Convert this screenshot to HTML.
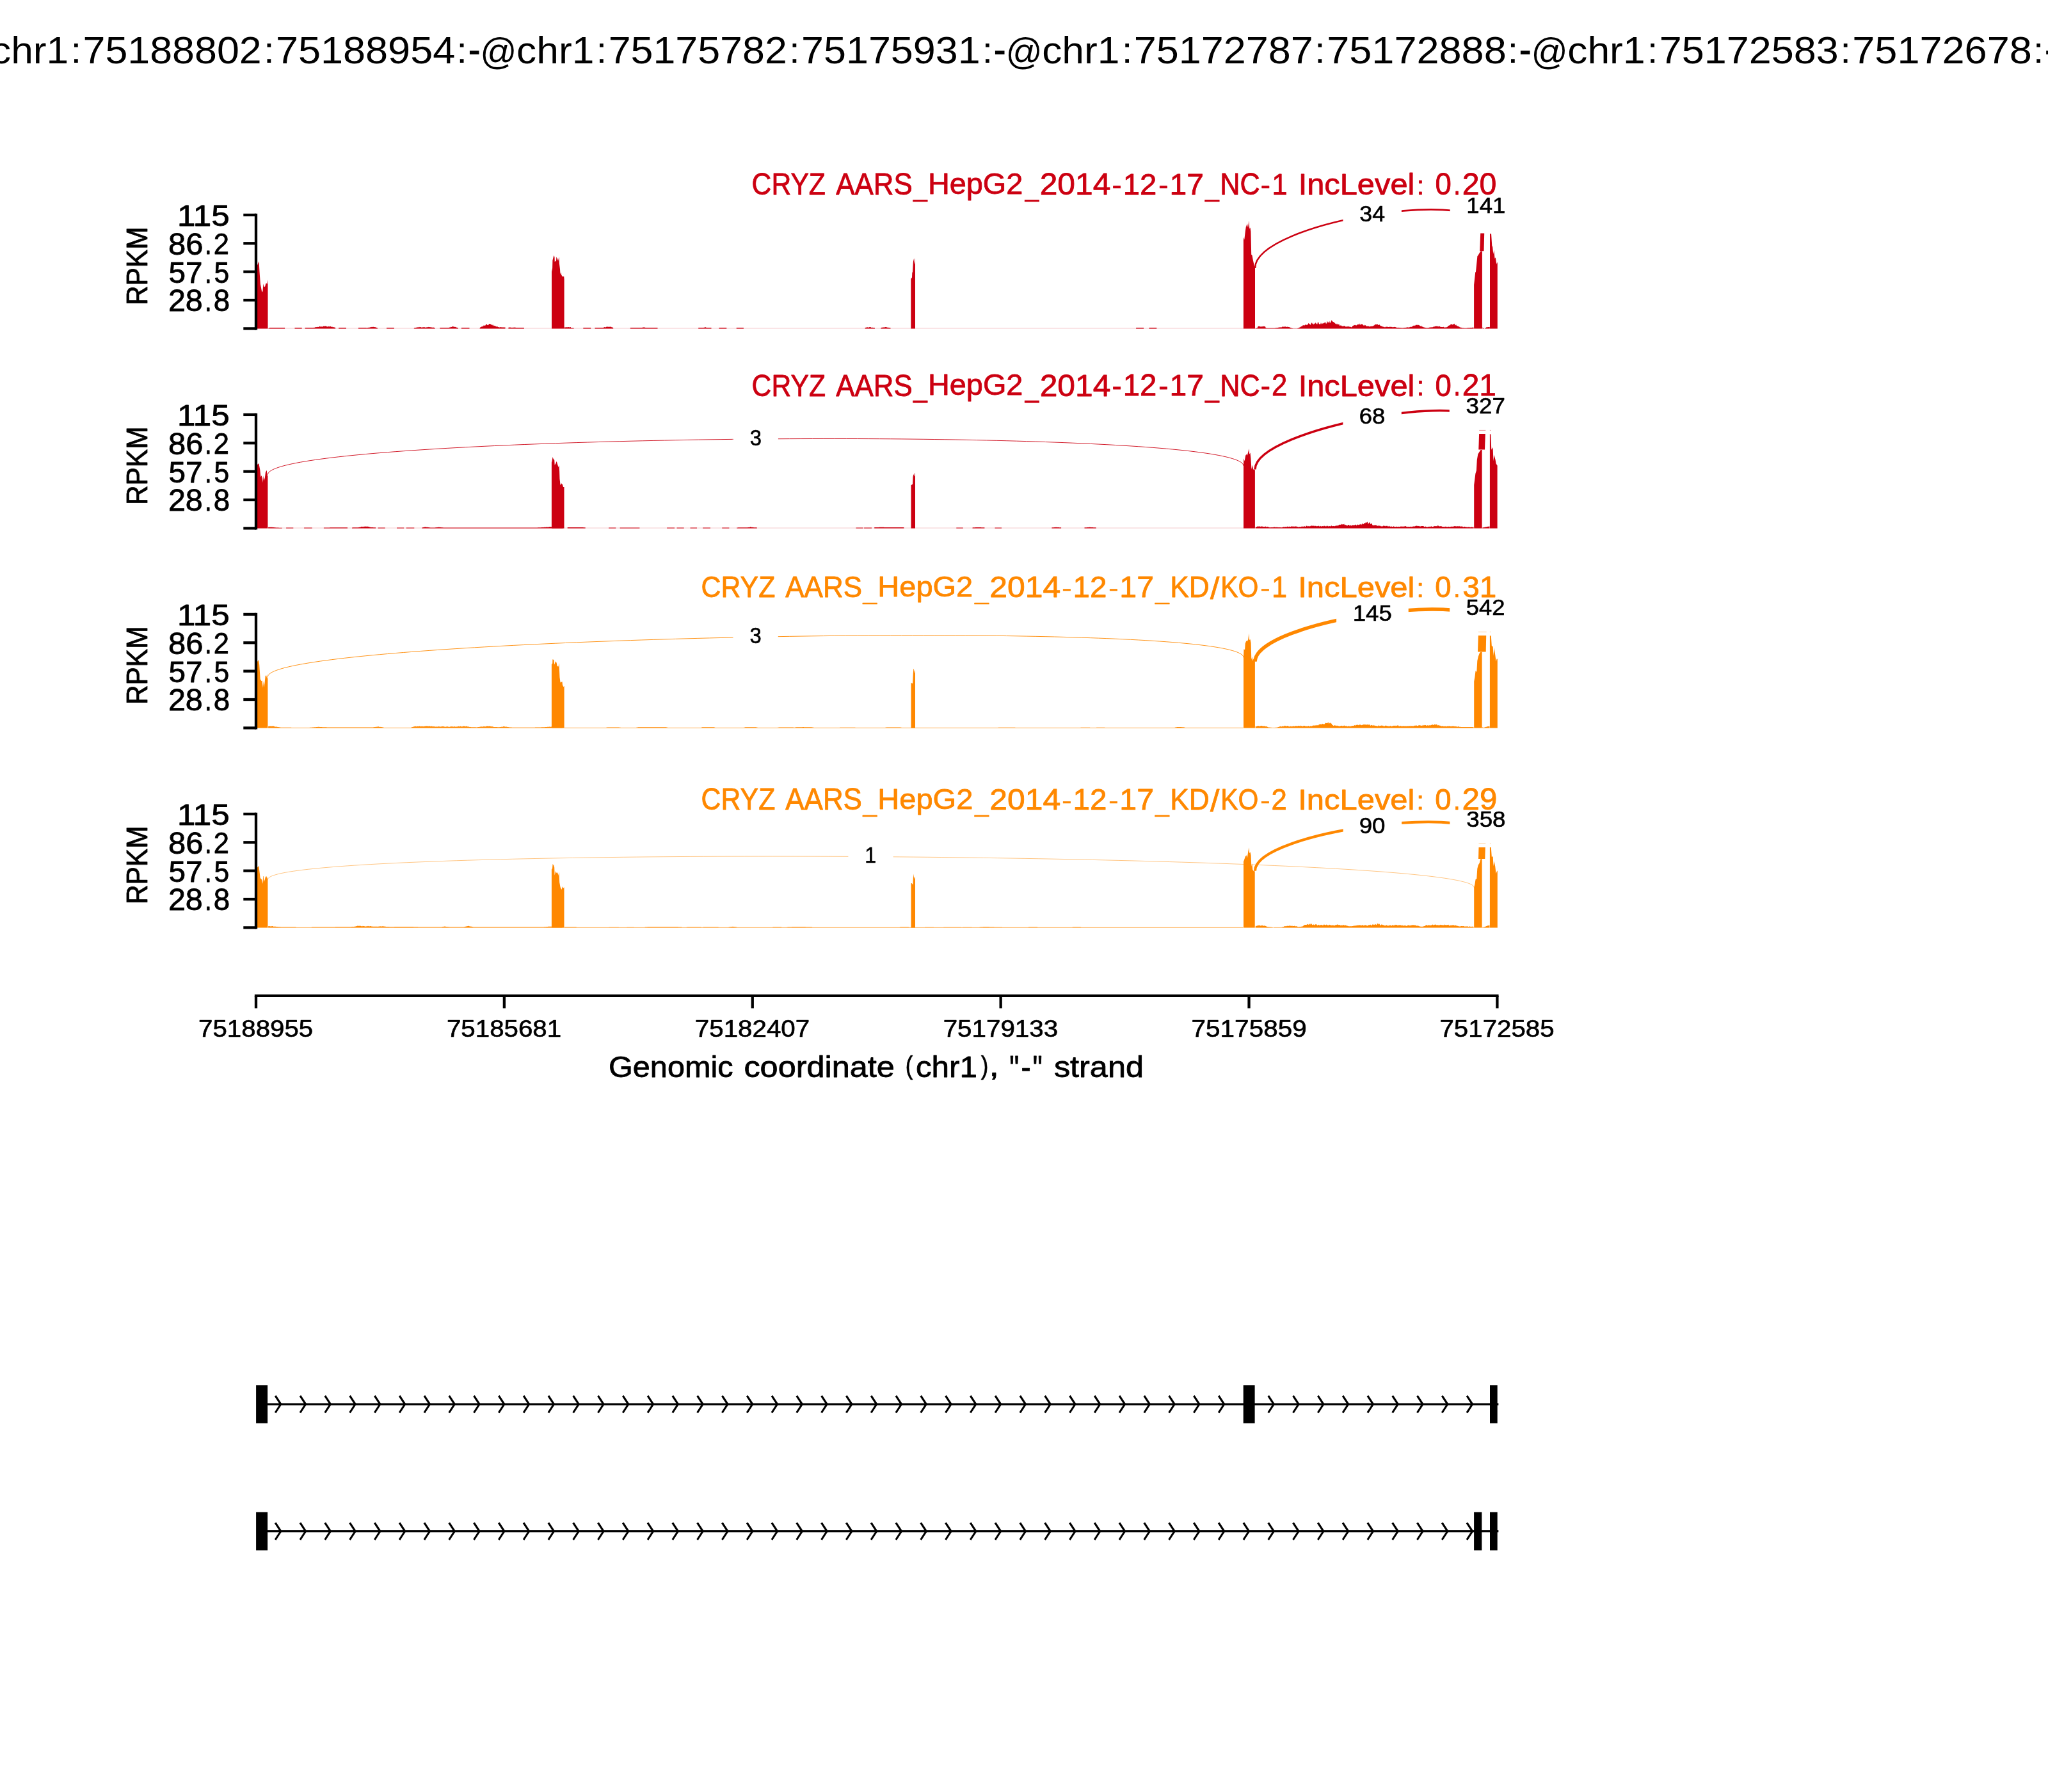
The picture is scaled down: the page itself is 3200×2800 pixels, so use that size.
<!DOCTYPE html><html><head><meta charset="utf-8"><title>sashimi</title><style>html,body{margin:0;padding:0;background:#fff}svg{display:block;will-change:transform}text{white-space:pre}</style></head><body><svg width="3200" height="2800" viewBox="0 0 3200 2800"><rect width="3200" height="2800" fill="#fff"/><g><rect x="402" y="512.6" width="1937.8" height="0.8" fill="#CC0011" opacity="0.27"/><path d="M419.2,513.4L419.2,513.14L419.9,512.88L420.6,512.62L421.3,512.36L422,512.1L422.7,512.1L423.4,512.1L424.1,512.1L424.8,512.1L425.5,512.1L426.2,512.1L426.9,512.1L427.6,512.1L428.3,512.1L429,512.1L429.7,512.1L430.4,512.1L431.1,512.1L431.8,512.1L432.5,512.1L433.2,512.1L433.9,512.1L434.6,512.1L435.3,512.1L436,512.1L436.7,512.1L437.4,512.1L438.1,512.1L438.8,512.1L439.5,512.1L440.2,512.1L440.9,512.1L441.6,512.1L442.3,512.1L443,512.1L443.7,512.1L444.4,512.1L445.1,512.1L445.1,513.4ZM460.5,513.4L460.5,512.1L461.2,512.1L461.9,512.1L462.6,512.1L463.3,512.1L464,512.1L464.7,512.1L465.4,512.1L466.1,512.1L466.8,512.1L467.5,512.1L468.2,512.1L468.9,512.1L469.6,512.1L470.3,512.1L471,512.1L471.7,512.1L471.7,513.4ZM476.6,513.4L476.6,512.09L477.3,512.08L478,512.07L478.7,512.06L479.4,512.05L480.1,512.04L480.8,512.03L481.5,512.02L482.2,512.01L482.9,512L483.6,511.99L484.3,511.98L485,511.97L485.7,511.96L486.4,511.95L487.1,511.94L487.8,511.93L488.5,511.92L489.2,511.91L489.9,511.9L490.6,511.8L491.3,511.95L492,511.6L492.7,511.22L493.4,511.15L494.1,510.99L494.8,511.17L495.5,510.66L496.2,510.83L496.9,511.26L497.6,510.72L498.3,511.13L499,509.91L499.7,509.78L500.4,510.5L501.1,510.44L501.8,509.68L502.5,510.42L503.2,510.4L503.9,510.38L504.6,510.14L505.3,509.71L506,509.19L506.7,510.35L507.4,509.2L508.1,509.81L508.8,509.28L509.5,509.41L510.2,510.44L510.9,509.74L511.6,510.57L512.3,510.79L513,510.27L513.7,509.77L514.4,510.12L515.1,510.69L515.8,509.85L516.5,509.81L517.2,510.78L517.9,510.66L518.6,510.58L519.3,510.45L520,511.43L520.7,511.14L521.4,510.92L522.1,511.4L522.8,511.47L523.5,511.6L524.2,512.5L524.2,513.4ZM529.1,513.4L529.1,512.1L529.8,512.1L530.5,512.1L531.2,512.1L531.9,512.1L532.6,512.1L533.3,512.1L534,512.1L534.7,512.1L535.4,512.1L536.1,512.1L536.8,512.1L537.5,512.1L538.2,512.1L538.9,512.1L539.6,512.1L540.3,512.1L541,512.1L541,513.4ZM559.9,513.4L559.9,512.1L560.6,512.1L561.3,512.1L562,512.1L562.7,512.1L563.4,512.1L564.1,512.1L564.8,512.1L565.5,512.1L566.2,512.1L566.9,512.1L567.6,512.1L568.3,512.1L569,512.1L569.7,512.1L570.4,512.1L571.1,512.1L571.8,512.1L572.5,512.15L573.2,512.36L573.9,512.23L574.6,512.1L575.3,511.97L576,511.84L576.7,511.71L577.4,511.75L578.1,511.38L578.8,511.3L579.5,511.35L580.2,510.74L580.9,511.24L581.6,511.12L582.3,510.84L583,510.78L583.7,510.7L584.4,510.95L585.1,511.37L585.8,510.99L586.5,511.15L587.2,511.51L587.9,511.85L588.6,512.04L589.3,512.22L590,512.4L590,513.4ZM604,513.4L604,512.1L604.7,512.1L605.4,512.1L606.1,512.1L606.8,512.1L607.5,512.1L608.2,512.1L608.9,512.1L609.6,512.1L610.3,512.1L611,512.1L611.7,512.1L612.4,512.1L613.1,512.1L613.8,512.1L614.5,512.1L615.2,512.1L615.9,512.1L615.9,513.4ZM646.7,513.4L646.7,513.15L647.4,512.33L648.1,512.22L648.8,512.11L649.5,511.99L650.2,511.88L650.9,511.57L651.6,511.64L652.3,511.54L653,511.35L653.7,511.64L654.4,511.03L655.1,510.74L655.8,511.47L656.5,510.91L657.2,510.99L657.9,511.59L658.6,511.68L659.3,511.2L660,511.57L660.7,511.52L661.4,511.27L662.1,511.26L662.8,511.15L663.5,511.28L664.2,511.47L664.9,511.74L665.6,511.63L666.3,511.53L667,511.19L667.7,510.97L668.4,511.45L669.1,511.24L669.8,510.67L670.5,511.25L671.2,511.02L671.9,511.18L672.6,511.22L673.3,511.46L674,511.47L674.7,511.42L675.4,511.91L676.1,511.5L676.8,511.53L677.5,511.87L678.2,511.94L678.9,512.01L679.6,512.08L679.6,513.4ZM687.3,513.4L687.3,512.1L688,512.1L688.7,512.1L689.4,512.1L690.1,512.1L690.8,512.1L691.5,512.1L692.2,512.1L692.9,512.1L693.6,512.1L694.3,512.1L695,512.1L695.7,512.1L696.4,512.1L697.1,512.1L697.8,512.1L698.5,512.1L699.2,512.1L699.9,512.1L700.6,511.93L701.3,512.06L702,511.78L702.7,511.56L703.4,511.53L704.1,511.32L704.8,510.56L705.5,511L706.2,510.91L706.9,509.49L707.6,510.33L708.3,510.25L709,510.45L709.7,510.73L710.4,510.7L711.1,511.11L711.8,510.78L712.5,511.34L713.2,511.67L713.9,511.84L714.6,511.88L715.3,512.14L716,512.4L716,513.4ZM720.9,513.4L720.9,512.1L721.6,512.1L722.3,512.1L723,512.1L723.7,512.1L724.4,512.1L725.1,512.1L725.8,512.1L726.5,512.1L727.2,512.1L727.9,512.1L728.6,512.1L729.3,512.1L730,512.1L730.7,512.1L731.4,512.1L732.1,512.1L732.8,512.1L733.5,512.1L733.5,513.4ZM749.6,513.4L749.6,512.5L750.3,511.81L751,511.02L751.7,510.95L752.4,510.13L753.1,510.48L753.8,510.36L754.5,509.3L755.2,509.86L755.9,507.97L756.6,508.83L757.3,508.82L758,508.64L758.7,508.37L759.4,506.6L760.1,506.21L760.8,507.13L761.5,507.82L762.2,508.28L762.9,507.91L763.6,507.08L764.3,506.09L765,506.32L765.7,505.84L766.4,506.13L767.1,507.6L767.8,506.91L768.5,507.68L769.2,507.13L769.9,508.64L770.6,507.04L771.3,509.47L772,508.46L772.7,509.27L773.4,508.71L774.1,510.15L774.8,509.2L775.5,510.77L776.2,509.88L776.9,510.12L777.6,510.57L778.3,511.14L779,511.07L779.7,511.18L780.4,511.49L781.1,511.57L781.8,510.95L782.5,511.26L783.2,511.54L783.9,511.25L784.6,511.27L785.3,511.73L786,511.37L786.7,511.4L787.4,511.83L788.1,511.69L788.8,511.27L789.5,511.52L789.5,513.4ZM794.4,513.4L794.4,511.82L795.1,511.68L795.8,511.63L796.5,511.44L797.2,511.31L797.9,511.93L798.6,511.96L799.3,511.65L800,511.98L800.7,511.87L801.4,511.91L802.1,511.93L802.8,511.5L803.5,511.92L804.2,511.55L804.9,511.23L805.6,511.9L806.3,512.1L807,512.1L807.7,512.1L808.4,512.1L809.1,512.1L809.8,512.1L810.5,512.1L811.2,512.1L811.9,512.1L812.6,512.1L813.3,512.1L814,512.1L814.7,512.1L815.4,512.1L816.1,512.1L816.8,512.1L817.5,512.1L818.2,512.1L818.9,512.1L818.9,513.4ZM881.9,513.4L881.9,511.72L882.6,511.17L883.3,511.33L884,511.69L884.7,511L885.4,511.19L886.1,511.51L886.8,511.06L887.5,511.75L888.2,511.11L888.9,511.1L889.6,511.74L890.3,511.03L891,511.15L891.7,511.04L892.4,512.4L893.1,512.4L893.8,512.4L894.5,512.4L895.2,512.4L895.9,512.4L896.6,512.4L896.6,513.4ZM911.3,513.4L911.3,512.1L912,512.1L912.7,512.1L913.4,512.1L914.1,512.1L914.8,512.1L915.5,512.1L916.2,512.1L916.9,512.1L917.6,512.1L918.3,512.1L919,512.1L919.7,512.1L920.4,512.1L921.1,512.1L921.8,512.1L922.5,512.1L923.2,512.1L923.2,513.4ZM929.5,513.4L929.5,512.1L930.2,512.1L930.9,512.1L931.6,512.1L932.3,512.1L933,512.1L933.7,512.1L934.4,512.1L935.1,512.1L935.8,512.1L936.5,512.1L937.2,512.1L937.9,512.1L938.6,512.1L939.3,512.1L940,512.1L940.7,512.1L941.4,512.1L942.1,512.07L942.8,511.87L943.5,511.84L944.2,511.27L944.9,511.02L945.6,511.23L946.3,511.4L947,511.26L947.7,510.48L948.4,510.34L949.1,510.89L949.8,510.23L950.5,510.99L951.2,510.43L951.9,510.39L952.6,510.79L953.3,511.07L954,510.22L954.7,510.52L955.4,511.03L956.1,511.75L956.8,511.51L957.5,511.4L958.2,511.95L958.2,513.4ZM984.8,513.4L984.8,512.1L985.5,512.09L986.2,512.09L986.9,512.08L987.6,512.07L988.3,512.06L989,512.06L989.7,512.05L990.4,512.04L991.1,512.03L991.8,512.03L992.5,512.02L993.2,512.01L993.9,512.01L994.6,512L995.3,511.99L996,511.98L996.7,511.98L997.4,511.97L998.1,511.96L998.8,511.95L999.5,511.95L1000.2,511.94L1000.9,511.93L1001.6,511.92L1002.3,511.92L1003,511.91L1003.7,511.9L1004.4,511.57L1005.1,511.36L1005.8,511.7L1006.5,511.31L1007.2,511.83L1007.9,511.87L1008.6,511.91L1009.3,511.91L1010,511.92L1010.7,511.93L1011.4,511.93L1012.1,511.94L1012.8,511.95L1013.5,511.96L1014.2,511.96L1014.9,511.97L1015.6,511.98L1016.3,511.98L1017,511.99L1017.7,512L1018.4,512L1019.1,512.01L1019.8,512.02L1020.5,512.03L1021.2,512.03L1021.9,512.04L1022.6,512.05L1023.3,512.05L1024,512.06L1024.7,512.07L1025.4,512.07L1026.1,512.08L1026.8,512.09L1027.5,512.1L1027.5,513.4ZM1091.2,513.4L1091.2,512.09L1091.9,512.07L1092.6,512.06L1093.3,512.04L1094,512.03L1094.7,512.01L1095.4,512L1096.1,511.98L1096.8,511.97L1097.5,511.95L1098.2,511.94L1098.9,511.92L1099.6,511.91L1100.3,511.45L1101,511.95L1101.7,511.56L1102.4,511L1103.1,511.89L1103.8,511.83L1104.5,511.91L1105.2,511.93L1105.9,511.95L1106.6,511.97L1107.3,511.98L1108,512L1108.7,512.02L1109.4,512.04L1110.1,512.05L1110.8,512.07L1111.5,512.09L1111.5,513.4ZM1123.4,513.4L1123.4,512.1L1124.1,512.1L1124.8,512.1L1125.5,512.1L1126.2,512.1L1126.9,512.1L1127.6,512.1L1128.3,512.1L1129,512.1L1129.7,512.1L1130.4,512.1L1131.1,512.1L1131.8,512.1L1132.5,512.1L1133.2,512.1L1133.9,512.1L1134.6,512.1L1135.3,512.1L1135.3,513.4ZM1150.7,513.4L1150.7,512.1L1151.4,512.1L1152.1,512.1L1152.8,512.1L1153.5,512.1L1154.2,512.1L1154.9,512.1L1155.6,512.1L1156.3,512.1L1157,512.1L1157.7,512.1L1158.4,512.1L1159.1,512.1L1159.8,512.1L1160.5,512.1L1161.2,512.1L1161.9,512.1L1161.9,513.4ZM1351.6,513.4L1351.6,512.5L1352.3,511.87L1353,511.94L1353.7,511.87L1354.4,511.37L1355.1,511.43L1355.8,511.16L1356.5,511.71L1357.2,511.75L1357.9,511.45L1358.6,510.99L1359.3,511.13L1360,510.95L1360.7,511.26L1361.4,511.88L1362.1,511.78L1362.8,511.95L1363.5,511.84L1364.2,511.93L1364.9,512.03L1365.6,512.13L1366.3,512.23L1367,512.33L1367,513.4ZM1376.1,513.4L1376.1,513.25L1376.8,512.2L1377.5,511.85L1378.2,511.95L1378.9,511.59L1379.6,511.68L1380.3,511.36L1381,511.9L1381.7,511.08L1382.4,511.66L1383.1,511.06L1383.8,510.89L1384.5,511.7L1385.2,511.34L1385.9,511.08L1386.6,511.98L1387.3,511.7L1388,511.8L1388.7,511.91L1389.4,512.01L1390.1,512.12L1390.8,512.22L1391.5,512.33L1391.5,513.4ZM1775.1,513.4L1775.1,512.1L1775.8,512.1L1776.5,512.1L1777.2,512.1L1777.9,512.1L1778.6,512.1L1779.3,512.1L1780,512.1L1780.7,512.1L1781.4,512.1L1782.1,512.1L1782.8,512.1L1783.5,512.1L1784.2,512.1L1784.9,512.1L1785.6,512.1L1786.3,512.1L1787,512.1L1787,513.4ZM1795.4,513.4L1795.4,512.1L1796.1,512.1L1796.8,512.1L1797.5,512.1L1798.2,512.1L1798.9,512.1L1799.6,512.1L1800.3,512.1L1801,512.1L1801.7,512.1L1802.4,512.1L1803.1,512.1L1803.8,512.1L1804.5,512.1L1805.2,512.1L1805.9,512.1L1806.6,512.1L1807.3,512.1L1807.3,513.4ZM1961.7,513.4L1961.7,512.8L1962.4,512.8L1963.1,512.8L1963.8,512.8L1964.5,512.8L1965.2,510.44L1965.9,510.2L1966.6,509.4L1967.3,510.33L1968,509.19L1968.7,510.16L1969.4,510.58L1970.1,509.92L1970.8,510.36L1971.5,510.61L1972.2,510.22L1972.9,509.95L1973.6,510.38L1974.3,509.39L1975,510.25L1975.7,509.66L1976.4,510.2L1977.1,510.59L1977.8,512.6L1978.5,512.62L1979.2,512.63L1979.9,512.64L1980.6,512.65L1981.3,512.66L1982,512.67L1982.7,512.68L1983.4,512.69L1984.1,512.71L1984.8,512.72L1985.5,512.73L1986.2,512.74L1986.9,512.75L1987.6,512.76L1988.3,512.77L1989,512.78L1989.7,512.8L1990.4,512.81L1991.1,512.76L1991.8,512.66L1992.5,512.56L1993.2,512.46L1993.9,512.36L1994.6,512.26L1995.3,512.16L1996,512.06L1996.7,511.96L1997.4,511.86L1998.1,511.79L1998.8,511.48L1999.5,511.51L2000.2,511.25L2000.9,511.61L2001.6,511.49L2002.3,511.4L2003,510.9L2003.7,510.35L2004.4,510.79L2005.1,510.12L2005.8,510.98L2006.5,510.86L2007.2,510.31L2007.9,510.2L2008.6,510.21L2009.3,511.04L2010,510.57L2010.7,510.97L2011.4,510.41L2012.1,510.78L2012.8,510.84L2013.5,510.93L2014.2,510.94L2014.9,511.57L2015.6,511.34L2016.3,511.9L2017,512.14L2017.7,512.39L2018.4,512.63L2019.1,512.88L2019.8,513.12L2020.5,513.2L2021.2,513.2L2021.9,513.2L2022.6,513.2L2023.3,513.2L2024,513.2L2024.7,513.2L2025.4,513.2L2026.1,513.2L2026.8,513.2L2027.5,512.95L2028.2,512.67L2028.9,512.39L2029.6,512.08L2030.3,511.91L2031,511.12L2031.7,511.52L2032.4,510.57L2033.1,509.96L2033.8,510.02L2034.5,509.95L2035.2,508.77L2035.9,508.37L2036.6,508.15L2037.3,508.58L2038,507.82L2038.7,508.81L2039.4,507.3L2040.1,507.76L2040.8,506.61L2041.5,508.32L2042.2,506.97L2042.9,507.81L2043.6,507.01L2044.3,504.92L2045,505.49L2045.7,505.74L2046.4,506.55L2047.1,507.32L2047.8,507.47L2048.5,505.68L2049.2,504.1L2049.9,504.84L2050.6,506.55L2051.3,503.85L2052,506.38L2052.7,506.96L2053.4,505.25L2054.1,505.39L2054.8,506.71L2055.5,503.53L2056.2,505.77L2056.9,505.33L2057.6,506.59L2058.3,506.65L2059,503.16L2059.7,503.14L2060.4,504.46L2061.1,506.63L2061.8,506.31L2062.5,506.36L2063.2,506.85L2063.9,504.01L2064.6,505.3L2065.3,506.87L2066,506.03L2066.7,505.19L2067.4,504.83L2068.1,504.69L2068.8,506.04L2069.5,503.31L2070.2,505.95L2070.9,504.44L2071.6,503.12L2072.3,505.56L2073,505.81L2073.7,501.55L2074.4,502.63L2075.1,504.67L2075.8,502.4L2076.5,504.78L2077.2,501.24L2077.9,504.79L2078.6,504.3L2079.3,503.61L2080,501.44L2080.7,500.03L2081.4,503.04L2082.1,500.72L2082.8,503.03L2083.5,503.32L2084.2,502.9L2084.9,505.24L2085.6,503.88L2086.3,505.6L2087,506.58L2087.7,505.25L2088.4,506.04L2089.1,507.84L2089.8,505.39L2090.5,506.17L2091.2,507.3L2091.9,506.61L2092.6,506.94L2093.3,508.98L2094,509.1L2094.7,508.32L2095.4,508.69L2096.1,508.39L2096.8,509.63L2097.5,509.83L2098.2,509.47L2098.9,508.49L2099.6,510.3L2100.3,508.81L2101,509.52L2101.7,510.01L2102.4,510.51L2103.1,510.08L2103.8,510.19L2104.5,510.83L2105.2,510.43L2105.9,509.81L2106.6,509.87L2107.3,510.28L2108,510.75L2108.7,510.27L2109.4,511.31L2110.1,510.61L2110.8,510.72L2111.5,511.39L2112.2,510.9L2112.9,510.26L2113.6,509.03L2114.3,508.74L2115,509.04L2115.7,507.65L2116.4,508.28L2117.1,507.48L2117.8,508.35L2118.5,508.29L2119.2,508.19L2119.9,508.51L2120.6,506.86L2121.3,506.96L2122,507.49L2122.7,506.73L2123.4,506.31L2124.1,505.31L2124.8,507.71L2125.5,507.96L2126.2,505.86L2126.9,505.89L2127.6,506.68L2128.3,507.34L2129,506.44L2129.7,506.82L2130.4,508.91L2131.1,507.72L2131.8,507.73L2132.5,509.11L2133.2,508.25L2133.9,508.32L2134.6,509.34L2135.3,509.7L2136,509.67L2136.7,509.43L2137.4,509.71L2138.1,509.24L2138.8,510.03L2139.5,510.31L2140.2,510.6L2140.9,509.8L2141.6,510.07L2142.3,510.04L2143,509.53L2143.7,509.76L2144.4,509.67L2145.1,509.34L2145.8,509.5L2146.5,508.55L2147.2,508.49L2147.9,507.64L2148.6,506.21L2149.3,507.24L2150,506.52L2150.7,506.98L2151.4,507.37L2152.1,506.18L2152.8,506.98L2153.5,507.91L2154.2,507.87L2154.9,507.44L2155.6,507.11L2156.3,509.17L2157,509.27L2157.7,508.21L2158.4,509.42L2159.1,510.11L2159.8,509.46L2160.5,510.42L2161.2,511.08L2161.9,510.19L2162.6,510.79L2163.3,511.3L2164,511.3L2164.7,511.17L2165.4,510.37L2166.1,510.64L2166.8,510.55L2167.5,510.68L2168.2,510.58L2168.9,511.02L2169.6,510.92L2170.3,510.85L2171,510.51L2171.7,510.92L2172.4,510.45L2173.1,511.05L2173.8,510.75L2174.5,510.64L2175.2,511.16L2175.9,511.22L2176.6,510.67L2177.3,511.28L2178,511.05L2178.7,510.68L2179.4,511.06L2180.1,511.12L2180.8,511.25L2181.5,511.65L2182.2,511.8L2182.9,511.8L2183.6,511.94L2184.3,511.98L2185,511.83L2185.7,511.9L2186.4,511.97L2187.1,512.04L2187.8,512.11L2188.5,512.18L2189.2,512.25L2189.9,512.32L2190.6,512.39L2191.3,512.39L2192,512.32L2192.7,512.25L2193.4,512.18L2194.1,512.11L2194.8,512.04L2195.5,511.97L2196.2,511.9L2196.9,511.82L2197.6,511.73L2198.3,511.6L2199,511.37L2199.7,511.43L2200.4,511.73L2201.1,511.39L2201.8,511.34L2202.5,511.48L2203.2,510.56L2203.9,511.26L2204.6,510.62L2205.3,511L2206,510.37L2206.7,510.51L2207.4,509.18L2208.1,509.25L2208.8,508.74L2209.5,508.12L2210.2,509.21L2210.9,508.76L2211.6,508.41L2212.3,507.87L2213,507.37L2213.7,507.99L2214.4,508.16L2215.1,506.88L2215.8,508.37L2216.5,507.58L2217.2,508.82L2217.9,508.07L2218.6,508.78L2219.3,509.89L2220,508.81L2220.7,508.89L2221.4,510L2222.1,510.89L2222.8,509.95L2223.5,510.99L2224.2,510.94L2224.9,511.77L2225.6,511.56L2226.3,511.87L2227,511.97L2227.7,512.08L2228.4,512.18L2229.1,512.29L2229.8,512.39L2230.5,512.34L2231.2,512.22L2231.9,512.11L2232.6,511.99L2233.3,511.87L2234,511.54L2234.7,511.8L2235.4,511.62L2236.1,511L2236.8,511.65L2237.5,511.12L2238.2,511.49L2238.9,510.97L2239.6,510.34L2240.3,511.07L2241,510.3L2241.7,510.14L2242.4,509.75L2243.1,509.71L2243.8,509.74L2244.5,509.73L2245.2,509.31L2245.9,509.5L2246.6,510.17L2247.3,510.48L2248,509.5L2248.7,509.95L2249.4,509.48L2250.1,510.77L2250.8,510.7L2251.5,510.39L2252.2,510.9L2252.9,511.05L2253.6,511.12L2254.3,511.29L2255,510.86L2255.7,510.85L2256.4,511.55L2257.1,511.61L2257.8,511.87L2258.5,511.59L2259.2,511.25L2259.9,511.4L2260.6,511.26L2261.3,510.98L2262,510.37L2262.7,509.22L2263.4,509.05L2264.1,508.45L2264.8,507.97L2265.5,508.88L2266.2,507.58L2266.9,506.62L2267.6,506.52L2268.3,506.28L2269,507.65L2269.7,507.1L2270.4,506.19L2271.1,507.14L2271.8,505.75L2272.5,505.78L2273.2,507.16L2273.9,508.66L2274.6,507.74L2275.3,507.27L2276,509.4L2276.7,508.56L2277.4,509.51L2278.1,510.34L2278.8,509.51L2279.5,510.55L2280.2,510.4L2280.9,511.49L2281.6,511.59L2282.3,511.69L2283,511.82L2283.7,512.07L2284.4,512.32L2285.1,512.45L2285.8,512.5L2286.5,512.54L2287.2,512.59L2287.9,512.64L2288.6,512.68L2289.3,512.73L2290,512.78L2290.7,512.78L2291.4,512.64L2292.1,512.5L2292.8,512.4L2293.5,512.35L2294.2,512.3L2294.9,512.24L2295.6,512.19L2296.3,512.14L2297,512.09L2297.7,512.03L2298.4,511.98L2299.1,511.93L2299.8,511.88L2300.5,511.84L2301.2,511.84L2301.9,511.84L2302.6,511.84L2302.6,513.4ZM2316.6,513.4L2316.6,511.33L2317.3,512.21L2318,513.1L2318.7,513.24L2318.7,513.4ZM2320.1,513.4L2320.1,513.24L2320.8,513.05L2321.5,512.2L2322.2,511.38L2322.9,511.31L2323.6,511.24L2324.3,511.17L2325,511.1L2325.7,511.03L2326.4,510.96L2327.1,510.89L2327.8,510.82L2327.8,513.4Z" fill="#CC0011"/><path d="M402,513.4 L402,414.5 L404.6,408.3 L405.5,424.3 L406.9,443.9 L409.3,456.4 L410.5,455 L411.4,443.2 L412.5,448.4 L414.2,447.4 L415.2,443.2 L416.6,442.5 L417.3,443.9 L418.5,436.9 L418.5,513.4Z" fill="#CC0011" /><path d="M862,513.4 L862,424.8 L863.1,419 L863.4,406.7 L865.4,399.1 L866.5,401.6 L866.8,408.9 L869,407.4 L869.4,401.6 L870.7,403.8 L872.1,407.4 L873.4,401.6 L873.9,411.8 L875,420.5 L875.5,428.5 L876.5,425.6 L877.2,429.5 L878.7,432.1 L881.2,432.1 L881.6,436.4 L881.6,513.4Z" fill="#CC0011" /><path d="M1423.3,513.4 L1423.3,435.7 L1425,433.6 L1425.3,426.3 L1426,424.8 L1426.8,410.3 L1427.5,404.2 L1428.6,413.2 L1429.5,403.8 L1430,404.5 L1430,513.4Z" fill="#CC0011" /><path d="M1942.9,513.4 L1942.9,375.6 L1943.3,370.8 L1944.3,374.5 L1945.9,360.7 L1947.3,351.2 L1948.2,355.4 L1948.9,349.1 L1950.1,355.4 L1951.5,344.8 L1952.3,357.6 L1953.5,355.4 L1954.4,361.8 L1955.2,397.8 L1956.5,398.9 L1957.8,406.3 L1959.7,414.8 L1960.7,419 L1961,419 L1961,513.4Z" fill="#CC0011" /><path d="M2303.1,513.4 L2303.1,444.9 L2305.3,424.8 L2305.9,425.5 L2308.4,400.2 L2309.5,399 L2313.2,392.7 L2315.9,392.2 L2315.9,513.4Z" fill="#CC0011" /><path d="M2328,513.4 L2328,364.6 L2330,364.6 L2331.4,385.7 L2332,384 L2333.3,397 L2334.3,390.5 L2335.6,404 L2336.8,402.3 L2338.3,413 L2339.2,409.5 L2339.8,411.8 L2339.8,513.4Z" fill="#CC0011" /><path d="M1961,419C1961,346.5 2328,288.3 2328,360.8" fill="none" stroke="#CC0011" stroke-width="2.6" opacity="1.0"/><rect x="2098.49" y="290.2" width="91.42" height="88" fill="#fff"/><rect x="2265.69" y="277.2" width="112.62" height="88" fill="#fff"/><path d="M2312.2,392.2 L2318.5,392.2 L2319.2,364.6 L2313.2,364.6Z" fill="#CC0011" /><path d="M400,333.75V515.55" stroke="#000" stroke-width="4.3" fill="none"/><path d="M380.3,335.9H400" stroke="#000" stroke-width="4.3" fill="none"/><path d="M380.3,380.27H400" stroke="#000" stroke-width="4.3" fill="none"/><path d="M380.3,424.65H400" stroke="#000" stroke-width="4.3" fill="none"/><path d="M380.3,469.02H400" stroke="#000" stroke-width="4.3" fill="none"/><path d="M380.3,513.4H400" stroke="#000" stroke-width="4.3" fill="none"/><g transform="translate(360.6,352.9)" font-family="Liberation Sans, sans-serif" font-size="45.33" fill="#000" stroke="#000" stroke-width="0.8" stroke-linejoin="round" opacity="0.999"><text transform="translate(-83.55,0.43) scale(1.1289,1.0385)">115</text></g><g transform="translate(360.6,397.27)" font-family="Liberation Sans, sans-serif" font-size="45.33" fill="#000" stroke="#000" stroke-width="0.8" stroke-linejoin="round" opacity="0.999"><text transform="translate(-97.68,0.37) scale(1.0797,1.0510)">86</text><text transform="translate(-40.6,-0.1) scale(0.8439,1.0530)">.</text><text transform="translate(-26.82,-0.1) scale(0.9606,1.0363)">2</text></g><g transform="translate(360.6,441.65)" font-family="Liberation Sans, sans-serif" font-size="45.33" fill="#000" stroke="#000" stroke-width="0.8" stroke-linejoin="round" opacity="0.999"><text transform="translate(-97.07,0.43) scale(1.0512,1.0385)">57</text><text transform="translate(-40.6,-0.1) scale(0.8439,1.0530)">.</text><text transform="translate(-26.2,0.43) scale(0.9396,1.0385)">5</text></g><g transform="translate(360.6,486.02)" font-family="Liberation Sans, sans-serif" font-size="45.33" fill="#000" stroke="#000" stroke-width="0.8" stroke-linejoin="round" opacity="0.999"><text transform="translate(-97.69,0.37) scale(1.0688,1.0512)">28</text><text transform="translate(-40.6,-0.1) scale(0.8439,1.0530)">.</text><text transform="translate(-26.89,0.37) scale(1.0082,1.0510)">8</text></g><g transform="translate(230.6,415.85) rotate(-90)" font-family="Liberation Sans, sans-serif" font-size="45.33" fill="#000" stroke="#000" stroke-width="0.8" stroke-linejoin="round" opacity="0.999"><text transform="translate(-61.25,-0.4) scale(0.9368,1.0063)">RPKM</text></g><g transform="translate(2144.2,346.35)" font-family="Liberation Sans, sans-serif" font-size="34.0" fill="#000" stroke="#000" stroke-width="0.6" stroke-linejoin="round" opacity="0.999"><text transform="translate(-19.89,0.1) scale(1.0513,1.0522)">34</text></g><g transform="translate(2322,333.35)" font-family="Liberation Sans, sans-serif" font-size="34.0" fill="#000" stroke="#000" stroke-width="0.6" stroke-linejoin="round" opacity="0.999"><text transform="translate(-30.67,0.1) scale(1.0743,1.0522)">141</text></g><g transform="translate(2340.2,304.2)" font-family="Liberation Sans, sans-serif" font-size="45.49" fill="#CC0011" stroke="#CC0011" stroke-width="0.8" stroke-linejoin="round" opacity="0.999"><text transform="translate(-1165.59,0.07) scale(0.9377,1.0512)">CRYZ</text><text transform="translate(-1034.07,0.13) scale(0.9651,1.0532)">AARS</text><text transform="translate(-913,2.51) scale(0.8490,0.8991)">_</text><text transform="translate(-890.26,-1.44) scale(1.0301,1.0040)">HepG2</text><text transform="translate(-738.5,2.51) scale(0.8490,0.8991)">_</text><text transform="translate(-715.52,0.07) scale(1.0934,1.0512)">2014</text><text transform="translate(-602.82,-0.34) scale(1.0029,0.9143)">-</text><text transform="translate(-585.56,-0.4) scale(1.0399,1.0356)">12</text><text transform="translate(-529.98,-0.34) scale(1.0029,0.9143)">-</text><text transform="translate(-512.78,-0.4) scale(1.0574,1.0218)">17</text><text transform="translate(-457.05,2.51) scale(0.8490,0.8991)">_</text><text transform="translate(-434.02,0.07) scale(0.9520,1.0512)">NC</text><text transform="translate(-370.35,-0.34) scale(1.0029,0.9143)">-</text><text transform="translate(-352.78,-0.4) scale(0.9497,1.0218)">1</text><text transform="translate(-311.57,0.13) scale(1.0730,1.0068)">IncLevel</text><text transform="translate(-126.8,-0.4) scale(0.9292,0.9079)">:</text><text transform="translate(-97.81,0.07) scale(1.0008,1.0510)">0</text><text transform="translate(-69.05,-0.4) scale(0.8371,1.0524)">.</text><text transform="translate(-55.47,0.07) scale(1.0601,1.0512)">20</text></g></g><g><rect x="402" y="824.6" width="1937.8" height="0.8" fill="#CC0011" opacity="0.27"/><path d="M419.1,825.4L419.1,823.8L419.8,823.8L420.5,823.8L421.2,823.8L421.9,823.8L422.6,823.8L423.3,823.8L424,823.8L424.7,823.8L425.4,823.84L426.1,823.91L426.8,823.98L427.5,824.05L428.2,824.12L428.9,824.19L429.6,824.26L430.3,824.33L431,824.4L431.7,824.47L432.4,824.51L433.1,824.54L433.8,824.56L434.5,824.58L435.2,824.61L435.9,824.63L436.6,824.65L437.3,824.68L438,824.7L438.7,824.72L439.4,824.75L440.1,824.77L440.8,824.79L440.8,825.4ZM447.1,825.4L447.1,824.4L447.8,824.4L448.5,824.4L449.2,824.4L449.9,824.4L450.6,824.4L451.3,824.4L452,824.4L452.7,824.4L453.4,824.4L454.1,824.4L454.8,824.4L455.5,824.4L456.2,824.4L456.9,824.4L457.6,824.4L458.3,824.4L458.3,825.4ZM475.1,825.4L475.1,824.4L475.8,824.4L476.5,824.4L477.2,824.4L477.9,824.4L478.6,824.4L479.3,824.4L480,824.4L480.7,824.4L481.4,824.4L482.1,824.4L482.8,824.4L483.5,824.4L484.2,824.4L484.9,824.4L485.6,824.4L486.3,824.4L487,824.4L487.7,824.4L487.7,825.4ZM505.9,825.4L505.9,824.4L506.6,824.4L507.3,824.4L508,824.39L508.7,824.39L509.4,824.39L510.1,824.39L510.8,824.39L511.5,824.38L512.2,824.38L512.9,824.38L513.6,824.38L514.3,824.38L515,824.38L515.7,824.37L516.4,824.37L517.1,824.37L517.8,824.37L518.5,824.37L519.2,824.36L519.9,824.36L520.6,824.36L521.3,824.36L522,824.36L522.7,824.35L523.4,824.35L524.1,824.35L524.8,824.35L525.5,824.35L526.2,824.35L526.9,824.34L527.6,824.34L528.3,824.34L529,824.34L529.7,824.34L530.4,824.33L531.1,824.33L531.8,824.33L532.5,824.33L533.2,824.33L533.9,824.33L534.6,824.32L535.3,824.32L536,824.32L536.7,824.32L537.4,824.32L538.1,824.31L538.8,824.31L539.5,824.31L540.2,824.31L540.9,824.31L541.6,824.31L542.3,824.3L543,824.3L543,825.4ZM550,825.4L550,824.39L550.7,824.38L551.4,824.36L552.1,824.35L552.8,824.34L553.5,824.32L554.2,824.31L554.9,824.3L555.6,824.28L556.3,824.27L557,824.26L557.7,824.24L558.4,824.23L559.1,824.22L559.8,824.2L560.5,824.1L561.2,823.96L561.9,823.82L562.6,823.62L563.3,823.79L564,822.99L564.7,822.86L565.4,823.15L566.1,822.81L566.8,823.22L567.5,823.14L568.2,822.98L568.9,822.42L569.6,822.93L570.3,821.88L571,822.97L571.7,822.85L572.4,823.03L573.1,822.23L573.8,822.79L574.5,822.71L575.2,822.94L575.9,822.63L576.6,823.07L577.3,823.45L578,823.41L578.7,823.7L579.4,824.02L580.1,823.91L580.8,823.95L581.5,824L582.2,824.05L582.9,824.09L583.6,824.14L584.3,824.19L585,824.23L585.7,824.28L586.4,824.33L587.1,824.37L587.1,825.4ZM590.6,825.4L590.6,824.4L591.3,824.4L592,824.4L592.7,824.4L593.4,824.4L594.1,824.4L594.8,824.4L595.5,824.4L596.2,824.4L596.9,824.4L597.6,824.4L598.3,824.4L599,824.4L599.7,824.4L600.4,824.4L601.1,824.4L601.8,824.4L601.8,825.4ZM620,825.4L620,824.4L620.7,824.4L621.4,824.4L622.1,824.4L622.8,824.4L623.5,824.4L624.2,824.4L624.9,824.4L625.6,824.4L626.3,824.4L627,824.4L627.7,824.4L628.4,824.4L629.1,824.4L629.8,824.4L630.5,824.4L631.2,824.4L631.2,825.4ZM634.7,825.4L634.7,824.4L635.4,824.4L636.1,824.4L636.8,824.4L637.5,824.4L638.2,824.4L638.9,824.4L639.6,824.4L640.3,824.4L641,824.4L641.7,824.4L642.4,824.4L643.1,824.4L643.8,824.4L644.5,824.4L645.2,824.4L645.9,824.4L646.6,824.4L647.3,824.4L647.3,825.4ZM659.2,825.4L659.2,824.73L659.9,824.3L660.6,824.18L661.3,824.06L662,823.94L662.7,823.82L663.4,823.46L664.1,823.46L664.8,823.47L665.5,823.3L666.2,823.68L666.9,823.7L667.6,823.75L668.3,823.81L669,823.92L669.7,824.03L670.4,824.14L671.1,824.26L671.8,824.37L672.5,824.4L673.2,824.4L673.9,824.4L674.6,824.4L675.3,824.4L676,824.4L676.7,824.4L677.4,824.4L678.1,824.4L678.8,824.4L679.5,824.4L680.2,824.37L680.9,824.27L681.6,824.18L682.3,824.08L683,823.98L683.7,823.88L684.4,823.85L685.1,823.56L685.8,824L686.5,823.74L687.2,823.81L687.9,823.91L688.6,824L689.3,824.1L690,824.2L690.7,824.25L691.4,824.29L692.1,824.34L692.8,824.39L693.5,824.41L694.2,824.42L694.9,824.43L695.6,824.44L696.3,824.45L697,824.46L697.7,824.47L698.4,824.48L699.1,824.49L699.8,824.5L700.5,824.5L701.2,824.5L701.9,824.5L702.6,824.5L703.3,824.5L704,824.5L704.7,824.5L705.4,824.5L706.1,824.5L706.8,824.5L707.5,824.5L708.2,824.5L708.9,824.5L709.6,824.5L710.3,824.5L711,824.5L711.7,824.5L712.4,824.5L713.1,824.5L713.8,824.5L714.5,824.5L715.2,824.5L715.9,824.5L716.6,824.5L717.3,824.5L718,824.5L718.7,824.5L719.4,824.5L720.1,824.5L720.8,824.5L721.5,824.5L722.2,824.5L722.9,824.5L723.6,824.5L724.3,824.5L725,824.5L725.7,824.5L726.4,824.5L727.1,824.5L727.8,824.5L728.5,824.5L729.2,824.5L729.9,824.5L730.6,824.5L731.3,824.5L732,824.5L732.7,824.5L733.4,824.5L734.1,824.5L734.8,824.5L735.5,824.5L736.2,824.5L736.9,824.5L737.6,824.5L738.3,824.5L739,824.5L739.7,824.5L740.4,824.5L741.1,824.5L741.8,824.5L742.5,824.5L743.2,824.5L743.9,824.5L744.6,824.5L745.3,824.5L746,824.5L746.7,824.5L747.4,824.5L748.1,824.5L748.8,824.5L749.5,824.5L750.2,824.5L750.9,824.5L751.6,824.5L752.3,824.5L753,824.5L753.7,824.5L754.4,824.5L755.1,824.5L755.8,824.5L756.5,824.5L757.2,824.5L757.9,824.5L758.6,824.5L759.3,824.5L760,824.5L760.7,824.5L761.4,824.5L762.1,824.49L762.8,824.49L763.5,824.49L764.2,824.49L764.9,824.49L765.6,824.49L766.3,824.48L767,824.48L767.7,824.48L768.4,824.48L769.1,824.48L769.8,824.48L770.5,824.47L771.2,824.47L771.9,824.47L772.6,824.47L773.3,824.47L774,824.46L774.7,824.46L775.4,824.46L776.1,824.46L776.8,824.46L777.5,824.46L778.2,824.45L778.9,824.45L779.6,824.45L780.3,824.45L781,824.45L781.7,824.45L782.4,824.44L783.1,824.44L783.8,824.44L784.5,824.44L785.2,824.44L785.9,824.44L786.6,824.43L787.3,824.43L788,824.43L788.7,824.43L789.4,824.43L790.1,824.42L790.8,824.42L791.5,824.42L792.2,824.42L792.9,824.42L793.6,824.42L794.3,824.41L795,824.41L795.7,824.41L796.4,824.41L797.1,824.41L797.8,824.41L798.5,824.4L799.2,824.4L799.9,824.4L800.6,824.4L801.3,824.4L802,824.4L802.7,824.4L803.4,824.4L804.1,824.4L804.8,824.4L805.5,824.4L806.2,824.4L806.9,824.4L807.6,824.4L808.3,824.4L809,824.4L809.7,824.4L810.4,824.4L811.1,824.4L811.8,824.4L812.5,824.4L813.2,824.4L813.9,824.4L814.6,824.4L815.3,824.4L816,824.4L816.7,824.4L817.4,824.4L818.1,824.4L818.8,824.4L819.5,824.4L820.2,824.4L820.9,824.4L821.6,824.4L822.3,824.4L823,824.4L823.7,824.4L824.4,824.4L825.1,824.4L825.8,824.4L826.5,824.4L827.2,824.4L827.9,824.4L828.6,824.4L829.3,824.4L830,824.4L830.7,824.4L831.4,824.4L832.1,824.4L832.8,824.4L833.5,824.4L834.2,824.4L834.9,824.4L835.6,824.4L836.3,824.4L837,824.4L837.7,824.4L838.4,824.4L839.1,824.4L839.8,824.4L840.5,824.37L841.2,824.34L841.9,824.3L842.6,824.27L843.3,824.23L844,824.2L844.7,824.16L845.4,824.13L846.1,824.09L846.8,824.06L847.5,824.02L848.2,823.99L848.9,823.95L849.6,823.92L850.3,823.86L851,823.76L851.7,823.82L852.4,823.99L853.1,823.37L853.8,823.88L854.5,823.32L855.2,823.61L855.9,823.66L856.6,823.5L857.3,823.6L858,823.51L858.7,822.97L859.4,822.92L860.1,823.27L860.8,822.97L861.5,823.13L862.2,823.14L862.9,822.86L863.6,823.47L864.3,823.05L865,823.3L865.7,823.4L866.4,824.01L867.1,824.02L867.8,824.12L868.5,823.87L869.2,823.96L869.9,824.04L870.6,824.12L871.3,824.2L872,824.29L872.7,824.37L873.4,824.45L874.1,824.53L874.8,824.61L875.5,824.7L876.2,824.78L876.9,824.86L877.6,824.94L878.3,825.02L879,825.11L879.7,825.19L880.4,825.27L880.4,825.4ZM886.7,825.4L886.7,824L887.4,823.99L888.1,823.99L888.8,823.98L889.5,823.98L890.2,823.97L890.9,823.97L891.6,823.96L892.3,823.96L893,823.95L893.7,823.95L894.4,823.94L895.1,823.94L895.8,823.93L896.5,823.93L897.2,823.92L897.9,823.92L898.6,823.91L899.3,823.91L900,823.9L900.7,823.91L901.4,823.93L902.1,823.94L902.8,823.96L903.5,823.97L904.2,823.98L904.9,824L905.6,824.01L906.3,824.03L907,824.04L907.7,824.05L908.4,824.07L909.1,824.08L909.8,824.1L910.5,824.11L911.2,824.12L911.9,824.14L912.6,824.15L913.3,824.17L914,824.18L914.7,824.19L914.7,825.4ZM951.1,825.4L951.1,824.4L951.8,824.4L952.5,824.4L953.2,824.4L953.9,824.4L954.6,824.4L955.3,824.4L956,824.4L956.7,824.4L957.4,824.4L958.1,824.4L958.8,824.4L959.5,824.4L960.2,824.4L960.9,824.4L961.6,824.4L962.3,824.4L962.3,825.4ZM968.6,825.4L968.6,824.4L969.3,824.4L970,824.4L970.7,824.4L971.4,824.4L972.1,824.4L972.8,824.4L973.5,824.4L974.2,824.4L974.9,824.4L975.6,824.4L976.3,824.4L977,824.4L977.7,824.4L978.4,824.4L979.1,824.4L979.8,824.4L980.5,824.4L981.2,824.4L981.9,824.4L982.6,824.4L983.3,824.4L984,824.4L984.7,824.4L985.4,824.4L986.1,824.4L986.8,824.4L987.5,824.4L988.2,824.4L988.9,824.4L989.6,824.4L990.3,824.4L991,824.4L991.7,824.4L992.4,824.4L993.1,824.4L993.8,824.4L994.5,824.4L995.2,824.4L995.9,824.4L996.6,824.4L997.3,824.4L998,824.4L998.7,824.4L999.4,824.4L999.4,825.4ZM1042.1,825.4L1042.1,824.4L1042.8,824.4L1043.5,824.4L1044.2,824.4L1044.9,824.4L1045.6,824.4L1046.3,824.4L1047,824.4L1047.7,824.4L1048.4,824.4L1049.1,824.4L1049.8,824.4L1050.5,824.4L1051.2,824.4L1051.9,824.4L1052.6,824.4L1053.3,824.4L1054,824.4L1054,825.4ZM1057.5,825.4L1057.5,824.4L1058.2,824.4L1058.9,824.4L1059.6,824.4L1060.3,824.4L1061,824.4L1061.7,824.4L1062.4,824.4L1063.1,824.4L1063.8,824.4L1064.5,824.4L1065.2,824.4L1065.9,824.4L1066.6,824.4L1067.3,824.4L1068,824.4L1068.7,824.4L1068.7,825.4ZM1078.5,825.4L1078.5,824.4L1079.2,824.4L1079.9,824.4L1080.6,824.4L1081.3,824.4L1082,824.4L1082.7,824.4L1083.4,824.4L1084.1,824.4L1084.8,824.4L1085.5,824.4L1086.2,824.4L1086.9,824.4L1087.6,824.4L1088.3,824.4L1089,824.4L1089,825.4ZM1098.1,825.4L1098.1,824.4L1098.8,824.4L1099.5,824.4L1100.2,824.4L1100.9,824.4L1101.6,824.4L1102.3,824.4L1103,824.4L1103.7,824.4L1104.4,824.4L1105.1,824.4L1105.8,824.4L1106.5,824.4L1107.2,824.4L1107.9,824.4L1108.6,824.4L1109.3,824.4L1110,824.4L1110,825.4ZM1128.2,825.4L1128.2,824.4L1128.9,824.4L1129.6,824.4L1130.3,824.4L1131,824.4L1131.7,824.4L1132.4,824.4L1133.1,824.4L1133.8,824.4L1134.5,824.4L1135.2,824.4L1135.9,824.4L1136.6,824.4L1137.3,824.4L1138,824.4L1138.7,824.4L1139.4,824.4L1139.4,825.4ZM1151.3,825.4L1151.3,824.4L1152,824.39L1152.7,824.38L1153.4,824.37L1154.1,824.36L1154.8,824.36L1155.5,824.35L1156.2,824.34L1156.9,824.33L1157.6,824.32L1158.3,824.31L1159,824.31L1159.7,824.3L1160.4,824.29L1161.1,824.28L1161.8,824.27L1162.5,824.27L1163.2,824.26L1163.9,824.25L1164.6,824.24L1165.3,824.23L1166,824.22L1166.7,824.22L1167.4,824.21L1168.1,824.19L1168.8,824.1L1169.5,824.02L1170.2,823.94L1170.9,823.85L1171.6,823.88L1172.3,823.35L1173,823.3L1173.7,823.43L1174.4,824.04L1175.1,823.85L1175.8,823.94L1176.5,824.02L1177.2,824.1L1177.9,824.19L1178.6,824.22L1179.3,824.25L1180,824.28L1180.7,824.31L1181.4,824.34L1182.1,824.36L1182.8,824.39L1182.8,825.4ZM1337.5,825.4L1337.5,824.4L1338.2,824.4L1338.9,824.4L1339.6,824.4L1340.3,824.4L1341,824.4L1341.7,824.4L1342.4,824.4L1343.1,824.4L1343.8,824.4L1344.5,824.4L1345.2,824.4L1345.9,824.4L1346.6,824.4L1347.3,824.4L1348,824.4L1348.7,824.4L1348.7,825.4ZM1350.1,825.4L1350.1,824.4L1350.8,824.4L1351.5,824.4L1352.2,824.4L1352.9,824.4L1353.6,824.4L1354.3,824.4L1355,824.4L1355.7,824.4L1356.4,824.4L1357.1,824.4L1357.8,824.4L1358.5,824.4L1359.2,824.4L1359.9,824.4L1360.6,824.4L1361.3,824.4L1362,824.4L1362,825.4ZM1366.2,825.4L1366.2,824.1L1366.9,824.08L1367.6,824.05L1368.3,824.03L1369,824.01L1369.7,823.99L1370.4,823.97L1371.1,823.95L1371.8,823.93L1372.5,823.91L1373.2,823.88L1373.9,823.86L1374.6,823.84L1375.3,823.82L1376,823.8L1376.7,823.81L1377.4,823.82L1378.1,823.83L1378.8,823.84L1379.5,823.85L1380.2,823.86L1380.9,823.87L1381.6,823.88L1382.3,823.89L1383,823.9L1383.7,823.91L1384.4,823.92L1385.1,823.93L1385.8,823.94L1386.5,823.95L1387.2,823.96L1387.9,823.97L1388.6,823.98L1389.3,823.99L1390,824L1390.7,824L1391.4,824.01L1392.1,824.01L1392.8,824.01L1393.5,824.02L1394.2,824.02L1394.9,824.02L1395.6,824.02L1396.3,824.03L1397,824.03L1397.7,824.03L1398.4,824.04L1399.1,824.04L1399.8,824.04L1400.5,824.05L1401.2,824.05L1401.9,824.05L1402.6,824.05L1403.3,824.06L1404,824.06L1404.7,824.06L1405.4,824.07L1406.1,824.07L1406.8,824.07L1407.5,824.08L1408.2,824.08L1408.9,824.08L1409.6,824.09L1410.3,824.09L1411,824.09L1411.7,824.09L1412.4,824.1L1412.4,825.4ZM1494.3,825.4L1494.3,824.4L1495,824.4L1495.7,824.4L1496.4,824.4L1497.1,824.4L1497.8,824.4L1498.5,824.4L1499.2,824.4L1499.9,824.4L1500.6,824.4L1501.3,824.4L1502,824.4L1502.7,824.4L1503.4,824.4L1504.1,824.4L1504.8,824.4L1504.8,825.4ZM1519.5,825.4L1519.5,824.38L1520.2,824.34L1520.9,824.3L1521.6,824.26L1522.3,824.22L1523,824.18L1523.7,824.14L1524.4,824.1L1525.1,824.06L1525.8,824.02L1526.5,823.98L1527.2,823.94L1527.9,823.91L1528.6,823.93L1529.3,823.96L1530,823.99L1530.7,824.02L1531.4,824.05L1532.1,824.09L1532.8,824.12L1533.5,824.15L1534.2,824.18L1534.9,824.21L1535.6,824.25L1536.3,824.28L1537,824.31L1537.7,824.34L1538.4,824.37L1538.4,825.4ZM1554.5,825.4L1554.5,824.4L1555.2,824.4L1555.9,824.4L1556.6,824.4L1557.3,824.4L1558,824.4L1558.7,824.4L1559.4,824.4L1560.1,824.4L1560.8,824.4L1561.5,824.4L1562.2,824.4L1562.9,824.4L1563.6,824.4L1564.3,824.4L1565,824.4L1565,825.4ZM1643.4,825.4L1643.4,824.37L1644.1,824.31L1644.8,824.25L1645.5,824.19L1646.2,824.13L1646.9,824.07L1647.6,824.01L1648.3,823.95L1649,823.89L1649.7,823.83L1650.4,823.83L1651.1,823.88L1651.8,823.93L1652.5,823.97L1653.2,824.02L1653.9,824.07L1654.6,824.12L1655.3,824.17L1656,824.22L1656.7,824.27L1657.4,824.32L1658.1,824.37L1658.1,825.4ZM1694.5,825.4L1694.5,824.36L1695.2,824.31L1695.9,824.27L1696.6,824.22L1697.3,824.18L1698,824.13L1698.7,824.08L1699.4,824.04L1700.1,823.99L1700.8,823.95L1701.5,823.9L1702.2,823.85L1702.9,823.81L1703.6,823.84L1704.3,823.88L1705,823.92L1705.7,823.96L1706.4,824L1707.1,824.05L1707.8,824.09L1708.5,824.13L1709.2,824.17L1709.9,824.21L1710.6,824.26L1711.3,824.3L1712,824.34L1712.7,824.38L1712.7,825.4ZM1961.7,825.4L1961.7,823.42L1962.4,823.1L1963.1,823.43L1963.8,823.08L1964.5,822.51L1965.2,822.54L1965.9,822.76L1966.6,822.39L1967.3,822.71L1968,822.17L1968.7,822.44L1969.4,823L1970.1,822.42L1970.8,822.5L1971.5,822.46L1972.2,822.9L1972.9,822.33L1973.6,822.99L1974.3,822.89L1975,822.99L1975.7,822.99L1976.4,823.12L1977.1,822.49L1977.8,822.63L1978.5,823.38L1979.2,822.81L1979.9,823.38L1980.6,822.82L1981.3,823.29L1982,823.4L1982.7,823.47L1983.4,823.9L1984.1,824.14L1984.8,824.15L1985.5,824.11L1986.2,824.07L1986.9,824.03L1987.6,823.99L1988.3,823.95L1989,823.91L1989.7,823.87L1990.4,823.83L1991.1,823.59L1991.8,823.61L1992.5,823.86L1993.2,824.01L1993.9,823.69L1994.6,823.76L1995.3,823.82L1996,823.85L1996.7,823.89L1997.4,823.92L1998.1,823.96L1998.8,823.99L1999.5,824.03L2000.2,824.06L2000.9,824.1L2001.6,824.13L2002.3,824.17L2003,824.09L2003.7,823.95L2004.4,823.81L2005.1,823.37L2005.8,823.21L2006.5,823.66L2007.2,823.33L2007.9,822.97L2008.6,823.22L2009.3,822.64L2010,823.57L2010.7,823.13L2011.4,822.64L2012.1,822.49L2012.8,822.93L2013.5,823.17L2014.2,822.76L2014.9,823.03L2015.6,822.57L2016.3,822.94L2017,823.09L2017.7,822.58L2018.4,822.33L2019.1,822.63L2019.8,822.47L2020.5,822.46L2021.2,822.48L2021.9,823.11L2022.6,822.68L2023.3,822.13L2024,822.65L2024.7,822.4L2025.4,822.28L2026.1,823.39L2026.8,822.7L2027.5,823.02L2028.2,823.59L2028.9,823.43L2029.6,823.23L2030.3,823.33L2031,823.03L2031.7,823.56L2032.4,823.07L2033.1,823.28L2033.8,822.6L2034.5,822.39L2035.2,823.16L2035.9,822.25L2036.6,822.99L2037.3,822.66L2038,821.9L2038.7,822.46L2039.4,822.98L2040.1,822.98L2040.8,821.59L2041.5,821.73L2042.2,821.54L2042.9,822.39L2043.6,822.41L2044.3,821.82L2045,822.72L2045.7,821.87L2046.4,822.51L2047.1,822.43L2047.8,821.52L2048.5,822.29L2049.2,821.08L2049.9,821.54L2050.6,821.62L2051.3,821.51L2052,822.18L2052.7,821.05L2053.4,822.53L2054.1,821.19L2054.8,821.8L2055.5,821.72L2056.2,821.83L2056.9,822.09L2057.6,822.45L2058.3,822.19L2059,821.78L2059.7,822.3L2060.4,821.6L2061.1,821.78L2061.8,822.77L2062.5,822.7L2063.2,821.63L2063.9,822.11L2064.6,822.7L2065.3,822.16L2066,822.16L2066.7,821.9L2067.4,822.19L2068.1,821.5L2068.8,822.79L2069.5,821.48L2070.2,821.71L2070.9,822.17L2071.6,822.55L2072.3,822.46L2073,821.56L2073.7,821.58L2074.4,821.76L2075.1,822.44L2075.8,822.38L2076.5,821.75L2077.2,822.35L2077.9,822.04L2078.6,822.46L2079.3,822.13L2080,821.58L2080.7,821.15L2081.4,822.45L2082.1,821.96L2082.8,821.9L2083.5,822.08L2084.2,821.75L2084.9,822.42L2085.6,822.1L2086.3,821.96L2087,820.95L2087.7,821.88L2088.4,821.2L2089.1,821.06L2089.8,821.17L2090.5,821.55L2091.2,821.18L2091.9,820.11L2092.6,819.9L2093.3,819.76L2094,819.48L2094.7,820.26L2095.4,818.62L2096.1,819.1L2096.8,820L2097.5,819.09L2098.2,820.02L2098.9,819.02L2099.6,819.17L2100.3,818.38L2101,820.71L2101.7,819.98L2102.4,819.78L2103.1,821.09L2103.8,820.68L2104.5,820.44L2105.2,821.46L2105.9,820.79L2106.6,819.88L2107.3,819.91L2108,819.96L2108.7,821.8L2109.4,820.52L2110.1,820.42L2110.8,821.29L2111.5,821.47L2112.2,820.65L2112.9,821.25L2113.6,820.06L2114.3,821.18L2115,820L2115.7,820.26L2116.4,820.85L2117.1,820.08L2117.8,819.6L2118.5,819.91L2119.2,820.81L2119.9,821.12L2120.6,819.97L2121.3,819.51L2122,819.78L2122.7,820.61L2123.4,819.53L2124.1,819.33L2124.8,820.04L2125.5,819.21L2126.2,819.19L2126.9,818.37L2127.6,820.58L2128.3,817.68L2129,817.96L2129.7,819.44L2130.4,819.07L2131.1,818.18L2131.8,817.22L2132.5,817.19L2133.2,817.63L2133.9,815.9L2134.6,816.96L2135.3,816.55L2136,816.01L2136.7,815.33L2137.4,818.08L2138.1,818.54L2138.8,817.31L2139.5,816.25L2140.2,816.28L2140.9,817.7L2141.6,819.18L2142.3,817.94L2143,817.7L2143.7,818.38L2144.4,820.28L2145.1,820.9L2145.8,820.21L2146.5,821.04L2147.2,820.99L2147.9,820.2L2148.6,820.28L2149.3,820.79L2150,820.23L2150.7,820.74L2151.4,821.87L2152.1,821.52L2152.8,821.8L2153.5,820.73L2154.2,821.78L2154.9,822.13L2155.6,821.32L2156.3,821.29L2157,822.19L2157.7,822.3L2158.4,822.25L2159.1,822.67L2159.8,821.76L2160.5,822.7L2161.2,821.24L2161.9,821.5L2162.6,822.15L2163.3,821.85L2164,821.48L2164.7,822.56L2165.4,821.71L2166.1,821.45L2166.8,821.96L2167.5,821.42L2168.2,822.36L2168.9,822.75L2169.6,822.46L2170.3,821.41L2171,822.41L2171.7,822.48L2172.4,822.88L2173.1,822.49L2173.8,822.74L2174.5,822.46L2175.2,823.11L2175.9,823.06L2176.6,823.21L2177.3,822.16L2178,822.42L2178.7,823.12L2179.4,823.08L2180.1,823.2L2180.8,822.96L2181.5,822.92L2182.2,822.66L2182.9,822.74L2183.6,823.36L2184.3,822.72L2185,823.33L2185.7,822.84L2186.4,823.25L2187.1,822.87L2187.8,823.09L2188.5,822.41L2189.2,822.73L2189.9,822.26L2190.6,823.09L2191.3,822.86L2192,822.52L2192.7,822.52L2193.4,822.99L2194.1,822.38L2194.8,822.51L2195.5,822.2L2196.2,822.09L2196.9,822.39L2197.6,823.01L2198.3,822.63L2199,822.87L2199.7,823.39L2200.4,822.8L2201.1,823.21L2201.8,823.29L2202.5,822.91L2203.2,823.36L2203.9,822.69L2204.6,822.77L2205.3,823.5L2206,822.57L2206.7,823.29L2207.4,822.68L2208.1,822.25L2208.8,822.81L2209.5,822.12L2210.2,822.38L2210.9,822.64L2211.6,821.68L2212.3,822.01L2213,821.6L2213.7,821.45L2214.4,822.2L2215.1,821.4L2215.8,821.8L2216.5,821.88L2217.2,822.14L2217.9,821.86L2218.6,822.8L2219.3,822.81L2220,821.94L2220.7,821.88L2221.4,822.19L2222.1,821.98L2222.8,821.99L2223.5,822.05L2224.2,822.11L2224.9,822.79L2225.6,823.26L2226.3,822.92L2227,822.43L2227.7,822.72L2228.4,823.32L2229.1,823.26L2229.8,823.14L2230.5,823.55L2231.2,822.93L2231.9,823.2L2232.6,822.71L2233.3,822.81L2234,823.07L2234.7,823.29L2235.4,822.77L2236.1,822.23L2236.8,822.42L2237.5,823.04L2238.2,823.04L2238.9,822.95L2239.6,822.42L2240.3,822.95L2241,821.75L2241.7,822.24L2242.4,822.13L2243.1,821.92L2243.8,822.22L2244.5,821.9L2245.2,822.67L2245.9,821.29L2246.6,821.15L2247.3,821.16L2248,821.88L2248.7,822.44L2249.4,822.44L2250.1,821.95L2250.8,822.36L2251.5,822.41L2252.2,822.3L2252.9,822.38L2253.6,822.9L2254.3,822.95L2255,823.08L2255.7,823.12L2256.4,823.28L2257.1,823.34L2257.8,822.66L2258.5,822.85L2259.2,822.94L2259.9,823.55L2260.6,822.76L2261.3,823.24L2262,823.19L2262.7,823.12L2263.4,822.74L2264.1,823.31L2264.8,822.92L2265.5,823.43L2266.2,822.69L2266.9,823.16L2267.6,822.38L2268.3,822.9L2269,822.49L2269.7,823.04L2270.4,822.6L2271.1,822.79L2271.8,822.47L2272.5,822.04L2273.2,822.55L2273.9,821.84L2274.6,822.44L2275.3,822.15L2276,822.66L2276.7,822.13L2277.4,822.28L2278.1,822.3L2278.8,822.16L2279.5,822.85L2280.2,821.87L2280.9,822.84L2281.6,823.16L2282.3,822.34L2283,822.3L2283.7,822.83L2284.4,822.27L2285.1,822.8L2285.8,823.24L2286.5,823.51L2287.2,822.89L2287.9,822.97L2288.6,822.84L2289.3,823.53L2290,822.94L2290.7,823.13L2291.4,823.48L2292.1,823.6L2292.8,823.75L2293.5,823.39L2294.2,823.51L2294.9,823.25L2295.6,823.81L2296.3,823.52L2297,823.55L2297.7,823.95L2298.4,823.98L2299.1,823.48L2299.8,823.32L2300.5,823.66L2301.2,823.95L2301.9,823.33L2302.6,823.81L2302.6,825.4ZM2316.3,825.4L2316.3,824.53L2317,824.37L2317.7,824.2L2318.4,824.04L2319.1,823.88L2319.8,823.74L2320.5,823.6L2321.2,823.46L2321.9,823.32L2322.6,823.18L2323.3,823.04L2324,822.9L2324.7,822.81L2325.4,822.72L2326.1,822.63L2326.8,822.54L2327.5,822.45L2327.5,825.4Z" fill="#CC0011"/><path d="M402,825.4 L402,726 L404.4,724.1 L406.3,733.9 L407.4,745.2 L408.6,742.9 L409.7,746.7 L410.4,754.2 L411.2,742.9 L412.2,751.2 L413.8,746.7 L415,737.7 L416.8,734.7 L417.6,742.2 L418.4,743.7 L418.4,825.4Z" fill="#CC0011" /><path d="M861.9,825.4 L861.9,722.6 L862.4,721.1 L863.6,713.9 L864.7,717.3 L866.2,718.8 L866.7,726.4 L868.1,724.8 L869.7,720.7 L871.1,725.6 L872.6,730.1 L873.5,727.1 L874.1,736.1 L874.5,748.2 L875.6,758 L877.5,755.3 L879,757.2 L880.1,761 L881.5,761 L881.5,825.4Z" fill="#CC0011" /><path d="M1423.5,825.4 L1423.5,758 L1425.3,757.3 L1426.1,755.7 L1426.5,745.2 L1427.4,740.7 L1428.5,744.4 L1429.5,738.8 L1430,739.9 L1430,825.4Z" fill="#CC0011" /><path d="M1943,825.4 L1943,726 L1943.3,716.2 L1944.6,720.6 L1946.2,711.8 L1947.5,709.7 L1948.7,711.8 L1950.3,706.4 L1951.5,701 L1952.2,709.7 L1953.5,707.5 L1954.4,716.2 L1955.5,733.6 L1956.6,726.5 L1958.2,733.6 L1959.8,733.6 L1960.9,734.7 L1960.9,825.4Z" fill="#CC0011" /><path d="M2303.2,825.4 L2303.2,757.7 L2305.4,740.1 L2306.9,735.2 L2307.8,718.6 L2309.3,709.8 L2310.3,707.9 L2312.2,704.9 L2313.7,703 L2315.6,703 L2315.6,825.4Z" fill="#CC0011" /><path d="M2327.9,825.4 L2327.9,678.1 L2329.3,678.6 L2330.3,703 L2331.6,699.1 L2332.7,702 L2333.5,720.5 L2334.5,710.8 L2336.6,718.6 L2337.6,724.5 L2339.6,727.4 L2339.6,825.4Z" fill="#CC0011" /><path d="M418.4,741.7C418.4,676.65 1943,662.85 1943,727.9" fill="none" stroke="#CC0011" stroke-width="1.0" opacity="0.9"/><path d="M1961,733.6C1961,668.2 2328,603.5 2328,668.9" fill="none" stroke="#CC0011" stroke-width="3.5" opacity="1.0"/><rect x="1145.69" y="639.9" width="70.22" height="88" fill="#fff"/><rect x="2098.39" y="606" width="91.42" height="88" fill="#fff"/><rect x="2264.79" y="590.2" width="112.62" height="88" fill="#fff"/><path d="M2310.3,702.6 L2320,702.6 L2320.8,678.1 L2311.1,678.1Z" fill="#CC0011" /><rect x="2311.1" y="671.9" width="10.2" height="1" fill="#CC0011" opacity="0.4"/><rect x="2327.9" y="671.9" width="1.6" height="1" fill="#CC0011" opacity="0.4"/><path d="M400,645.75V827.55" stroke="#000" stroke-width="4.3" fill="none"/><path d="M380.3,647.9H400" stroke="#000" stroke-width="4.3" fill="none"/><path d="M380.3,692.27H400" stroke="#000" stroke-width="4.3" fill="none"/><path d="M380.3,736.65H400" stroke="#000" stroke-width="4.3" fill="none"/><path d="M380.3,781.02H400" stroke="#000" stroke-width="4.3" fill="none"/><path d="M380.3,825.4H400" stroke="#000" stroke-width="4.3" fill="none"/><g transform="translate(360.6,664.9)" font-family="Liberation Sans, sans-serif" font-size="45.33" fill="#000" stroke="#000" stroke-width="0.8" stroke-linejoin="round" opacity="0.999"><text transform="translate(-83.55,0.43) scale(1.1289,1.0385)">115</text></g><g transform="translate(360.6,709.27)" font-family="Liberation Sans, sans-serif" font-size="45.33" fill="#000" stroke="#000" stroke-width="0.8" stroke-linejoin="round" opacity="0.999"><text transform="translate(-97.68,0.37) scale(1.0797,1.0510)">86</text><text transform="translate(-40.6,-0.1) scale(0.8439,1.0530)">.</text><text transform="translate(-26.82,-0.1) scale(0.9606,1.0363)">2</text></g><g transform="translate(360.6,753.65)" font-family="Liberation Sans, sans-serif" font-size="45.33" fill="#000" stroke="#000" stroke-width="0.8" stroke-linejoin="round" opacity="0.999"><text transform="translate(-97.07,0.43) scale(1.0512,1.0385)">57</text><text transform="translate(-40.6,-0.1) scale(0.8439,1.0530)">.</text><text transform="translate(-26.2,0.43) scale(0.9396,1.0385)">5</text></g><g transform="translate(360.6,798.02)" font-family="Liberation Sans, sans-serif" font-size="45.33" fill="#000" stroke="#000" stroke-width="0.8" stroke-linejoin="round" opacity="0.999"><text transform="translate(-97.69,0.37) scale(1.0688,1.0512)">28</text><text transform="translate(-40.6,-0.1) scale(0.8439,1.0530)">.</text><text transform="translate(-26.89,0.37) scale(1.0082,1.0510)">8</text></g><g transform="translate(230.6,727.85) rotate(-90)" font-family="Liberation Sans, sans-serif" font-size="45.33" fill="#000" stroke="#000" stroke-width="0.8" stroke-linejoin="round" opacity="0.999"><text transform="translate(-61.25,-0.4) scale(0.9368,1.0063)">RPKM</text></g><g transform="translate(1180.8,696.05)" font-family="Liberation Sans, sans-serif" font-size="34.0" fill="#000" stroke="#000" stroke-width="0.6" stroke-linejoin="round" opacity="0.999"><text transform="translate(-9.16,0.1) scale(0.9640,1.0522)">3</text></g><g transform="translate(2144.1,662.15)" font-family="Liberation Sans, sans-serif" font-size="34.0" fill="#000" stroke="#000" stroke-width="0.6" stroke-linejoin="round" opacity="0.999"><text transform="translate(-20.4,0.1) scale(1.0729,1.0522)">68</text></g><g transform="translate(2321.1,646.35)" font-family="Liberation Sans, sans-serif" font-size="34.0" fill="#000" stroke="#000" stroke-width="0.6" stroke-linejoin="round" opacity="0.999"><text transform="translate(-30.54,0.1) scale(1.0796,1.0522)">327</text></g><g transform="translate(2340.2,618.6)" font-family="Liberation Sans, sans-serif" font-size="45.49" fill="#CC0011" stroke="#CC0011" stroke-width="0.8" stroke-linejoin="round" opacity="0.999"><text transform="translate(-1165.59,0.07) scale(0.9377,1.0637)">CRYZ</text><text transform="translate(-1034.07,0.13) scale(0.9651,1.0657)">AARS</text><text transform="translate(-913,1.31) scale(0.8490,1.0324)">_</text><text transform="translate(-890.26,-1.54) scale(1.0301,1.0135)">HepG2</text><text transform="translate(-738.5,1.31) scale(0.8490,1.0324)">_</text><text transform="translate(-715.52,0.07) scale(1.0934,1.0637)">2014</text><text transform="translate(-602.82,0.9) scale(1.0029,1.0275)">-</text><text transform="translate(-585.56,-0.4) scale(1.0399,1.0481)">12</text><text transform="translate(-529.98,0.9) scale(1.0029,1.0275)">-</text><text transform="translate(-512.78,-0.4) scale(1.0574,1.0343)">17</text><text transform="translate(-457.05,1.31) scale(0.8490,1.0324)">_</text><text transform="translate(-434.02,0.07) scale(0.9520,1.0637)">NC</text><text transform="translate(-370.35,0.9) scale(1.0029,1.0275)">-</text><text transform="translate(-353.21,-0.4) scale(0.9597,1.0487)">2</text><text transform="translate(-311.57,0.13) scale(1.0730,1.0185)">IncLevel</text><text transform="translate(-126.8,-0.4) scale(0.9292,0.9239)">:</text><text transform="translate(-97.81,0.07) scale(1.0008,1.0635)">0</text><text transform="translate(-69.05,-0.4) scale(0.8371,1.1324)">.</text><text transform="translate(-55.45,-0.4) scale(1.0508,1.0487)">21</text></g></g><g><rect x="402" y="1136.6" width="1937.8" height="0.8" fill="#FF8800" opacity="0.27"/><path d="M419.1,1137.4L419.1,1135.17L419.8,1134.58L420.5,1135.07L421.2,1134.38L421.9,1134.46L422.6,1134.69L423.3,1134.35L424,1134.38L424.7,1135.02L425.4,1134.44L426.1,1134.47L426.8,1134.74L427.5,1134.48L428.2,1134.8L428.9,1135.3L429.6,1135.57L430.3,1135.76L431,1135.28L431.7,1135.48L432.4,1135.64L433.1,1135.81L433.8,1135.91L434.5,1136L435.2,1136.09L435.9,1136.19L436.6,1136.32L437.3,1136.46L438,1136.6L438.7,1136.74L439.4,1136.8L440.1,1136.81L440.8,1136.81L441.5,1136.81L442.2,1136.81L442.9,1136.82L443.6,1136.82L444.3,1136.82L445,1136.83L445.7,1136.83L446.4,1136.83L447.1,1136.84L447.8,1136.84L448.5,1136.84L449.2,1136.85L449.9,1136.85L450.6,1136.85L451.3,1136.86L452,1136.86L452.7,1136.86L453.4,1136.87L454.1,1136.87L454.8,1136.87L455.5,1136.88L456.2,1136.88L456.9,1136.88L457.6,1136.89L458.3,1136.89L459,1136.89L459.7,1136.9L460.4,1136.9L461.1,1136.9L461.8,1136.91L462.5,1136.91L463.2,1136.91L463.9,1136.92L464.6,1136.92L465.3,1136.92L466,1136.93L466.7,1136.93L467.4,1136.93L468.1,1136.94L468.8,1136.94L469.5,1136.94L470.2,1136.95L470.9,1136.95L471.6,1136.95L472.3,1136.95L473,1136.96L473.7,1136.96L474.4,1136.96L475.1,1136.97L475.8,1136.97L476.5,1136.97L477.2,1136.98L477.9,1136.98L478.6,1136.98L479.3,1136.99L480,1136.99L480.7,1136.99L481.4,1137L482.1,1136.99L482.8,1136.94L483.5,1136.89L484.2,1136.84L484.9,1136.78L485.6,1136.73L486.3,1136.68L487,1136.63L487.7,1136.57L488.4,1136.52L489.1,1136.47L489.8,1136.42L490.5,1136.36L491.2,1136.31L491.9,1136.25L492.6,1136.2L493.3,1136.14L494,1136.09L494.7,1136.03L495.4,1135.98L496.1,1135.92L496.8,1135.87L497.5,1135.82L498.2,1135.83L498.9,1135.87L499.6,1135.9L500.3,1135.94L501,1135.98L501.7,1136.02L502.4,1136.06L503.1,1136.1L503.8,1136.13L504.5,1136.17L505.2,1136.21L505.9,1136.23L506.6,1136.25L507.3,1136.28L508,1136.3L508.7,1136.32L509.4,1136.35L510.1,1136.37L510.8,1136.39L511.5,1136.42L512.2,1136.44L512.9,1136.46L513.6,1136.49L514.3,1136.51L515,1136.53L515.7,1136.56L516.4,1136.58L517.1,1136.6L517.8,1136.6L518.5,1136.59L519.2,1136.59L519.9,1136.58L520.6,1136.58L521.3,1136.57L522,1136.57L522.7,1136.57L523.4,1136.56L524.1,1136.56L524.8,1136.55L525.5,1136.55L526.2,1136.54L526.9,1136.54L527.6,1136.54L528.3,1136.53L529,1136.53L529.7,1136.52L530.4,1136.52L531.1,1136.51L531.8,1136.51L532.5,1136.51L533.2,1136.5L533.9,1136.5L534.6,1136.49L535.3,1136.49L536,1136.48L536.7,1136.48L537.4,1136.48L538.1,1136.47L538.8,1136.47L539.5,1136.46L540.2,1136.46L540.9,1136.46L541.6,1136.45L542.3,1136.45L543,1136.44L543.7,1136.44L544.4,1136.43L545.1,1136.43L545.8,1136.43L546.5,1136.42L547.2,1136.42L547.9,1136.41L548.6,1136.41L549.3,1136.4L550,1136.4L550.7,1136.4L551.4,1136.4L552.1,1136.4L552.8,1136.4L553.5,1136.4L554.2,1136.4L554.9,1136.4L555.6,1136.4L556.3,1136.4L557,1136.4L557.7,1136.4L558.4,1136.4L559.1,1136.4L559.8,1136.4L560.5,1136.4L561.2,1136.4L561.9,1136.4L562.6,1136.4L563.3,1136.4L564,1136.4L564.7,1136.4L565.4,1136.4L566.1,1136.4L566.8,1136.4L567.5,1136.4L568.2,1136.4L568.9,1136.4L569.6,1136.4L570.3,1136.4L571,1136.4L571.7,1136.4L572.4,1136.4L573.1,1136.4L573.8,1136.4L574.5,1136.4L575.2,1136.4L575.9,1136.4L576.6,1136.4L577.3,1136.4L578,1136.4L578.7,1136.4L579.4,1136.4L580.1,1136.4L580.8,1136.4L581.5,1136.4L582.2,1136.4L582.9,1136.4L583.6,1136.31L584.3,1136.2L585,1136.1L585.7,1135.99L586.4,1135.89L587.1,1135.83L587.8,1135.72L588.5,1135.86L589.2,1135.56L589.9,1135.8L590.6,1135.34L591.3,1135.32L592,1135.38L592.7,1135.8L593.4,1136L594.1,1135.89L594.8,1135.86L595.5,1135.94L596.2,1136.05L596.9,1136.2L597.6,1136.36L598.3,1136.52L599,1136.68L599.7,1136.83L600.4,1136.9L601.1,1136.9L601.8,1136.9L602.5,1136.9L603.2,1136.9L603.9,1136.9L604.6,1136.9L605.3,1136.9L606,1136.9L606.7,1136.9L607.4,1136.9L608.1,1136.9L608.8,1136.9L609.5,1136.9L610.2,1136.9L610.9,1136.9L611.6,1136.9L612.3,1136.9L613,1136.9L613.7,1136.9L614.4,1136.9L615.1,1136.9L615.8,1136.9L616.5,1136.9L617.2,1136.9L617.9,1136.9L618.6,1136.9L619.3,1136.9L620,1136.9L620.7,1136.9L621.4,1136.9L622.1,1136.9L622.8,1136.9L623.5,1136.9L624.2,1136.9L624.9,1136.9L625.6,1136.9L626.3,1136.9L627,1136.9L627.7,1136.9L628.4,1136.9L629.1,1136.9L629.8,1136.9L630.5,1136.9L631.2,1136.9L631.9,1136.9L632.6,1136.9L633.3,1136.9L634,1136.9L634.7,1136.9L635.4,1136.9L636.1,1136.9L636.8,1136.9L637.5,1136.9L638.2,1136.9L638.9,1136.9L639.6,1136.9L640.3,1136.9L641,1136.9L641.7,1136.9L642.4,1136.77L643.1,1136.54L643.8,1136.31L644.5,1136.09L645.2,1135.86L645.9,1135.49L646.6,1135.47L647.3,1135.12L648,1135.27L648.7,1135.16L649.4,1134.48L650.1,1135.18L650.8,1135.16L651.5,1134.76L652.2,1134.74L652.9,1134.99L653.6,1134.88L654.3,1135.04L655,1134.82L655.7,1134.62L656.4,1134.72L657.1,1134.94L657.8,1135.14L658.5,1134.69L659.2,1135.22L659.9,1135.07L660.6,1134.8L661.3,1134.94L662,1135.2L662.7,1134.8L663.4,1134.91L664.1,1134.53L664.8,1134.8L665.5,1134.86L666.2,1134.32L666.9,1134.79L667.6,1134.89L668.3,1134.23L669,1134.17L669.7,1135.11L670.4,1135.25L671.1,1134.36L671.8,1134.36L672.5,1134.96L673.2,1135.13L673.9,1134.67L674.6,1134.42L675.3,1135.24L676,1135.01L676.7,1134.81L677.4,1135.3L678.1,1135.12L678.8,1135.42L679.5,1135.1L680.2,1135.38L680.9,1135.53L681.6,1135.23L682.3,1135.47L683,1135.51L683.7,1135.48L684.4,1135.23L685.1,1135.33L685.8,1134.93L686.5,1135.25L687.2,1135.42L687.9,1135.48L688.6,1135.38L689.3,1134.96L690,1135.49L690.7,1135.26L691.4,1134.97L692.1,1134.98L692.8,1135.35L693.5,1135.03L694.2,1135.24L694.9,1135.64L695.6,1135.78L696.3,1135.73L697,1135.23L697.7,1135.6L698.4,1135.26L699.1,1135.19L699.8,1135.26L700.5,1135.62L701.2,1135.97L701.9,1135.75L702.6,1135.78L703.3,1135.42L704,1135.37L704.7,1135.17L705.4,1135.34L706.1,1135.11L706.8,1135.37L707.5,1135.5L708.2,1135.18L708.9,1135.65L709.6,1135.2L710.3,1135.23L711,1135.1L711.7,1135.79L712.4,1135.66L713.1,1134.94L713.8,1135.64L714.5,1135.32L715.2,1135.14L715.9,1135.22L716.6,1134.8L717.3,1134.68L718,1135.26L718.7,1135.44L719.4,1134.6L720.1,1135.04L720.8,1135.23L721.5,1135.32L722.2,1135.43L722.9,1134.76L723.6,1135.07L724.3,1134.75L725,1134.37L725.7,1134.9L726.4,1134.43L727.1,1135.42L727.8,1134.72L728.5,1134.76L729.2,1134.59L729.9,1135.57L730.6,1135.2L731.3,1135.29L732,1135.38L732.7,1135.62L733.4,1135.89L734.1,1135.85L734.8,1135.98L735.5,1136.11L736.2,1136.2L736.9,1136.22L737.6,1136.24L738.3,1136.25L739,1136.27L739.7,1136.28L740.4,1136.3L741.1,1136.31L741.8,1136.33L742.5,1136.34L743.2,1136.36L743.9,1136.38L744.6,1136.39L745.3,1136.36L746,1136.28L746.7,1136.2L747.4,1136.11L748.1,1136.03L748.8,1135.94L749.5,1135.86L750.2,1135.49L750.9,1135.41L751.6,1135.45L752.3,1135.14L753,1135.39L753.7,1135.73L754.4,1135.09L755.1,1135.57L755.8,1134.87L756.5,1134.9L757.2,1135.29L757.9,1135.29L758.6,1135.33L759.3,1135.14L760,1134.13L760.7,1134.96L761.4,1134.14L762.1,1135.08L762.8,1134.85L763.5,1134.72L764.2,1134.87L764.9,1134.18L765.6,1135.06L766.3,1134.8L767,1135.14L767.7,1135.36L768.4,1134.89L769.1,1135.37L769.8,1135.37L770.5,1135.34L771.2,1135.96L771.9,1136.1L772.6,1135.92L773.3,1136.01L774,1136.03L774.7,1136.05L775.4,1136.07L776.1,1136.09L776.8,1136.11L777.5,1136.13L778.2,1136.15L778.9,1136.17L779.6,1136.19L780.3,1136.17L781,1136.09L781.7,1136.01L782.4,1135.93L783.1,1135.85L783.8,1135.63L784.5,1135.31L785.2,1135.99L785.9,1135.57L786.6,1135.02L787.3,1135.13L788,1135.07L788.7,1135.51L789.4,1135.22L790.1,1135.99L790.8,1135.72L791.5,1135.51L792.2,1135.83L792.9,1135.92L793.6,1136.01L794.3,1136.11L795,1136.2L795.7,1136.29L796.4,1136.39L797.1,1136.48L797.8,1136.57L798.5,1136.61L799.2,1136.62L799.9,1136.63L800.6,1136.64L801.3,1136.66L802,1136.67L802.7,1136.68L803.4,1136.69L804.1,1136.7L804.8,1136.71L805.5,1136.73L806.2,1136.74L806.9,1136.75L807.6,1136.76L808.3,1136.77L809,1136.78L809.7,1136.8L810.4,1136.8L811.1,1136.79L811.8,1136.79L812.5,1136.78L813.2,1136.78L813.9,1136.77L814.6,1136.77L815.3,1136.76L816,1136.76L816.7,1136.76L817.4,1136.75L818.1,1136.75L818.8,1136.74L819.5,1136.74L820.2,1136.73L820.9,1136.73L821.6,1136.72L822.3,1136.72L823,1136.71L823.7,1136.71L824.4,1136.7L825.1,1136.7L825.8,1136.69L826.5,1136.69L827.2,1136.69L827.9,1136.68L828.6,1136.68L829.3,1136.67L830,1136.67L830.7,1136.66L831.4,1136.66L832.1,1136.65L832.8,1136.65L833.5,1136.64L834.2,1136.64L834.9,1136.63L835.6,1136.63L836.3,1136.62L837,1136.62L837.7,1136.62L838.4,1136.61L839.1,1136.61L839.8,1136.6L840.5,1136.58L841.2,1136.55L841.9,1136.52L842.6,1136.5L843.3,1136.47L844,1136.44L844.7,1136.41L845.4,1136.38L846.1,1136.36L846.8,1136.33L847.5,1136.3L848.2,1136.27L848.9,1136.24L849.6,1136.22L850.3,1136.18L851,1136.13L851.7,1136.08L852.4,1136.03L853.1,1135.98L853.8,1135.93L854.5,1135.88L855.2,1135.83L855.9,1135.86L856.6,1135.77L857.3,1135.74L858,1135.79L858.7,1135.47L859.4,1135.35L860.1,1135.9L860.8,1135.83L861.5,1135.47L862.2,1135.55L862.9,1135.56L863.6,1135.85L864.3,1135.91L865,1135.97L865.7,1136.03L866.4,1136.09L867.1,1136.15L867.8,1136.21L868.5,1136.27L869.2,1136.33L869.9,1136.39L870.6,1136.45L871.3,1136.51L872,1136.57L872.7,1136.63L873.4,1136.69L874.1,1136.75L874.8,1136.81L875.5,1136.87L876.2,1136.93L876.9,1136.99L877.6,1137.05L878.3,1137.12L879,1137.18L879.7,1137.24L880.4,1137.3L880.4,1137.4ZM881.8,1137.4L881.8,1136.9L882.5,1136.9L883.2,1136.9L883.9,1136.9L884.6,1136.9L885.3,1136.9L886,1136.9L886.7,1136.9L887.4,1136.9L888.1,1136.9L888.8,1136.9L889.5,1136.9L890.2,1136.9L890.9,1136.9L891.6,1136.9L892.3,1136.9L893,1136.9L893.7,1136.9L894.4,1136.9L895.1,1136.9L895.8,1136.9L896.5,1136.9L897.2,1136.9L897.9,1136.9L898.6,1136.9L899.3,1136.9L900,1136.9L900.7,1136.9L901.4,1136.9L902.1,1136.9L902.8,1136.9L903.5,1136.9L904.2,1136.9L904.9,1136.9L905.6,1136.9L906.3,1136.9L907,1136.9L907.7,1136.9L908.4,1136.9L909.1,1136.9L909.8,1136.9L910.5,1136.9L911.2,1136.9L911.9,1136.9L912.6,1136.9L913.3,1136.9L914,1136.9L914.7,1136.9L915.4,1136.9L916.1,1136.9L916.8,1136.9L917.5,1136.9L918.2,1136.9L918.9,1136.9L919.6,1136.9L920.3,1136.9L921,1136.9L921.7,1136.9L922.4,1136.9L923.1,1136.9L923.8,1136.9L924.5,1136.9L925.2,1136.9L925.9,1136.9L926.6,1136.9L927.3,1136.9L928,1136.9L928.7,1136.9L929.4,1136.9L930.1,1136.9L930.8,1136.9L931.5,1136.9L932.2,1136.9L932.9,1136.9L933.6,1136.9L934.3,1136.9L935,1136.9L935.7,1136.9L936.4,1136.9L937.1,1136.9L937.8,1136.9L938.5,1136.9L939.2,1136.9L939.9,1136.9L940.6,1136.9L941.3,1136.9L942,1136.9L942.7,1136.9L943.4,1136.9L944.1,1136.9L944.8,1136.9L945.5,1136.9L946.2,1136.9L946.9,1136.9L947.6,1136.8L948.3,1136.68L949,1136.57L949.7,1136.45L950.4,1136.4L951.1,1136.4L951.8,1136.4L952.5,1136.4L953.2,1136.4L953.9,1136.4L954.6,1136.4L955.3,1136.4L956,1136.4L956.7,1136.4L957.4,1136.4L958.1,1136.4L958.8,1136.4L959.5,1136.4L960.2,1136.4L960.9,1136.4L961.6,1136.4L962.3,1136.4L963,1136.4L963.7,1136.4L964.4,1136.4L965.1,1136.4L965.8,1136.4L966.5,1136.46L967.2,1136.55L967.9,1136.64L968.6,1136.73L969.3,1136.81L970,1136.9L970.7,1136.9L971.4,1136.9L972.1,1136.9L972.8,1136.9L973.5,1136.9L974.2,1136.9L974.9,1136.9L975.6,1136.9L976.3,1136.9L977,1136.9L977.7,1136.9L978.4,1136.9L979.1,1136.9L979.8,1136.9L980.5,1136.9L981.2,1136.9L981.9,1136.9L982.6,1136.9L983.3,1136.9L984,1136.9L984.7,1136.9L985.4,1136.9L986.1,1136.9L986.8,1136.9L987.5,1136.9L988.2,1136.9L988.9,1136.9L989.6,1136.9L990.3,1136.9L991,1136.9L991.7,1136.9L992.4,1136.9L993.1,1136.9L993.8,1136.9L994.5,1136.81L995.2,1136.69L995.9,1136.57L996.6,1136.44L997.3,1136.32L998,1136.2L998.7,1136.2L999.4,1136.2L1000.1,1136.2L1000.8,1136.2L1001.5,1136.2L1002.2,1136.2L1002.9,1136.2L1003.6,1136.2L1004.3,1136.2L1005,1136.2L1005.7,1136.2L1006.4,1136.2L1007.1,1136.2L1007.8,1136.2L1008.5,1136.2L1009.2,1136.2L1009.9,1136.2L1010.6,1136.2L1011.3,1136.2L1012,1136.2L1012.7,1136.2L1013.4,1136.2L1014.1,1136.2L1014.8,1136.2L1015.5,1136.2L1016.2,1136.2L1016.9,1136.2L1017.6,1136.2L1018.3,1136.2L1019,1136.2L1019.7,1136.2L1020.4,1136.2L1021.1,1136.2L1021.8,1136.2L1022.5,1136.2L1023.2,1136.2L1023.9,1136.2L1024.6,1136.2L1025.3,1136.2L1026,1136.2L1026.7,1136.2L1027.4,1136.2L1028.1,1136.2L1028.8,1136.2L1029.5,1136.2L1030.2,1136.2L1030.9,1136.2L1031.6,1136.2L1032.3,1136.2L1033,1136.2L1033.7,1136.2L1034.4,1136.2L1035.1,1136.2L1035.8,1136.2L1036.5,1136.2L1037.2,1136.2L1037.9,1136.2L1038.6,1136.2L1039.3,1136.2L1040,1136.2L1040.7,1136.34L1041.4,1136.48L1042.1,1136.62L1042.8,1136.76L1043.5,1136.9L1044.2,1137L1044.9,1137L1045.6,1137L1046.3,1137L1047,1137L1047.7,1137L1048.4,1137L1049.1,1137L1049.8,1137L1050.5,1137L1051.2,1137L1051.9,1137L1052.6,1137L1053.3,1137L1054,1137L1054.7,1137L1055.4,1137L1056.1,1137L1056.8,1137L1057.5,1137L1058.2,1137L1058.9,1137L1059.6,1137L1060.3,1137L1061,1137L1061.7,1137L1062.4,1137L1063.1,1137L1063.8,1137L1064.5,1137L1065.2,1137L1065.9,1137L1066.6,1137L1067.3,1137L1068,1137L1068.7,1137L1069.4,1137L1070.1,1137L1070.8,1137L1071.5,1137L1072.2,1137L1072.9,1137L1073.6,1137L1074.3,1137L1075,1137L1075.7,1137L1076.4,1137L1077.1,1137L1077.8,1137L1078.5,1137L1079.2,1137L1079.9,1137L1080.6,1137L1081.3,1137L1082,1137L1082.7,1137L1083.4,1137L1084.1,1137L1084.8,1137L1085.5,1137L1086.2,1137L1086.9,1137L1087.6,1137L1088.3,1137L1089,1137L1089.7,1137L1090.4,1137L1091.1,1137L1091.8,1137L1092.5,1137L1093.2,1137L1093.9,1137L1094.6,1137L1095.3,1136.92L1096,1136.73L1096.7,1136.55L1097.4,1136.36L1098.1,1136.2L1098.8,1136.2L1099.5,1136.2L1100.2,1136.2L1100.9,1136.2L1101.6,1136.2L1102.3,1136.2L1103,1136.2L1103.7,1136.2L1104.4,1136.2L1105.1,1136.2L1105.8,1136.2L1106.5,1136.2L1107.2,1136.2L1107.9,1136.2L1108.6,1136.2L1109.3,1136.2L1110,1136.2L1110.7,1136.2L1111.4,1136.2L1112.1,1136.2L1112.8,1136.2L1113.5,1136.2L1114.2,1136.2L1114.9,1136.2L1115.6,1136.36L1116.3,1136.55L1117,1136.73L1117.7,1136.92L1118.4,1137L1119.1,1137L1119.8,1137L1120.5,1137L1121.2,1137L1121.9,1137L1122.6,1137L1123.3,1137L1124,1137L1124.7,1137L1125.4,1137L1126.1,1137L1126.8,1137L1127.5,1137L1128.2,1137L1128.9,1137L1129.6,1137L1130.3,1137L1131,1137L1131.7,1137L1132.4,1137L1133.1,1137L1133.8,1137L1134.5,1137L1135.2,1137L1135.9,1137L1136.6,1137L1137.3,1137L1138,1137L1138.7,1137L1139.4,1137L1140.1,1137L1140.8,1137L1141.5,1137L1142.2,1137L1142.9,1137L1143.6,1137L1144.3,1137L1145,1137L1145.7,1137L1146.4,1137L1147.1,1137L1147.8,1137L1148.5,1137L1149.2,1137L1149.9,1137L1150.6,1137L1151.3,1137L1152,1137L1152.7,1137L1153.4,1137L1154.1,1137L1154.8,1137L1155.5,1137L1156.2,1137L1156.9,1137L1157.6,1137L1158.3,1137L1159,1137L1159.7,1137L1160.4,1137L1161.1,1137L1161.8,1137L1162.5,1136.87L1163.2,1136.68L1163.9,1136.49L1164.6,1136.31L1165.3,1136.2L1166,1136.2L1166.7,1136.2L1167.4,1136.2L1168.1,1136.2L1168.8,1136.2L1169.5,1136.2L1170.2,1136.2L1170.9,1136.2L1171.6,1136.2L1172.3,1136.2L1173,1136.2L1173.7,1136.2L1174.4,1136.2L1175.1,1136.2L1175.8,1136.2L1176.5,1136.2L1177.2,1136.2L1177.9,1136.2L1178.6,1136.2L1179.3,1136.2L1180,1136.2L1180.7,1136.2L1181.4,1136.31L1182.1,1136.49L1182.8,1136.68L1183.5,1136.87L1184.2,1137L1184.9,1137L1185.6,1137L1186.3,1137L1187,1137L1187.7,1137L1188.4,1137L1189.1,1137L1189.8,1137L1190.5,1137L1191.2,1137L1191.9,1137L1192.6,1137L1193.3,1137L1194,1137L1194.7,1137L1195.4,1137L1196.1,1137L1196.8,1137L1197.5,1137L1198.2,1137L1198.9,1137L1199.6,1137L1200.3,1137L1201,1137L1201.7,1137L1202.4,1137L1203.1,1137L1203.8,1137L1204.5,1137L1205.2,1137L1205.9,1137L1206.6,1137L1207.3,1137L1208,1137L1208.7,1137L1209.4,1137L1210.1,1137L1210.8,1137L1211.5,1137L1212.2,1137L1212.9,1137L1213.6,1137L1214.3,1137L1215,1137L1215.7,1136.82L1216.4,1136.65L1217.1,1136.5L1217.8,1136.5L1218.5,1136.5L1219.2,1136.5L1219.9,1136.5L1220.6,1136.5L1221.3,1136.5L1222,1136.5L1222.7,1136.5L1223.4,1136.5L1224.1,1136.5L1224.8,1136.5L1225.5,1136.5L1226.2,1136.5L1226.9,1136.5L1227.6,1136.5L1228.3,1136.5L1229,1136.5L1229.7,1136.5L1230.4,1136.5L1231.1,1136.5L1231.8,1136.5L1232.5,1136.5L1233.2,1136.5L1233.9,1136.5L1234.6,1136.5L1235.3,1136.5L1236,1136.5L1236.7,1136.5L1237.4,1136.5L1238.1,1136.5L1238.8,1136.5L1239.5,1136.6L1240.2,1136.74L1240.9,1136.88L1241.6,1136.75L1242.3,1136.57L1243,1136.4L1243.7,1136.38L1244.4,1136.36L1245.1,1136.35L1245.8,1136.33L1246.5,1136.31L1247.2,1136.29L1247.9,1136.28L1248.6,1136.26L1249.3,1136.24L1250,1136.22L1250.7,1136.21L1251.4,1136.19L1252.1,1136.17L1252.8,1136.15L1253.5,1136.14L1254.2,1136.12L1254.9,1136.1L1255.6,1136.11L1256.3,1136.13L1257,1136.14L1257.7,1136.15L1258.4,1136.17L1259.1,1136.18L1259.8,1136.2L1260.5,1136.21L1261.2,1136.22L1261.9,1136.24L1262.6,1136.25L1263.3,1136.27L1264,1136.28L1264.7,1136.29L1265.4,1136.31L1266.1,1136.32L1266.8,1136.34L1267.5,1136.35L1268.2,1136.36L1268.9,1136.38L1269.6,1136.39L1270.3,1136.49L1271,1136.7L1271.7,1136.91L1272.4,1137L1273.1,1137L1273.8,1137L1274.5,1137L1275.2,1137L1275.9,1137L1276.6,1137L1277.3,1137L1278,1137L1278.7,1137L1279.4,1137L1280.1,1137L1280.8,1137L1281.5,1137L1282.2,1137L1282.9,1137L1283.6,1137L1284.3,1137L1285,1137L1285.7,1137L1286.4,1137L1287.1,1137L1287.8,1137L1288.5,1137L1289.2,1137L1289.9,1137L1290.6,1137L1291.3,1137L1292,1137L1292.7,1137L1293.4,1137L1294.1,1137L1294.8,1137L1295.5,1137L1296.2,1137L1296.9,1137L1297.6,1137L1298.3,1137L1299,1137L1299.7,1137L1300.4,1137L1301.1,1137L1301.8,1137L1302.5,1137L1303.2,1137L1303.9,1137L1304.6,1137L1305.3,1137L1306,1137L1306.7,1137L1307.4,1137L1308.1,1137L1308.8,1137L1309.5,1137L1310.2,1137L1310.9,1137L1311.6,1136.91L1312.3,1136.8L1313,1136.7L1313.7,1136.7L1314.4,1136.7L1315.1,1136.7L1315.8,1136.7L1316.5,1136.7L1317.2,1136.7L1317.9,1136.7L1318.6,1136.7L1319.3,1136.7L1320,1136.7L1320.7,1136.7L1321.4,1136.7L1322.1,1136.7L1322.8,1136.7L1323.5,1136.7L1324.2,1136.7L1324.9,1136.7L1325.6,1136.7L1326.3,1136.7L1327,1136.7L1327.7,1136.7L1328.4,1136.7L1329.1,1136.7L1329.8,1136.7L1330.5,1136.7L1331.2,1136.7L1331.9,1136.7L1332.6,1136.7L1333.3,1136.7L1334,1136.7L1334.7,1136.7L1335.4,1136.76L1336.1,1136.87L1336.8,1136.97L1337.5,1137L1338.2,1137L1338.9,1137L1339.6,1137L1340.3,1137L1341,1137L1341.7,1137L1342.4,1137L1343.1,1137L1343.8,1137L1344.5,1137L1345.2,1137L1345.9,1137L1346.6,1137L1347.3,1137L1348,1137L1348.7,1137L1349.4,1137L1350.1,1137L1350.8,1137L1351.5,1137L1352.2,1137L1352.9,1137L1353.6,1137L1354.3,1137L1355,1137L1355.7,1137L1356.4,1137L1357.1,1137L1357.8,1137L1358.5,1137L1359.2,1137L1359.9,1137L1360.6,1137L1361.3,1137L1362,1137L1362.7,1137L1363.4,1137L1364.1,1137L1364.8,1137L1365.5,1137L1366.2,1137L1366.9,1137L1367.6,1137L1368.3,1137L1369,1137L1369.7,1137L1370.4,1137L1371.1,1137L1371.8,1137L1372.5,1137L1373.2,1137L1373.9,1137L1374.6,1137L1375.3,1137L1376,1137L1376.7,1137L1377.4,1137L1378.1,1137L1378.8,1137L1379.5,1137L1380.2,1137L1380.9,1137L1381.6,1137L1382.3,1137L1383,1137L1383.7,1136.82L1384.4,1136.65L1385.1,1136.5L1385.8,1136.5L1386.5,1136.5L1387.2,1136.5L1387.9,1136.5L1388.6,1136.5L1389.3,1136.5L1390,1136.5L1390.7,1136.5L1391.4,1136.5L1392.1,1136.5L1392.8,1136.5L1393.5,1136.5L1394.2,1136.5L1394.9,1136.5L1395.6,1136.5L1396.3,1136.5L1397,1136.5L1397.7,1136.5L1398.4,1136.5L1399.1,1136.5L1399.8,1136.5L1400.5,1136.5L1401.2,1136.5L1401.9,1136.5L1402.6,1136.5L1403.3,1136.5L1404,1136.5L1404.7,1136.5L1405.4,1136.5L1406.1,1136.5L1406.8,1136.5L1407.5,1136.63L1408.2,1136.8L1408.9,1136.98L1409.6,1137L1410.3,1137L1411,1137L1411.7,1137L1412.4,1137L1413.1,1137L1413.8,1137L1414.5,1137L1415.2,1137L1415.9,1137L1416.6,1137L1417.3,1137L1418,1137L1418.7,1137L1419.4,1137L1420.1,1137L1420.8,1137L1421.5,1137L1422.2,1137L1422.9,1137L1423.6,1137L1424.3,1137L1425,1137L1425.7,1137L1426.4,1137L1427.1,1137L1427.8,1137L1428.5,1137L1429.2,1137L1429.9,1137L1430.6,1137L1431.3,1137L1432,1137L1432.7,1137L1433.4,1137L1434.1,1137L1434.8,1137L1435.5,1137L1436.2,1137L1436.9,1137L1437.6,1137L1438.3,1137L1439,1137L1439.7,1137L1440.4,1137L1441.1,1137L1441.8,1137L1442.5,1137L1443.2,1137L1443.9,1137L1444.6,1137L1445.3,1137L1446,1137L1446.7,1137L1447.4,1137L1448.1,1137L1448.8,1137L1449.5,1137L1450.2,1137L1450.9,1137L1451.6,1137L1452.3,1137L1453,1137L1453.7,1137L1454.4,1137L1455.1,1137L1455.8,1137L1456.5,1137L1457.2,1137L1457.9,1137L1458.6,1137L1459.3,1137L1460,1137L1460.7,1137L1461.4,1137L1462.1,1137L1462.8,1137L1463.5,1137L1464.2,1137L1464.9,1137L1465.6,1137L1466.3,1137L1467,1137L1467.7,1137L1468.4,1137L1469.1,1137L1469.8,1137L1470.5,1137L1471.2,1137L1471.9,1137L1472.6,1137L1473.3,1137L1474,1137L1474.7,1137L1475.4,1137L1476.1,1137L1476.8,1137L1477.5,1137L1478.2,1137L1478.9,1137L1479.6,1137L1480.3,1137L1481,1137L1481.7,1137L1482.4,1137L1483.1,1137L1483.8,1137L1484.5,1137L1485.2,1137L1485.9,1137L1486.6,1137L1487.3,1137L1488,1137L1488.7,1137L1489.4,1137L1490.1,1137L1490.8,1137L1491.5,1137L1492.2,1137L1492.9,1137L1493.6,1137L1494.3,1137L1495,1137L1495.7,1137L1496.4,1137L1497.1,1137L1497.8,1137L1498.5,1137L1499.2,1137L1499.9,1137L1500.6,1137L1501.3,1137L1502,1137L1502.7,1137L1503.4,1137L1504.1,1137L1504.8,1137L1505.5,1137L1506.2,1137L1506.9,1137L1507.6,1137L1508.3,1137L1509,1137L1509.7,1137L1510.4,1137L1511.1,1137L1511.8,1137L1512.5,1137L1513.2,1137L1513.9,1137L1514.6,1137L1515.3,1137L1516,1137L1516.7,1137L1517.4,1137L1518.1,1137L1518.8,1137L1519.5,1137L1520.2,1137L1520.9,1137L1521.6,1137L1522.3,1137L1523,1137L1523.7,1137L1524.4,1137L1525.1,1137L1525.8,1137L1526.5,1137L1527.2,1137L1527.9,1137L1528.6,1137L1529.3,1137L1530,1137L1530.7,1137L1531.4,1137L1532.1,1137L1532.8,1137L1533.5,1137L1534.2,1137L1534.9,1137L1535.6,1137L1536.3,1137L1537,1137L1537.7,1137L1538.4,1137L1539.1,1137L1539.8,1137L1540.5,1137L1541.2,1137L1541.9,1137L1542.6,1137L1543.3,1137L1544,1137L1544.7,1137L1545.4,1137L1546.1,1137L1546.8,1137L1547.5,1137L1548.2,1137L1548.9,1137L1549.6,1137L1550.3,1137L1551,1137L1551.7,1137L1552.4,1137L1553.1,1137L1553.8,1137L1554.5,1137L1555.2,1137L1555.9,1137L1556.6,1137L1557.3,1137L1558,1137L1558.7,1137L1559.4,1136.94L1560.1,1136.83L1560.8,1136.73L1561.5,1136.7L1562.2,1136.7L1562.9,1136.7L1563.6,1136.7L1564.3,1136.7L1565,1136.7L1565.7,1136.7L1566.4,1136.7L1567.1,1136.7L1567.8,1136.7L1568.5,1136.7L1569.2,1136.7L1569.9,1136.7L1570.6,1136.7L1571.3,1136.7L1572,1136.7L1572.7,1136.7L1573.4,1136.7L1574.1,1136.7L1574.8,1136.7L1575.5,1136.7L1576.2,1136.7L1576.9,1136.7L1577.6,1136.7L1578.3,1136.7L1579,1136.7L1579.7,1136.7L1580.4,1136.7L1581.1,1136.7L1581.8,1136.7L1582.5,1136.7L1583.2,1136.7L1583.9,1136.7L1584.6,1136.7L1585.3,1136.75L1586,1136.85L1586.7,1136.96L1587.4,1137L1588.1,1137L1588.8,1137L1589.5,1137L1590.2,1137L1590.9,1137L1591.6,1137L1592.3,1137L1593,1137L1593.7,1137L1594.4,1137L1595.1,1137L1595.8,1137L1596.5,1137L1597.2,1137L1597.9,1137L1598.6,1137L1599.3,1137L1600,1137L1600.7,1137L1601.4,1137L1602.1,1137L1602.8,1137L1603.5,1137L1604.2,1137L1604.9,1137L1605.6,1137L1606.3,1137L1607,1137L1607.7,1137L1608.4,1137L1609.1,1137L1609.8,1137L1610.5,1137L1611.2,1137L1611.9,1137L1612.6,1137L1613.3,1137L1614,1137L1614.7,1137L1615.4,1137L1616.1,1137L1616.8,1137L1617.5,1137L1618.2,1137L1618.9,1137L1619.6,1137L1620.3,1137L1621,1137L1621.7,1137L1622.4,1137L1623.1,1137L1623.8,1137L1624.5,1137L1625.2,1137L1625.9,1137L1626.6,1137L1627.3,1137L1628,1137L1628.7,1137L1629.4,1137L1630.1,1137L1630.8,1137L1631.5,1137L1632.2,1137L1632.9,1137L1633.6,1137L1634.3,1137L1635,1137L1635.7,1137L1636.4,1137L1637.1,1137L1637.8,1137L1638.5,1137L1639.2,1137L1639.9,1137L1640.6,1137L1641.3,1137L1642,1137L1642.7,1137L1643.4,1137L1644.1,1137L1644.8,1137L1645.5,1137L1646.2,1137L1646.9,1137L1647.6,1137L1648.3,1137L1649,1137L1649.7,1137L1650.4,1137L1651.1,1137L1651.8,1137L1652.5,1137L1653.2,1137L1653.9,1137L1654.6,1137L1655.3,1137L1656,1137L1656.7,1137L1657.4,1137L1658.1,1137L1658.8,1137L1659.5,1137L1660.2,1137L1660.9,1137L1661.6,1137L1662.3,1137L1663,1137L1663.7,1137L1664.4,1137L1665.1,1137L1665.8,1137L1666.5,1137L1667.2,1137L1667.9,1137L1668.6,1137L1669.3,1137L1670,1137L1670.7,1137L1671.4,1137L1672.1,1137L1672.8,1137L1673.5,1137L1674.2,1137L1674.9,1137L1675.6,1137L1676.3,1137L1677,1137L1677.7,1137L1678.4,1137L1679.1,1137L1679.8,1137L1680.5,1137L1681.2,1137L1681.9,1137L1682.6,1137L1683.3,1137L1684,1137L1684.7,1137L1685.4,1137L1686.1,1137L1686.8,1137L1687.5,1137L1688.2,1136.97L1688.9,1136.86L1689.6,1136.76L1690.3,1136.7L1691,1136.7L1691.7,1136.7L1692.4,1136.7L1693.1,1136.7L1693.8,1136.7L1694.5,1136.7L1695.2,1136.7L1695.9,1136.7L1696.6,1136.7L1697.3,1136.7L1698,1136.7L1698.7,1136.7L1699.4,1136.7L1700.1,1136.7L1700.8,1136.7L1701.5,1136.7L1702.2,1136.73L1702.9,1136.84L1703.6,1136.94L1704.3,1137L1705,1137L1705.7,1137L1706.4,1137L1707.1,1137L1707.8,1137L1708.5,1137L1709.2,1137L1709.9,1137L1710.6,1137L1711.3,1137L1712,1137L1712.7,1136.89L1713.4,1136.79L1714.1,1136.7L1714.8,1136.7L1715.5,1136.7L1716.2,1136.7L1716.9,1136.7L1717.6,1136.7L1718.3,1136.7L1719,1136.7L1719.7,1136.7L1720.4,1136.7L1721.1,1136.7L1721.8,1136.7L1722.5,1136.7L1723.2,1136.7L1723.9,1136.7L1724.6,1136.7L1725.3,1136.75L1726,1136.85L1726.7,1136.96L1727.4,1137L1728.1,1137L1728.8,1137L1729.5,1137L1730.2,1137L1730.9,1137L1731.6,1137L1732.3,1137L1733,1137L1733.7,1137L1734.4,1137L1735.1,1137L1735.8,1137L1736.5,1137L1737.2,1137L1737.9,1137L1738.6,1137L1739.3,1137L1740,1137L1740.7,1137L1741.4,1137L1742.1,1137L1742.8,1137L1743.5,1137L1744.2,1137L1744.9,1137L1745.6,1137L1746.3,1137L1747,1137L1747.7,1137L1748.4,1137L1749.1,1137L1749.8,1137L1750.5,1137L1751.2,1137L1751.9,1137L1752.6,1137L1753.3,1137L1754,1137L1754.7,1137L1755.4,1137L1756.1,1137L1756.8,1137L1757.5,1137L1758.2,1137L1758.9,1137L1759.6,1137L1760.3,1137L1761,1137L1761.7,1137L1762.4,1137L1763.1,1137L1763.8,1137L1764.5,1137L1765.2,1137L1765.9,1137L1766.6,1137L1767.3,1137L1768,1137L1768.7,1137L1769.4,1137L1770.1,1137L1770.8,1137L1771.5,1137L1772.2,1137L1772.9,1137L1773.6,1137L1774.3,1137L1775,1137L1775.7,1137L1776.4,1137L1777.1,1137L1777.8,1137L1778.5,1137L1779.2,1137L1779.9,1137L1780.6,1137L1781.3,1137L1782,1137L1782.7,1137L1783.4,1137L1784.1,1137L1784.8,1137L1785.5,1137L1786.2,1137L1786.9,1137L1787.6,1137L1788.3,1137L1789,1137L1789.7,1137L1790.4,1137L1791.1,1137L1791.8,1137L1792.5,1137L1793.2,1137L1793.9,1137L1794.6,1137L1795.3,1137L1796,1137L1796.7,1137L1797.4,1137L1798.1,1137L1798.8,1137L1799.5,1137L1800.2,1137L1800.9,1137L1801.6,1137L1802.3,1137L1803,1137L1803.7,1137L1804.4,1137L1805.1,1137L1805.8,1137L1806.5,1137L1807.2,1137L1807.9,1137L1808.6,1137L1809.3,1137L1810,1137L1810.7,1137L1811.4,1137L1812.1,1137L1812.8,1137L1813.5,1137L1814.2,1137L1814.9,1137L1815.6,1137L1816.3,1137L1817,1137L1817.7,1137L1818.4,1137L1819.1,1137L1819.8,1137L1820.5,1137L1821.2,1137L1821.9,1137L1822.6,1137L1823.3,1137L1824,1137L1824.7,1137L1825.4,1137L1826.1,1137L1826.8,1137L1827.5,1137L1828.2,1137L1828.9,1137L1829.6,1137L1830.3,1137L1831,1137L1831.7,1137L1832.4,1137L1833.1,1137L1833.8,1137L1834.5,1137L1835.2,1136.95L1835.9,1136.76L1836.6,1136.57L1837.3,1136.39L1838,1136.2L1838.7,1136.16L1839.4,1136.12L1840.1,1136.07L1840.8,1136.03L1841.5,1135.99L1842.2,1135.95L1842.9,1135.91L1843.6,1135.94L1844.3,1135.99L1845,1136.04L1845.7,1136.09L1846.4,1136.14L1847.1,1136.19L1847.8,1136.24L1848.5,1136.29L1849.2,1136.34L1849.9,1136.39L1850.6,1136.58L1851.3,1136.79L1852,1137L1852.7,1137L1853.4,1137L1854.1,1137L1854.8,1137L1855.5,1137L1856.2,1137L1856.9,1137L1857.6,1137L1858.3,1137L1859,1137L1859.7,1137L1860.4,1137L1861.1,1137L1861.8,1137L1862.5,1137L1863.2,1137L1863.9,1137L1864.6,1137L1865.3,1137L1866,1137L1866.7,1137L1867.4,1137L1868.1,1137L1868.8,1137L1869.5,1137L1870.2,1137L1870.9,1137L1871.6,1137L1872.3,1137L1873,1137L1873.7,1137L1874.4,1137L1875.1,1137L1875.8,1137L1876.5,1137L1877.2,1137L1877.9,1137L1878.6,1137L1879.3,1137L1880,1137L1880.7,1137L1881.4,1137L1882.1,1137L1882.8,1137L1883.5,1137L1884.2,1137L1884.9,1137L1885.6,1137L1886.3,1137L1887,1137L1887.7,1137L1888.4,1137L1889.1,1137L1889.8,1137L1890.5,1137L1891.2,1137L1891.9,1137L1892.6,1137L1893.3,1137L1894,1137L1894.7,1137L1895.4,1137L1896.1,1137L1896.8,1137L1897.5,1137L1898.2,1137L1898.9,1137L1899.6,1137L1900.3,1137L1901,1137L1901.7,1137L1902.4,1137L1903.1,1137L1903.8,1137L1904.5,1137L1905.2,1137L1905.9,1137L1906.6,1137L1907.3,1137L1908,1137L1908.7,1137L1909.4,1137L1910.1,1137L1910.8,1137L1911.5,1137L1912.2,1137L1912.9,1137L1913.6,1137L1914.3,1137L1915,1137L1915.7,1137L1916.4,1137L1917.1,1137L1917.8,1137L1918.5,1137L1919.2,1137L1919.9,1137L1920.6,1137L1921.3,1137L1922,1137L1922.7,1137L1923.4,1137L1924.1,1137L1924.8,1137L1925.5,1137L1926.2,1137L1926.9,1137L1927.6,1137L1928.3,1137L1929,1137L1929.7,1137L1930.4,1137L1931.1,1137L1931.8,1137L1932.5,1137L1933.2,1137L1933.9,1137L1934.6,1137L1935.3,1137L1936,1137L1936.7,1137L1937.4,1137L1938.1,1137L1938.8,1137L1939.5,1137L1940.2,1137L1940.9,1137L1941.6,1137L1942.3,1137L1942.3,1137.4ZM1961.7,1137.4L1961.7,1134.65L1962.4,1134.7L1963.1,1134.89L1963.8,1135.07L1964.5,1134.43L1965.2,1133.98L1965.9,1134.58L1966.6,1133.95L1967.3,1134.96L1968,1134.23L1968.7,1134.66L1969.4,1134.29L1970.1,1134.16L1970.8,1133.87L1971.5,1134.35L1972.2,1133.93L1972.9,1134.68L1973.6,1134.96L1974.3,1134.57L1975,1134.29L1975.7,1134.34L1976.4,1135.19L1977.1,1134.97L1977.8,1134.99L1978.5,1134.92L1979.2,1134.87L1979.9,1135.73L1980.6,1135.87L1981.3,1136.2L1982,1136.44L1982.7,1136.51L1983.4,1136.58L1984.1,1136.65L1984.8,1136.72L1985.5,1136.79L1986.2,1136.86L1986.9,1136.93L1987.6,1137L1988.3,1137.07L1989,1137.14L1989.7,1137.11L1990.4,1137.05L1991.1,1137L1991.8,1136.94L1992.5,1136.88L1993.2,1136.83L1993.9,1136.77L1994.6,1136.72L1995.3,1136.64L1996,1136.43L1996.7,1136.22L1997.4,1136.01L1998.1,1135.8L1998.8,1135.95L1999.5,1135.03L2000.2,1134.83L2000.9,1134.82L2001.6,1135.49L2002.3,1135.17L2003,1135.18L2003.7,1134.23L2004.4,1135.09L2005.1,1135.01L2005.8,1134.81L2006.5,1133.96L2007.2,1134.67L2007.9,1133.59L2008.6,1134.57L2009.3,1134.17L2010,1134.82L2010.7,1134.74L2011.4,1134.06L2012.1,1133.96L2012.8,1134.94L2013.5,1134.86L2014.2,1135.25L2014.9,1135.14L2015.6,1134.97L2016.3,1134.87L2017,1134.87L2017.7,1135.1L2018.4,1135.27L2019.1,1134.8L2019.8,1135L2020.5,1134.97L2021.2,1134.21L2021.9,1134.62L2022.6,1135.27L2023.3,1134.1L2024,1134.04L2024.7,1134.72L2025.4,1133.95L2026.1,1135.01L2026.8,1133.94L2027.5,1134.87L2028.2,1133.93L2028.9,1134.14L2029.6,1133.72L2030.3,1134.57L2031,1134.06L2031.7,1133.62L2032.4,1134.72L2033.1,1134.61L2033.8,1134.05L2034.5,1134.63L2035.2,1134.71L2035.9,1134.74L2036.6,1134.22L2037.3,1133.8L2038,1134.13L2038.7,1133.98L2039.4,1134.85L2040.1,1134.79L2040.8,1134.2L2041.5,1134.8L2042.2,1135.04L2042.9,1135.02L2043.6,1134.3L2044.3,1133.97L2045,1134.61L2045.7,1135.25L2046.4,1135.07L2047.1,1134.4L2047.8,1134.15L2048.5,1134.8L2049.2,1134.35L2049.9,1134.85L2050.6,1134.04L2051.3,1133.61L2052,1133.89L2052.7,1133.33L2053.4,1134.11L2054.1,1133.29L2054.8,1133.52L2055.5,1133.18L2056.2,1134.04L2056.9,1133.23L2057.6,1132.79L2058.3,1133.43L2059,1132.68L2059.7,1133.67L2060.4,1132.73L2061.1,1131.48L2061.8,1132L2062.5,1132.19L2063.2,1131.22L2063.9,1131.49L2064.6,1131.77L2065.3,1131.94L2066,1130.49L2066.7,1131.13L2067.4,1131.17L2068.1,1131.34L2068.8,1131.82L2069.5,1131.57L2070.2,1130.17L2070.9,1130.2L2071.6,1129.2L2072.3,1130.02L2073,1130.01L2073.7,1129.19L2074.4,1130.36L2075.1,1128.11L2075.8,1129.41L2076.5,1130.69L2077.2,1130.25L2077.9,1129.36L2078.6,1129.24L2079.3,1130.19L2080,1130.19L2080.7,1130.96L2081.4,1132.54L2082.1,1132.92L2082.8,1133.33L2083.5,1134.3L2084.2,1133.45L2084.9,1133.59L2085.6,1133.28L2086.3,1134.07L2087,1133.14L2087.7,1133.59L2088.4,1133.91L2089.1,1134.49L2089.8,1133.55L2090.5,1133.98L2091.2,1134.12L2091.9,1134.78L2092.6,1134.84L2093.3,1134.84L2094,1133.84L2094.7,1134.43L2095.4,1134.03L2096.1,1133.99L2096.8,1133.77L2097.5,1134.46L2098.2,1134.55L2098.9,1133.39L2099.6,1134.56L2100.3,1133.24L2101,1134.2L2101.7,1134.79L2102.4,1134.43L2103.1,1133.82L2103.8,1134.38L2104.5,1134.8L2105.2,1134.92L2105.9,1135L2106.6,1134.37L2107.3,1134.68L2108,1134.35L2108.7,1135.08L2109.4,1134.93L2110.1,1134.63L2110.8,1134.8L2111.5,1134.23L2112.2,1134.7L2112.9,1133.93L2113.6,1133.94L2114.3,1134.19L2115,1133.65L2115.7,1134.09L2116.4,1133.07L2117.1,1133.24L2117.8,1133.9L2118.5,1132.82L2119.2,1133.1L2119.9,1132.56L2120.6,1132.77L2121.3,1132.31L2122,1132.94L2122.7,1133.26L2123.4,1132.41L2124.1,1131.95L2124.8,1132.69L2125.5,1132.22L2126.2,1132.38L2126.9,1132.89L2127.6,1133.14L2128.3,1132.21L2129,1133.18L2129.7,1132.54L2130.4,1131.8L2131.1,1132.65L2131.8,1132.51L2132.5,1131.3L2133.2,1132.11L2133.9,1132.2L2134.6,1132.98L2135.3,1131.79L2136,1132.68L2136.7,1131.98L2137.4,1131.52L2138.1,1131.85L2138.8,1133.19L2139.5,1131.76L2140.2,1132.37L2140.9,1133.43L2141.6,1133.74L2142.3,1133.37L2143,1132.75L2143.7,1133L2144.4,1134.01L2145.1,1132.42L2145.8,1134.18L2146.5,1133.03L2147.2,1133.78L2147.9,1133.49L2148.6,1133.67L2149.3,1133.94L2150,1134.35L2150.7,1134.12L2151.4,1134.54L2152.1,1134.42L2152.8,1134.74L2153.5,1134.2L2154.2,1133.36L2154.9,1133.6L2155.6,1134.57L2156.3,1134.11L2157,1133.93L2157.7,1133.76L2158.4,1133.74L2159.1,1133.22L2159.8,1134.29L2160.5,1133.65L2161.2,1133.69L2161.9,1134.7L2162.6,1134.54L2163.3,1134.63L2164,1133.96L2164.7,1133.67L2165.4,1133.7L2166.1,1133.82L2166.8,1134.27L2167.5,1134.23L2168.2,1134.23L2168.9,1134.72L2169.6,1134.46L2170.3,1134.89L2171,1134.61L2171.7,1134.54L2172.4,1133.73L2173.1,1134.71L2173.8,1134.31L2174.5,1134.88L2175.2,1134.86L2175.9,1134.2L2176.6,1134.07L2177.3,1134.14L2178,1133.46L2178.7,1134.17L2179.4,1133.93L2180.1,1133.54L2180.8,1134.61L2181.5,1133.64L2182.2,1134.56L2182.9,1133.42L2183.6,1133.61L2184.3,1133.62L2185,1133.55L2185.7,1134.77L2186.4,1134.74L2187.1,1134.29L2187.8,1134.82L2188.5,1133.68L2189.2,1134.73L2189.9,1134.68L2190.6,1134.05L2191.3,1134.91L2192,1133.95L2192.7,1134.65L2193.4,1134.42L2194.1,1134.01L2194.8,1135L2195.5,1134.75L2196.2,1134.57L2196.9,1134.13L2197.6,1134.67L2198.3,1134.49L2199,1134.76L2199.7,1134.24L2200.4,1134.46L2201.1,1134.13L2201.8,1134.99L2202.5,1134.23L2203.2,1133.69L2203.9,1134.64L2204.6,1134.64L2205.3,1133.89L2206,1134.74L2206.7,1134.23L2207.4,1134.36L2208.1,1134.65L2208.8,1134.35L2209.5,1133.6L2210.2,1133.77L2210.9,1134.28L2211.6,1133.68L2212.3,1132.96L2213,1134.25L2213.7,1133.24L2214.4,1134.17L2215.1,1133.91L2215.8,1134.14L2216.5,1133.36L2217.2,1133.23L2217.9,1133.13L2218.6,1133.34L2219.3,1133.32L2220,1134.03L2220.7,1133.9L2221.4,1134.12L2222.1,1132.66L2222.8,1134.19L2223.5,1132.89L2224.2,1133.69L2224.9,1132.87L2225.6,1133.57L2226.3,1132.67L2227,1133L2227.7,1132.91L2228.4,1134.17L2229.1,1133.03L2229.8,1134.17L2230.5,1133.11L2231.2,1133.48L2231.9,1133.9L2232.6,1133.24L2233.3,1133.48L2234,1133.11L2234.7,1132.76L2235.4,1133.67L2236.1,1132.9L2236.8,1132.93L2237.5,1131.85L2238.2,1131.71L2238.9,1133.05L2239.6,1132.79L2240.3,1132.52L2241,1132.76L2241.7,1131.28L2242.4,1131.55L2243.1,1133.15L2243.8,1131.83L2244.5,1131.92L2245.2,1131.98L2245.9,1132.99L2246.6,1133.87L2247.3,1132.63L2248,1133.7L2248.7,1132.79L2249.4,1134.02L2250.1,1133.43L2250.8,1134.41L2251.5,1133.83L2252.2,1134.55L2252.9,1134.97L2253.6,1134.16L2254.3,1134.42L2255,1134.54L2255.7,1134.89L2256.4,1134.83L2257.1,1134.64L2257.8,1135.04L2258.5,1134.5L2259.2,1135.18L2259.9,1135.11L2260.6,1134.95L2261.3,1134.71L2262,1134.6L2262.7,1134.47L2263.4,1134.63L2264.1,1134.8L2264.8,1134.28L2265.5,1134.68L2266.2,1134.73L2266.9,1135.08L2267.6,1134.5L2268.3,1135.33L2269,1134.51L2269.7,1134.71L2270.4,1134.38L2271.1,1134.58L2271.8,1134.98L2272.5,1134.83L2273.2,1135.18L2273.9,1135.3L2274.6,1134.71L2275.3,1135.27L2276,1134.99L2276.7,1135.74L2277.4,1135.71L2278.1,1135.12L2278.8,1135.37L2279.5,1135.36L2280.2,1135.54L2280.9,1135.95L2281.6,1135.77L2282.3,1135.84L2283,1135.91L2283.7,1135.94L2284.4,1135.94L2285.1,1135.94L2285.8,1135.94L2286.5,1135.94L2287.2,1135.94L2287.9,1135.94L2288.6,1135.94L2289.3,1135.94L2290,1135.94L2290.7,1135.94L2291.4,1135.94L2292.1,1135.94L2292.8,1135.94L2293.5,1135.94L2294.2,1135.94L2294.9,1135.94L2295.6,1135.94L2296.3,1135.96L2297,1135.98L2297.7,1136.01L2298.4,1136.03L2299.1,1136.05L2299.8,1136.08L2300.5,1136.1L2301.2,1136.12L2301.9,1136.15L2302.6,1136.17L2302.6,1137.4ZM2316.3,1137.4L2316.3,1136.08L2317,1136.5L2317.7,1136.92L2318.4,1136.97L2319.1,1136.73L2319.8,1136.51L2320.5,1136.29L2321.2,1136.07L2321.9,1135.85L2322.6,1135.64L2323.3,1135.42L2324,1135.2L2324.7,1135.09L2325.4,1134.98L2326.1,1134.88L2326.8,1134.77L2327.5,1134.66L2327.5,1137.4Z" fill="#FF8800"/><path d="M402,1137.4 L402,1034.1 L404,1031.1 L405.2,1038.6 L406.7,1061.2 L408.6,1064.2 L409.7,1063.5 L410.4,1074.8 L411.2,1064.2 L412.3,1074 L413.5,1067.3 L414.7,1056 L416.1,1055.2 L417.4,1060.5 L418.4,1052.2 L418.4,1137.4Z" fill="#FF8800" /><path d="M861.9,1137.4 L861.9,1037.9 L863.2,1036.4 L863.4,1030.3 L865.4,1031.1 L866.2,1038.6 L868.1,1033.3 L869.6,1035.6 L870.7,1040.9 L872.6,1041.6 L873.5,1036 L874.1,1049.2 L874.5,1058.2 L875.6,1066.5 L877.1,1065.7 L878.5,1065 L879,1070.2 L880.5,1073.3 L881.6,1071.7 L881.6,1137.4Z" fill="#FF8800" /><path d="M1423.5,1137.4 L1423.5,1066.5 L1425.3,1068 L1426.1,1067.3 L1426.8,1052.2 L1427.4,1044.7 L1428,1045.4 L1428.5,1052.2 L1429.5,1046.9 L1430,1048.4 L1430,1137.4Z" fill="#FF8800" /><path d="M1943,1137.4 L1943,1028.4 L1943.5,1014.2 L1945.1,1015.3 L1945.7,1005.5 L1947.3,1001.2 L1948.7,1002.3 L1950.3,999 L1951.5,989.7 L1952.2,1000.1 L1953.5,999 L1954.6,1004.4 L1955.3,1030.6 L1956.4,1026.2 L1957.3,1032.7 L1958.2,1029.5 L1960.9,1033.8 L1960.9,1137.4Z" fill="#FF8800" /><path d="M2303.2,1137.4 L2303.2,1064.7 L2304.4,1057.9 L2305.6,1048.1 L2307.3,1050.1 L2308.3,1032.5 L2309.8,1025.7 L2311.7,1020.8 L2313.2,1018.8 L2315.6,1018.8 L2315.6,1137.4Z" fill="#FF8800" /><path d="M2327.9,1137.4 L2327.9,993.1 L2329.8,993.4 L2330.8,1009.1 L2332.7,1010.5 L2333.5,1024.7 L2334.5,1012 L2336.2,1022.7 L2337.6,1033.5 L2338.6,1029.6 L2339.8,1029.6 L2339.8,1137.4Z" fill="#FF8800" /><path d="M418.4,1057.5C418.4,994.7 1943,964.5 1943,1027.3" fill="none" stroke="#FF8800" stroke-width="1.0" opacity="0.9"/><path d="M1961,1033.8C1961,969.8 2328,917 2328,981" fill="none" stroke="#FF8800" stroke-width="5.5" opacity="1.0"/><rect x="1145.49" y="948.8" width="70.22" height="88" fill="#fff"/><rect x="2088.09" y="913.4" width="112.62" height="88" fill="#fff"/><rect x="2265.19" y="905.1" width="112.62" height="88" fill="#fff"/><path d="M2309,1018.5 L2321.7,1018.5 L2322.2,993.1 L2309.8,993.1Z" fill="#FF8800" /><rect x="2309.8" y="986.9" width="12.9" height="1" fill="#FF8800" opacity="0.4"/><rect x="2327.9" y="986.9" width="1.6" height="1" fill="#FF8800" opacity="0.4"/><path d="M400,957.75V1139.55" stroke="#000" stroke-width="4.3" fill="none"/><path d="M380.3,959.9H400" stroke="#000" stroke-width="4.3" fill="none"/><path d="M380.3,1004.28H400" stroke="#000" stroke-width="4.3" fill="none"/><path d="M380.3,1048.65H400" stroke="#000" stroke-width="4.3" fill="none"/><path d="M380.3,1093.03H400" stroke="#000" stroke-width="4.3" fill="none"/><path d="M380.3,1137.4H400" stroke="#000" stroke-width="4.3" fill="none"/><g transform="translate(360.6,976.9)" font-family="Liberation Sans, sans-serif" font-size="45.33" fill="#000" stroke="#000" stroke-width="0.8" stroke-linejoin="round" opacity="0.999"><text transform="translate(-83.55,0.43) scale(1.1289,1.0385)">115</text></g><g transform="translate(360.6,1021.28)" font-family="Liberation Sans, sans-serif" font-size="45.33" fill="#000" stroke="#000" stroke-width="0.8" stroke-linejoin="round" opacity="0.999"><text transform="translate(-97.68,0.37) scale(1.0797,1.0510)">86</text><text transform="translate(-40.6,-0.1) scale(0.8439,1.0530)">.</text><text transform="translate(-26.82,-0.1) scale(0.9606,1.0363)">2</text></g><g transform="translate(360.6,1065.65)" font-family="Liberation Sans, sans-serif" font-size="45.33" fill="#000" stroke="#000" stroke-width="0.8" stroke-linejoin="round" opacity="0.999"><text transform="translate(-97.07,0.43) scale(1.0512,1.0385)">57</text><text transform="translate(-40.6,-0.1) scale(0.8439,1.0530)">.</text><text transform="translate(-26.2,0.43) scale(0.9396,1.0385)">5</text></g><g transform="translate(360.6,1110.03)" font-family="Liberation Sans, sans-serif" font-size="45.33" fill="#000" stroke="#000" stroke-width="0.8" stroke-linejoin="round" opacity="0.999"><text transform="translate(-97.69,0.37) scale(1.0688,1.0512)">28</text><text transform="translate(-40.6,-0.1) scale(0.8439,1.0530)">.</text><text transform="translate(-26.89,0.37) scale(1.0082,1.0510)">8</text></g><g transform="translate(230.6,1039.85) rotate(-90)" font-family="Liberation Sans, sans-serif" font-size="45.33" fill="#000" stroke="#000" stroke-width="0.8" stroke-linejoin="round" opacity="0.999"><text transform="translate(-61.25,-0.4) scale(0.9368,1.0063)">RPKM</text></g><g transform="translate(1180.6,1004.95)" font-family="Liberation Sans, sans-serif" font-size="34.0" fill="#000" stroke="#000" stroke-width="0.6" stroke-linejoin="round" opacity="0.999"><text transform="translate(-9.16,0.1) scale(0.9640,1.0522)">3</text></g><g transform="translate(2144.4,969.55)" font-family="Liberation Sans, sans-serif" font-size="34.0" fill="#000" stroke="#000" stroke-width="0.6" stroke-linejoin="round" opacity="0.999"><text transform="translate(-30.68,0.1) scale(1.0780,1.0522)">145</text></g><g transform="translate(2321.5,961.25)" font-family="Liberation Sans, sans-serif" font-size="34.0" fill="#000" stroke="#000" stroke-width="0.6" stroke-linejoin="round" opacity="0.999"><text transform="translate(-30.68,0.1) scale(1.0702,1.0522)">542</text></g><g transform="translate(2340.2,934.2)" font-family="Liberation Sans, sans-serif" font-size="45.55" fill="#FF8800" stroke="#FF8800" stroke-width="0.8" stroke-linejoin="round" opacity="0.999"><text transform="translate(-1244.6,-0.93) scale(0.9394,1.0324)">CRYZ</text><text transform="translate(-1112.88,-0.87) scale(0.9644,1.0344)">AARS</text><text transform="translate(-991.65,3.31) scale(0.8481,0.6987)">_</text><text transform="translate(-968.88,-2.3) scale(1.0323,0.9897)">HepG2</text><text transform="translate(-816.9,3.31) scale(0.8481,0.6987)">_</text><text transform="translate(-793.88,-0.94) scale(1.0951,1.0319)">2014</text><text transform="translate(-681.01,-3.76) scale(1.0028,0.6948)">-</text><text transform="translate(-663.76,-1.4) scale(1.0442,1.0176)">12</text><text transform="translate(-608.07,-3.76) scale(1.0028,0.6948)">-</text><text transform="translate(-590.88,-1.4) scale(1.0605,1.0030)">17</text><text transform="translate(-535.05,3.31) scale(0.8481,0.6987)">_</text><text transform="translate(-512.06,-1.4) scale(0.9713,1.0030)">KD</text><text transform="translate(-449.13,2.13) scale(1.1312,1.0479)">/</text><text transform="translate(-433.07,-0.93) scale(0.8993,1.0324)">KO</text><text transform="translate(-370.85,-3.76) scale(1.0028,0.6948)">-</text><text transform="translate(-353.28,-1.4) scale(0.9498,1.0030)">1</text><text transform="translate(-312.02,-0.87) scale(1.0747,0.9891)">IncLevel</text><text transform="translate(-127,-1.4) scale(0.9333,0.8838)">:</text><text transform="translate(-97.95,-0.94) scale(1.0009,1.0322)">0</text><text transform="translate(-69.16,-1.4) scale(0.8362,0.9322)">.</text><text transform="translate(-54.9,-0.94) scale(1.0474,1.0322)">31</text></g></g><g><rect x="402" y="1448.6" width="1937.8" height="0.8" fill="#FF8800" opacity="0.27"/><path d="M419.1,1449.4L419.1,1446.94L419.8,1447.37L420.5,1447.09L421.2,1447.03L421.9,1447.49L422.6,1447.59L423.3,1447.04L424,1447.48L424.7,1447.3L425.4,1446.9L426.1,1447.01L426.8,1447.76L427.5,1447.86L428.2,1447.81L428.9,1447.42L429.6,1448.1L430.3,1447.82L431,1447.87L431.7,1447.91L432.4,1447.96L433.1,1448.01L433.8,1448.05L434.5,1448.1L435.2,1448.15L435.9,1448.19L436.6,1448.24L437.3,1448.29L438,1448.33L438.7,1448.38L439.4,1448.4L440.1,1448.4L440.8,1448.4L441.5,1448.4L442.2,1448.4L442.9,1448.4L443.6,1448.4L444.3,1448.4L445,1448.4L445.7,1448.4L446.4,1448.4L447.1,1448.4L447.8,1448.4L448.5,1448.4L449.2,1448.4L449.9,1448.4L450.6,1448.41L451.3,1448.42L452,1448.43L452.7,1448.45L453.4,1448.46L454.1,1448.47L454.8,1448.48L455.5,1448.49L456.2,1448.5L456.9,1448.52L457.6,1448.53L458.3,1448.54L459,1448.55L459.7,1448.56L460.4,1448.57L461.1,1448.59L461.8,1448.6L462.5,1448.8L463.2,1449L463.9,1449L464.6,1449L465.3,1449L466,1449L466.7,1449L467.4,1449L468.1,1449L468.8,1449L469.5,1449L470.2,1449L470.9,1449L471.6,1449L472.3,1449L473,1449L473.7,1449L474.4,1449L475.1,1449L475.8,1449L476.5,1449L477.2,1449L477.9,1449L478.6,1449L479.3,1449L480,1449L480.7,1449L481.4,1449L482.1,1449L482.8,1449L483.5,1449L484.2,1449L484.9,1449L485.6,1449L486.3,1448.91L487,1448.7L487.7,1448.49L488.4,1448.4L489.1,1448.4L489.8,1448.4L490.5,1448.4L491.2,1448.4L491.9,1448.4L492.6,1448.4L493.3,1448.4L494,1448.4L494.7,1448.4L495.4,1448.4L496.1,1448.4L496.8,1448.4L497.5,1448.4L498.2,1448.4L498.9,1448.4L499.6,1448.4L500.3,1448.4L501,1448.4L501.7,1448.4L502.4,1448.4L503.1,1448.4L503.8,1448.4L504.5,1448.4L505.2,1448.4L505.9,1448.4L506.6,1448.4L507.3,1448.4L508,1448.4L508.7,1448.4L509.4,1448.4L510.1,1448.4L510.8,1448.4L511.5,1448.4L512.2,1448.4L512.9,1448.4L513.6,1448.4L514.3,1448.4L515,1448.4L515.7,1448.4L516.4,1448.4L517.1,1448.4L517.8,1448.4L518.5,1448.4L519.2,1448.4L519.9,1448.4L520.6,1448.4L521.3,1448.39L522,1448.39L522.7,1448.38L523.4,1448.38L524.1,1448.37L524.8,1448.37L525.5,1448.36L526.2,1448.36L526.9,1448.35L527.6,1448.35L528.3,1448.34L529,1448.34L529.7,1448.33L530.4,1448.33L531.1,1448.32L531.8,1448.32L532.5,1448.31L533.2,1448.31L533.9,1448.3L534.6,1448.3L535.3,1448.29L536,1448.29L536.7,1448.28L537.4,1448.28L538.1,1448.27L538.8,1448.27L539.5,1448.26L540.2,1448.26L540.9,1448.25L541.6,1448.25L542.3,1448.24L543,1448.24L543.7,1448.23L544.4,1448.23L545.1,1448.22L545.8,1448.22L546.5,1448.21L547.2,1448.21L547.9,1448.2L548.6,1448.14L549.3,1448.07L550,1448L550.7,1447.93L551.4,1447.86L552.1,1447.98L552.8,1448.01L553.5,1447.94L554.2,1447.56L554.9,1447.77L555.6,1447.52L556.3,1447.13L557,1446.98L557.7,1447.15L558.4,1446.61L559.1,1446.7L559.8,1446.24L560.5,1446.95L561.2,1446.87L561.9,1446.7L562.6,1446.36L563.3,1446.8L564,1447.03L564.7,1447.33L565.4,1447.36L566.1,1447.48L566.8,1446.77L567.5,1446.9L568.2,1446.92L568.9,1447.29L569.6,1447.16L570.3,1447.55L571,1447.42L571.7,1447.66L572.4,1447.36L573.1,1447.47L573.8,1447.57L574.5,1446.7L575.2,1447.48L575.9,1446.68L576.6,1446.88L577.3,1447.57L578,1447.28L578.7,1446.91L579.4,1447.04L580.1,1447.5L580.8,1447.43L581.5,1447.58L582.2,1447.8L582.9,1447.8L583.6,1447.8L584.3,1447.8L585,1447.8L585.7,1447.8L586.4,1447.8L587.1,1447.8L587.8,1447.8L588.5,1447.8L589.2,1447.8L589.9,1447.8L590.6,1447.9L591.3,1447.65L592,1447.55L592.7,1447.65L593.4,1447.24L594.1,1447.5L594.8,1447.17L595.5,1447.73L596.2,1447.32L596.9,1447.65L597.6,1447.13L598.3,1447.01L599,1447.39L599.7,1447.45L600.4,1447.49L601.1,1447.87L601.8,1447.83L602.5,1447.83L603.2,1447.91L603.9,1447.99L604.6,1448.02L605.3,1448.04L606,1448.06L606.7,1448.08L607.4,1448.1L608.1,1448.12L608.8,1448.14L609.5,1448.16L610.2,1448.18L610.9,1448.2L611.6,1448.19L612.3,1448.18L613,1448.17L613.7,1448.16L614.4,1448.15L615.1,1448.14L615.8,1448.13L616.5,1448.12L617.2,1448.11L617.9,1448.1L618.6,1448.09L619.3,1448.08L620,1448.07L620.7,1448.06L621.4,1448.05L622.1,1448.04L622.8,1448.03L623.5,1448.02L624.2,1448.01L624.9,1448L625.6,1448L626.3,1447.99L627,1447.99L627.7,1447.98L628.4,1447.98L629.1,1447.97L629.8,1447.97L630.5,1447.96L631.2,1447.96L631.9,1447.95L632.6,1447.95L633.3,1447.94L634,1447.94L634.7,1447.94L635.4,1447.93L636.1,1447.93L636.8,1447.92L637.5,1447.92L638.2,1447.91L638.9,1447.91L639.6,1447.9L640.3,1447.91L641,1447.94L641.7,1447.96L642.4,1447.99L643.1,1448.01L643.8,1448.04L644.5,1448.06L645.2,1448.09L645.9,1448.11L646.6,1448.14L647.3,1448.16L648,1448.19L648.7,1448.21L649.4,1448.24L650.1,1448.26L650.8,1448.29L651.5,1448.31L652.2,1448.34L652.9,1448.36L653.6,1448.39L654.3,1448.4L655,1448.41L655.7,1448.41L656.4,1448.41L657.1,1448.42L657.8,1448.42L658.5,1448.43L659.2,1448.43L659.9,1448.43L660.6,1448.44L661.3,1448.44L662,1448.45L662.7,1448.45L663.4,1448.45L664.1,1448.46L664.8,1448.46L665.5,1448.47L666.2,1448.47L666.9,1448.47L667.6,1448.48L668.3,1448.48L669,1448.49L669.7,1448.49L670.4,1448.49L671.1,1448.5L671.8,1448.5L672.5,1448.51L673.2,1448.51L673.9,1448.51L674.6,1448.52L675.3,1448.52L676,1448.53L676.7,1448.53L677.4,1448.53L678.1,1448.54L678.8,1448.54L679.5,1448.55L680.2,1448.55L680.9,1448.55L681.6,1448.56L682.3,1448.56L683,1448.57L683.7,1448.57L684.4,1448.57L685.1,1448.58L685.8,1448.58L686.5,1448.59L687.2,1448.59L687.9,1448.59L688.6,1448.6L689.3,1448.54L690,1448.4L690.7,1448.26L691.4,1448.12L692.1,1447.99L692.8,1447.92L693.5,1447.85L694.2,1447.72L694.9,1447.6L695.6,1447.85L696.3,1447.83L697,1447.9L697.7,1447.97L698.4,1448.04L699.1,1448.11L699.8,1448.18L700.5,1448.24L701.2,1448.3L701.9,1448.35L702.6,1448.41L703.3,1448.46L704,1448.52L704.7,1448.58L705.4,1448.6L706.1,1448.6L706.8,1448.6L707.5,1448.6L708.2,1448.6L708.9,1448.6L709.6,1448.6L710.3,1448.6L711,1448.6L711.7,1448.6L712.4,1448.6L713.1,1448.6L713.8,1448.6L714.5,1448.6L715.2,1448.6L715.9,1448.6L716.6,1448.6L717.3,1448.6L718,1448.6L718.7,1448.6L719.4,1448.6L720.1,1448.6L720.8,1448.6L721.5,1448.6L722.2,1448.6L722.9,1448.6L723.6,1448.6L724.3,1448.52L725,1448.33L725.7,1448.15L726.4,1447.96L727.1,1447.8L727.8,1447.8L728.5,1447.52L729.2,1447.3L729.9,1447.49L730.6,1447.05L731.3,1446.76L732,1446.96L732.7,1446.63L733.4,1447.41L734.1,1446.95L734.8,1447.72L735.5,1447.67L736.2,1447.43L736.9,1448.12L737.6,1447.94L738.3,1448.1L739,1448.27L739.7,1448.43L740.4,1448.5L741.1,1448.5L741.8,1448.5L742.5,1448.49L743.2,1448.49L743.9,1448.49L744.6,1448.49L745.3,1448.49L746,1448.49L746.7,1448.48L747.4,1448.48L748.1,1448.48L748.8,1448.48L749.5,1448.48L750.2,1448.47L750.9,1448.47L751.6,1448.47L752.3,1448.47L753,1448.47L753.7,1448.47L754.4,1448.46L755.1,1448.46L755.8,1448.46L756.5,1448.46L757.2,1448.46L757.9,1448.46L758.6,1448.45L759.3,1448.45L760,1448.45L760.7,1448.45L761.4,1448.45L762.1,1448.44L762.8,1448.44L763.5,1448.44L764.2,1448.44L764.9,1448.44L765.6,1448.44L766.3,1448.43L767,1448.43L767.7,1448.43L768.4,1448.43L769.1,1448.43L769.8,1448.43L770.5,1448.42L771.2,1448.42L771.9,1448.42L772.6,1448.42L773.3,1448.42L774,1448.41L774.7,1448.41L775.4,1448.41L776.1,1448.41L776.8,1448.41L777.5,1448.41L778.2,1448.4L778.9,1448.4L779.6,1448.4L780.3,1448.4L781,1448.4L781.7,1448.4L782.4,1448.4L783.1,1448.4L783.8,1448.4L784.5,1448.4L785.2,1448.4L785.9,1448.4L786.6,1448.4L787.3,1448.4L788,1448.4L788.7,1448.4L789.4,1448.4L790.1,1448.4L790.8,1448.4L791.5,1448.4L792.2,1448.4L792.9,1448.4L793.6,1448.4L794.3,1448.4L795,1448.4L795.7,1448.4L796.4,1448.4L797.1,1448.4L797.8,1448.4L798.5,1448.4L799.2,1448.4L799.9,1448.4L800.6,1448.4L801.3,1448.4L802,1448.4L802.7,1448.4L803.4,1448.4L804.1,1448.4L804.8,1448.4L805.5,1448.4L806.2,1448.4L806.9,1448.4L807.6,1448.4L808.3,1448.4L809,1448.4L809.7,1448.4L810.4,1448.4L811.1,1448.4L811.8,1448.4L812.5,1448.4L813.2,1448.4L813.9,1448.4L814.6,1448.41L815.3,1448.42L816,1448.43L816.7,1448.43L817.4,1448.44L818.1,1448.45L818.8,1448.46L819.5,1448.47L820.2,1448.48L820.9,1448.49L821.6,1448.5L822.3,1448.5L823,1448.51L823.7,1448.52L824.4,1448.53L825.1,1448.54L825.8,1448.55L826.5,1448.56L827.2,1448.57L827.9,1448.57L828.6,1448.58L829.3,1448.59L830,1448.6L830.7,1448.59L831.4,1448.59L832.1,1448.58L832.8,1448.57L833.5,1448.56L834.2,1448.56L834.9,1448.55L835.6,1448.54L836.3,1448.54L837,1448.53L837.7,1448.52L838.4,1448.52L839.1,1448.51L839.8,1448.5L840.5,1448.49L841.2,1448.49L841.9,1448.48L842.6,1448.47L843.3,1448.47L844,1448.46L844.7,1448.45L845.4,1448.45L846.1,1448.44L846.8,1448.43L847.5,1448.42L848.2,1448.42L848.9,1448.41L849.6,1448.4L850.3,1448.37L851,1448.31L851.7,1448.25L852.4,1448.19L853.1,1448.13L853.8,1448.07L854.5,1448.01L855.2,1447.95L855.9,1447.89L856.6,1447.83L857.3,1447.8L858,1447.8L858.7,1447.8L859.4,1447.8L860.1,1447.8L860.8,1447.8L861.5,1447.8L862.2,1447.82L862.9,1447.88L863.6,1447.94L864.3,1448L865,1448.05L865.7,1448.11L866.4,1448.17L867.1,1448.22L867.8,1448.28L868.5,1448.34L869.2,1448.4L869.9,1448.45L870.6,1448.51L871.3,1448.57L872,1448.62L872.7,1448.68L873.4,1448.74L874.1,1448.8L874.8,1448.85L875.5,1448.91L876.2,1448.97L876.9,1449.02L877.6,1449.08L878.3,1449.14L879,1449.2L879.7,1449.25L880.4,1449.31L880.4,1449.4ZM881.8,1449.4L881.8,1448.6L882.5,1448.6L883.2,1448.6L883.9,1448.6L884.6,1448.6L885.3,1448.6L886,1448.6L886.7,1448.6L887.4,1448.6L888.1,1448.6L888.8,1448.6L889.5,1448.6L890.2,1448.6L890.9,1448.6L891.6,1448.6L892.3,1448.6L893,1448.6L893.7,1448.6L894.4,1448.6L895.1,1448.6L895.8,1448.6L896.5,1448.6L897.2,1448.6L897.9,1448.6L898.6,1448.6L899.3,1448.6L900,1448.6L900.7,1448.74L901.4,1448.88L902.1,1449L902.8,1449L903.5,1449L904.2,1449L904.9,1449L905.6,1449L906.3,1449L907,1449L907.7,1449L908.4,1449L909.1,1449L909.8,1449L910.5,1449L911.2,1449L911.9,1449L912.6,1449L913.3,1449L914,1449L914.7,1449L915.4,1449L916.1,1449L916.8,1449L917.5,1449L918.2,1449L918.9,1449L919.6,1449L920.3,1449L921,1449L921.7,1449L922.4,1449L923.1,1449L923.8,1449L924.5,1449L925.2,1449L925.9,1449L926.6,1449L927.3,1449L928,1449L928.7,1449L929.4,1449L930.1,1449L930.8,1449L931.5,1449L932.2,1449L932.9,1449L933.6,1449L934.3,1449L935,1449L935.7,1449L936.4,1449L937.1,1449L937.8,1449L938.5,1449L939.2,1449L939.9,1449L940.6,1449L941.3,1449L942,1449L942.7,1449L943.4,1449L944.1,1449L944.8,1449L945.5,1449L946.2,1449L946.9,1449L947.6,1449L948.3,1449L949,1449L949.7,1449L950.4,1448.96L951.1,1448.89L951.8,1448.82L952.5,1448.8L953.2,1448.8L953.9,1448.8L954.6,1448.8L955.3,1448.8L956,1448.8L956.7,1448.8L957.4,1448.8L958.1,1448.8L958.8,1448.8L959.5,1448.8L960.2,1448.8L960.9,1448.8L961.6,1448.8L962.3,1448.8L963,1448.8L963.7,1448.8L964.4,1448.8L965.1,1448.8L965.8,1448.8L966.5,1448.85L967.2,1448.92L967.9,1448.99L968.6,1449L969.3,1449L970,1449L970.7,1449L971.4,1449L972.1,1449L972.8,1449L973.5,1449L974.2,1449L974.9,1449L975.6,1449L976.3,1449L977,1449L977.7,1449L978.4,1448.96L979.1,1448.89L979.8,1448.82L980.5,1448.8L981.2,1448.8L981.9,1448.8L982.6,1448.8L983.3,1448.8L984,1448.8L984.7,1448.8L985.4,1448.8L986.1,1448.8L986.8,1448.8L987.5,1448.8L988.2,1448.8L988.9,1448.8L989.6,1448.8L990.3,1448.83L991,1448.9L991.7,1448.97L992.4,1449L993.1,1449L993.8,1449L994.5,1449L995.2,1449L995.9,1449L996.6,1449L997.3,1449L998,1449L998.7,1449L999.4,1449L1000.1,1449L1000.8,1449L1001.5,1449L1002.2,1449L1002.9,1449L1003.6,1449L1004.3,1449L1005,1449L1005.7,1449L1006.4,1449L1007.1,1448.97L1007.8,1448.76L1008.5,1448.55L1009.2,1448.4L1009.9,1448.39L1010.6,1448.38L1011.3,1448.38L1012,1448.37L1012.7,1448.36L1013.4,1448.36L1014.1,1448.35L1014.8,1448.34L1015.5,1448.34L1016.2,1448.33L1016.9,1448.32L1017.6,1448.32L1018.3,1448.31L1019,1448.3L1019.7,1448.3L1020.4,1448.29L1021.1,1448.28L1021.8,1448.28L1022.5,1448.27L1023.2,1448.26L1023.9,1448.26L1024.6,1448.25L1025.3,1448.24L1026,1448.24L1026.7,1448.23L1027.4,1448.22L1028.1,1448.22L1028.8,1448.21L1029.5,1448.2L1030.2,1448.2L1030.9,1448.21L1031.6,1448.21L1032.3,1448.21L1033,1448.22L1033.7,1448.22L1034.4,1448.23L1035.1,1448.23L1035.8,1448.23L1036.5,1448.24L1037.2,1448.24L1037.9,1448.25L1038.6,1448.25L1039.3,1448.25L1040,1448.26L1040.7,1448.26L1041.4,1448.27L1042.1,1448.27L1042.8,1448.28L1043.5,1448.28L1044.2,1448.28L1044.9,1448.29L1045.6,1448.29L1046.3,1448.3L1047,1448.3L1047.7,1448.3L1048.4,1448.31L1049.1,1448.31L1049.8,1448.32L1050.5,1448.32L1051.2,1448.32L1051.9,1448.33L1052.6,1448.33L1053.3,1448.34L1054,1448.34L1054.7,1448.35L1055.4,1448.35L1056.1,1448.35L1056.8,1448.36L1057.5,1448.36L1058.2,1448.37L1058.9,1448.37L1059.6,1448.37L1060.3,1448.38L1061,1448.38L1061.7,1448.39L1062.4,1448.39L1063.1,1448.39L1063.8,1448.4L1064.5,1448.55L1065.2,1448.76L1065.9,1448.97L1066.6,1449L1067.3,1449L1068,1449L1068.7,1449L1069.4,1449L1070.1,1449L1070.8,1449L1071.5,1449L1072.2,1448.96L1072.9,1448.82L1073.6,1448.68L1074.3,1448.6L1075,1448.6L1075.7,1448.6L1076.4,1448.6L1077.1,1448.6L1077.8,1448.6L1078.5,1448.6L1079.2,1448.6L1079.9,1448.6L1080.6,1448.6L1081.3,1448.6L1082,1448.6L1082.7,1448.6L1083.4,1448.6L1084.1,1448.6L1084.8,1448.6L1085.5,1448.6L1086.2,1448.6L1086.9,1448.6L1087.6,1448.6L1088.3,1448.6L1089,1448.6L1089.7,1448.6L1090.4,1448.6L1091.1,1448.6L1091.8,1448.6L1092.5,1448.6L1093.2,1448.6L1093.9,1448.6L1094.6,1448.6L1095.3,1448.66L1096,1448.8L1096.7,1448.94L1097.4,1448.92L1098.1,1448.78L1098.8,1448.64L1099.5,1448.6L1100.2,1448.6L1100.9,1448.6L1101.6,1448.6L1102.3,1448.6L1103,1448.6L1103.7,1448.6L1104.4,1448.6L1105.1,1448.6L1105.8,1448.6L1106.5,1448.6L1107.2,1448.6L1107.9,1448.6L1108.6,1448.6L1109.3,1448.6L1110,1448.6L1110.7,1448.6L1111.4,1448.6L1112.1,1448.6L1112.8,1448.6L1113.5,1448.6L1114.2,1448.6L1114.9,1448.6L1115.6,1448.6L1116.3,1448.6L1117,1448.6L1117.7,1448.6L1118.4,1448.6L1119.1,1448.6L1119.8,1448.6L1120.5,1448.6L1121.2,1448.6L1121.9,1448.6L1122.6,1448.72L1123.3,1448.86L1124,1449L1124.7,1449L1125.4,1449L1126.1,1449L1126.8,1449L1127.5,1449L1128.2,1449L1128.9,1449L1129.6,1449L1130.3,1449L1131,1449L1131.7,1449L1132.4,1449L1133.1,1449L1133.8,1449L1134.5,1449L1135.2,1449L1135.9,1449L1136.6,1449L1137.3,1449L1138,1449L1138.7,1448.79L1139.4,1448.58L1140.1,1448.39L1140.8,1448.3L1141.5,1448.22L1142.2,1448.14L1142.9,1448.05L1143.6,1447.97L1144.3,1447.88L1145,1447.8L1145.7,1447.88L1146.4,1447.97L1147.1,1448.05L1147.8,1448.14L1148.5,1448.22L1149.2,1448.3L1149.9,1448.39L1150.6,1448.58L1151.3,1448.79L1152,1449L1152.7,1449L1153.4,1449L1154.1,1449L1154.8,1449L1155.5,1449L1156.2,1449L1156.9,1449L1157.6,1449L1158.3,1449L1159,1449L1159.7,1449L1160.4,1449L1161.1,1449L1161.8,1449L1162.5,1449L1163.2,1449L1163.9,1449L1164.6,1449L1165.3,1449L1166,1449L1166.7,1449L1167.4,1449L1168.1,1449L1168.8,1449L1169.5,1449L1170.2,1449L1170.9,1449L1171.6,1449L1172.3,1449L1173,1449L1173.7,1449L1174.4,1449L1175.1,1449L1175.8,1449L1176.5,1449L1177.2,1449L1177.9,1449L1178.6,1449L1179.3,1449L1180,1449L1180.7,1449L1181.4,1449L1182.1,1449L1182.8,1449L1183.5,1449L1184.2,1449L1184.9,1449L1185.6,1449L1186.3,1449L1187,1449L1187.7,1449L1188.4,1449L1189.1,1449L1189.8,1449L1190.5,1449L1191.2,1449L1191.9,1449L1192.6,1449L1193.3,1449L1194,1449L1194.7,1449L1195.4,1449L1196.1,1449L1196.8,1449L1197.5,1449L1198.2,1449L1198.9,1449L1199.6,1449L1200.3,1449L1201,1449L1201.7,1449L1202.4,1449L1203.1,1449L1203.8,1449L1204.5,1449L1205.2,1449L1205.9,1449L1206.6,1448.88L1207.3,1448.74L1208,1448.6L1208.7,1448.6L1209.4,1448.6L1210.1,1448.6L1210.8,1448.6L1211.5,1448.6L1212.2,1448.6L1212.9,1448.6L1213.6,1448.6L1214.3,1448.6L1215,1448.6L1215.7,1448.6L1216.4,1448.6L1217.1,1448.6L1217.8,1448.6L1218.5,1448.6L1219.2,1448.6L1219.9,1448.6L1220.6,1448.72L1221.3,1448.86L1222,1449L1222.7,1449L1223.4,1449L1224.1,1449L1224.8,1449L1225.5,1449L1226.2,1449L1226.9,1449L1227.6,1449L1228.3,1449L1229,1449L1229.7,1448.82L1230.4,1448.65L1231.1,1448.5L1231.8,1448.48L1232.5,1448.47L1233.2,1448.45L1233.9,1448.44L1234.6,1448.42L1235.3,1448.41L1236,1448.39L1236.7,1448.38L1237.4,1448.36L1238.1,1448.35L1238.8,1448.33L1239.5,1448.32L1240.2,1448.3L1240.9,1448.29L1241.6,1448.27L1242.3,1448.26L1243,1448.24L1243.7,1448.23L1244.4,1448.21L1245.1,1448.2L1245.8,1448.21L1246.5,1448.22L1247.2,1448.23L1247.9,1448.24L1248.6,1448.25L1249.3,1448.26L1250,1448.27L1250.7,1448.27L1251.4,1448.28L1252.1,1448.29L1252.8,1448.3L1253.5,1448.31L1254.2,1448.32L1254.9,1448.33L1255.6,1448.34L1256.3,1448.35L1257,1448.36L1257.7,1448.37L1258.4,1448.37L1259.1,1448.38L1259.8,1448.39L1260.5,1448.4L1261.2,1448.41L1261.9,1448.42L1262.6,1448.43L1263.3,1448.44L1264,1448.45L1264.7,1448.46L1265.4,1448.47L1266.1,1448.48L1266.8,1448.48L1267.5,1448.49L1268.2,1448.55L1268.9,1448.73L1269.6,1448.9L1270.3,1449L1271,1449L1271.7,1449L1272.4,1449L1273.1,1449L1273.8,1449L1274.5,1449L1275.2,1449L1275.9,1449L1276.6,1449L1277.3,1449L1278,1449L1278.7,1449L1279.4,1449L1280.1,1449L1280.8,1449L1281.5,1449L1282.2,1449L1282.9,1449L1283.6,1449L1284.3,1449L1285,1449L1285.7,1449L1286.4,1449L1287.1,1449L1287.8,1449L1288.5,1449L1289.2,1449L1289.9,1449L1290.6,1449L1291.3,1449L1292,1449L1292.7,1449L1293.4,1449L1294.1,1449L1294.8,1449L1295.5,1449L1296.2,1449L1296.9,1449L1297.6,1449L1298.3,1449L1299,1449L1299.7,1449L1300.4,1449L1301.1,1449L1301.8,1449L1302.5,1449L1303.2,1449L1303.9,1449L1304.6,1449L1305.3,1449L1306,1449L1306.7,1449L1307.4,1449L1308.1,1449L1308.8,1449L1309.5,1449L1310.2,1449L1310.9,1449L1311.6,1449L1312.3,1449L1313,1449L1313.7,1449L1314.4,1449L1315.1,1449L1315.8,1449L1316.5,1449L1317.2,1449L1317.9,1449L1318.6,1449L1319.3,1449L1320,1449L1320.7,1449L1321.4,1449L1322.1,1449L1322.8,1449L1323.5,1449L1324.2,1449L1324.9,1449L1325.6,1449L1326.3,1449L1327,1449L1327.7,1449L1328.4,1449L1329.1,1449L1329.8,1449L1330.5,1449L1331.2,1449L1331.9,1449L1332.6,1449L1333.3,1449L1334,1449L1334.7,1449L1335.4,1449L1336.1,1449L1336.8,1449L1337.5,1449L1338.2,1449L1338.9,1449L1339.6,1449L1340.3,1449L1341,1449L1341.7,1449L1342.4,1449L1343.1,1449L1343.8,1449L1344.5,1449L1345.2,1449L1345.9,1449L1346.6,1449L1347.3,1449L1348,1449L1348.7,1449L1349.4,1449L1350.1,1449L1350.8,1449L1351.5,1449L1352.2,1449L1352.9,1449L1353.6,1449L1354.3,1449L1355,1449L1355.7,1449L1356.4,1449L1357.1,1449L1357.8,1449L1358.5,1449L1359.2,1449L1359.9,1449L1360.6,1449L1361.3,1449L1362,1449L1362.7,1449L1363.4,1449L1364.1,1449L1364.8,1449L1365.5,1449L1366.2,1449L1366.9,1449L1367.6,1449L1368.3,1449L1369,1449L1369.7,1449L1370.4,1449L1371.1,1449L1371.8,1449L1372.5,1449L1373.2,1449L1373.9,1449L1374.6,1449L1375.3,1449L1376,1449L1376.7,1449L1377.4,1449L1378.1,1449L1378.8,1449L1379.5,1449L1380.2,1449L1380.9,1449L1381.6,1449L1382.3,1449L1383,1449L1383.7,1449L1384.4,1449L1385.1,1449L1385.8,1449L1386.5,1449L1387.2,1449L1387.9,1449L1388.6,1449L1389.3,1449L1390,1449L1390.7,1449L1391.4,1449L1392.1,1449L1392.8,1449L1393.5,1449L1394.2,1449L1394.9,1449L1395.6,1449L1396.3,1449L1397,1449L1397.7,1449L1398.4,1449L1399.1,1449L1399.8,1449L1400.5,1449L1401.2,1449L1401.9,1449L1402.6,1449L1403.3,1449L1404,1449L1404.7,1449L1405.4,1448.9L1406.1,1448.72L1406.8,1448.55L1407.5,1448.5L1408.2,1448.5L1408.9,1448.5L1409.6,1448.5L1410.3,1448.5L1411,1448.5L1411.7,1448.5L1412.4,1448.5L1413.1,1448.5L1413.8,1448.5L1414.5,1448.5L1415.2,1448.5L1415.9,1448.5L1416.6,1448.5L1417.3,1448.5L1418,1448.5L1418.7,1448.5L1419.4,1448.6L1420.1,1448.78L1420.8,1448.95L1421.5,1449L1422.2,1449L1422.9,1449L1423.6,1449L1424.3,1449L1425,1449L1425.7,1449L1426.4,1449L1427.1,1449L1427.8,1449L1428.5,1449L1429.2,1449L1429.9,1449L1430.6,1449L1431.3,1449L1432,1449L1432.7,1449L1433.4,1449L1434.1,1449L1434.8,1449L1435.5,1449L1436.2,1449L1436.9,1449L1437.6,1449L1438.3,1449L1439,1449L1439.7,1449L1440.4,1449L1441.1,1449L1441.8,1449L1442.5,1449L1443.2,1449L1443.9,1449L1444.6,1448.94L1445.3,1448.87L1446,1448.8L1446.7,1448.8L1447.4,1448.8L1448.1,1448.8L1448.8,1448.8L1449.5,1448.8L1450.2,1448.8L1450.9,1448.8L1451.6,1448.8L1452.3,1448.8L1453,1448.8L1453.7,1448.8L1454.4,1448.8L1455.1,1448.8L1455.8,1448.8L1456.5,1448.8L1457.2,1448.8L1457.9,1448.8L1458.6,1448.86L1459.3,1448.93L1460,1449L1460.7,1449L1461.4,1449L1462.1,1449L1462.8,1449L1463.5,1449L1464.2,1449L1464.9,1449L1465.6,1449L1466.3,1449L1467,1449L1467.7,1449L1468.4,1449L1469.1,1449L1469.8,1449L1470.5,1449L1471.2,1449L1471.9,1449L1472.6,1449L1473.3,1448.97L1474,1448.9L1474.7,1448.83L1475.4,1448.8L1476.1,1448.8L1476.8,1448.8L1477.5,1448.8L1478.2,1448.8L1478.9,1448.8L1479.6,1448.8L1480.3,1448.8L1481,1448.8L1481.7,1448.8L1482.4,1448.8L1483.1,1448.8L1483.8,1448.8L1484.5,1448.8L1485.2,1448.8L1485.9,1448.8L1486.6,1448.8L1487.3,1448.8L1488,1448.8L1488.7,1448.8L1489.4,1448.8L1490.1,1448.8L1490.8,1448.8L1491.5,1448.8L1492.2,1448.8L1492.9,1448.8L1493.6,1448.8L1494.3,1448.8L1495,1448.8L1495.7,1448.8L1496.4,1448.8L1497.1,1448.8L1497.8,1448.8L1498.5,1448.8L1499.2,1448.8L1499.9,1448.8L1500.6,1448.8L1501.3,1448.83L1502,1448.9L1502.7,1448.97L1503.4,1448.96L1504.1,1448.89L1504.8,1448.82L1505.5,1448.8L1506.2,1448.8L1506.9,1448.8L1507.6,1448.8L1508.3,1448.8L1509,1448.8L1509.7,1448.8L1510.4,1448.8L1511.1,1448.8L1511.8,1448.8L1512.5,1448.8L1513.2,1448.8L1513.9,1448.8L1514.6,1448.8L1515.3,1448.8L1516,1448.8L1516.7,1448.8L1517.4,1448.8L1518.1,1448.81L1518.8,1448.88L1519.5,1448.95L1520.2,1449L1520.9,1449L1521.6,1449L1522.3,1449L1523,1449L1523.7,1449L1524.4,1449L1525.1,1449L1525.8,1449L1526.5,1449L1527.2,1449L1527.9,1449L1528.6,1449L1529.3,1449L1530,1449L1530.7,1448.82L1531.4,1448.65L1532.1,1448.5L1532.8,1448.47L1533.5,1448.45L1534.2,1448.43L1534.9,1448.4L1535.6,1448.38L1536.3,1448.36L1537,1448.33L1537.7,1448.31L1538.4,1448.29L1539.1,1448.26L1539.8,1448.24L1540.5,1448.22L1541.2,1448.21L1541.9,1448.23L1542.6,1448.26L1543.3,1448.28L1544,1448.31L1544.7,1448.33L1545.4,1448.36L1546.1,1448.39L1546.8,1448.41L1547.5,1448.44L1548.2,1448.46L1548.9,1448.49L1549.6,1448.51L1550.3,1448.54L1551,1448.56L1551.7,1448.59L1552.4,1448.61L1553.1,1448.62L1553.8,1448.64L1554.5,1448.65L1555.2,1448.66L1555.9,1448.68L1556.6,1448.69L1557.3,1448.71L1558,1448.72L1558.7,1448.73L1559.4,1448.75L1560.1,1448.76L1560.8,1448.78L1561.5,1448.79L1562.2,1448.8L1562.9,1448.82L1563.6,1448.83L1564.3,1448.85L1565,1448.86L1565.7,1448.87L1566.4,1448.89L1567.1,1448.91L1567.8,1448.94L1568.5,1448.98L1569.2,1449L1569.9,1449L1570.6,1449L1571.3,1449L1572,1449L1572.7,1449L1573.4,1449L1574.1,1449L1574.8,1449L1575.5,1449L1576.2,1449L1576.9,1449L1577.6,1449L1578.3,1449L1579,1449L1579.7,1449L1580.4,1449L1581.1,1449L1581.8,1449L1582.5,1449L1583.2,1449L1583.9,1449L1584.6,1449L1585.3,1449L1586,1449L1586.7,1449L1587.4,1449L1588.1,1449L1588.8,1449L1589.5,1449L1590.2,1449L1590.9,1449L1591.6,1449L1592.3,1449L1593,1449L1593.7,1449L1594.4,1449L1595.1,1449L1595.8,1449L1596.5,1449L1597.2,1449L1597.9,1449L1598.6,1449L1599.3,1449L1600,1449L1600.7,1449L1601.4,1449L1602.1,1449L1602.8,1449L1603.5,1449L1604.2,1449L1604.9,1449L1605.6,1449L1606.3,1448.92L1607,1448.75L1607.7,1448.57L1608.4,1448.5L1609.1,1448.5L1609.8,1448.5L1610.5,1448.5L1611.2,1448.5L1611.9,1448.5L1612.6,1448.5L1613.3,1448.5L1614,1448.5L1614.7,1448.5L1615.4,1448.5L1616.1,1448.5L1616.8,1448.5L1617.5,1448.5L1618.2,1448.5L1618.9,1448.5L1619.6,1448.5L1620.3,1448.58L1621,1448.75L1621.7,1448.93L1622.4,1449L1623.1,1449L1623.8,1449L1624.5,1449L1625.2,1449L1625.9,1449L1626.6,1449L1627.3,1449L1628,1449L1628.7,1449L1629.4,1449L1630.1,1449L1630.8,1449L1631.5,1449L1632.2,1449L1632.9,1449L1633.6,1449L1634.3,1449L1635,1449L1635.7,1449L1636.4,1449L1637.1,1449L1637.8,1449L1638.5,1449L1639.2,1449L1639.9,1449L1640.6,1449L1641.3,1449L1642,1449L1642.7,1449L1643.4,1449L1644.1,1449L1644.8,1449L1645.5,1449L1646.2,1449L1646.9,1449L1647.6,1449L1648.3,1449L1649,1449L1649.7,1449L1650.4,1449L1651.1,1449L1651.8,1449L1652.5,1449L1653.2,1449L1653.9,1449L1654.6,1449L1655.3,1449L1656,1449L1656.7,1449L1657.4,1449L1658.1,1449L1658.8,1449L1659.5,1449L1660.2,1449L1660.9,1449L1661.6,1449L1662.3,1449L1663,1449L1663.7,1449L1664.4,1449L1665.1,1449L1665.8,1449L1666.5,1449L1667.2,1449L1667.9,1449L1668.6,1449L1669.3,1449L1670,1449L1670.7,1449L1671.4,1449L1672.1,1449L1672.8,1449L1673.5,1449L1674.2,1449L1674.9,1449L1675.6,1448.85L1676.3,1448.67L1677,1448.5L1677.7,1448.5L1678.4,1448.5L1679.1,1448.5L1679.8,1448.5L1680.5,1448.5L1681.2,1448.5L1681.9,1448.5L1682.6,1448.5L1683.3,1448.5L1684,1448.5L1684.7,1448.5L1685.4,1448.5L1686.1,1448.5L1686.8,1448.5L1687.5,1448.5L1688.2,1448.55L1688.9,1448.73L1689.6,1448.9L1690.3,1449L1691,1449L1691.7,1449L1692.4,1449L1693.1,1449L1693.8,1449L1694.5,1449L1695.2,1449L1695.9,1449L1696.6,1449L1697.3,1449L1698,1449L1698.7,1449L1699.4,1449L1700.1,1449L1700.8,1449L1701.5,1449L1702.2,1449L1702.9,1449L1703.6,1449L1704.3,1449L1705,1449L1705.7,1449L1706.4,1449L1707.1,1449L1707.8,1449L1708.5,1449L1709.2,1449L1709.9,1449L1710.6,1449L1711.3,1449L1712,1449L1712.7,1449L1713.4,1449L1714.1,1449L1714.8,1449L1715.5,1449L1716.2,1449L1716.9,1449L1717.6,1449L1718.3,1449L1719,1449L1719.7,1449L1720.4,1449L1721.1,1449L1721.8,1449L1722.5,1449L1723.2,1449L1723.9,1449L1724.6,1449L1725.3,1449L1726,1449L1726.7,1449L1727.4,1449L1728.1,1449L1728.8,1449L1729.5,1449L1730.2,1449L1730.9,1449L1731.6,1449L1732.3,1449L1733,1449L1733.7,1449L1734.4,1449L1735.1,1449L1735.8,1449L1736.5,1449L1737.2,1449L1737.9,1449L1738.6,1449L1739.3,1449L1740,1449L1740.7,1449L1741.4,1449L1742.1,1449L1742.8,1449L1743.5,1449L1744.2,1449L1744.9,1449L1745.6,1449L1746.3,1449L1747,1449L1747.7,1449L1748.4,1449L1749.1,1449L1749.8,1449L1750.5,1449L1751.2,1449L1751.9,1449L1752.6,1449L1753.3,1449L1754,1449L1754.7,1449L1755.4,1449L1756.1,1449L1756.8,1449L1757.5,1449L1758.2,1449L1758.9,1449L1759.6,1449L1760.3,1449L1761,1449L1761.7,1449L1762.4,1449L1763.1,1449L1763.8,1449L1764.5,1449L1765.2,1449L1765.9,1449L1766.6,1449L1767.3,1449L1768,1449L1768.7,1449L1769.4,1449L1770.1,1449L1770.8,1449L1771.5,1449L1772.2,1449L1772.9,1449L1773.6,1449L1774.3,1449L1775,1449L1775.7,1449L1776.4,1449L1777.1,1449L1777.8,1449L1778.5,1449L1779.2,1449L1779.9,1449L1780.6,1449L1781.3,1449L1782,1449L1782.7,1449L1783.4,1449L1784.1,1449L1784.8,1449L1785.5,1449L1786.2,1449L1786.9,1449L1787.6,1449L1788.3,1449L1789,1449L1789.7,1449L1790.4,1449L1791.1,1449L1791.8,1449L1792.5,1449L1793.2,1449L1793.9,1449L1794.6,1449L1795.3,1449L1796,1449L1796.7,1449L1797.4,1449L1798.1,1449L1798.8,1449L1799.5,1449L1800.2,1449L1800.9,1449L1801.6,1449L1802.3,1449L1803,1449L1803.7,1449L1804.4,1449L1805.1,1449L1805.8,1449L1806.5,1449L1807.2,1449L1807.9,1449L1808.6,1449L1809.3,1449L1810,1449L1810.7,1449L1811.4,1449L1812.1,1449L1812.8,1449L1813.5,1449L1814.2,1449L1814.9,1449L1815.6,1449L1816.3,1449L1817,1449L1817.7,1449L1818.4,1449L1819.1,1449L1819.8,1449L1820.5,1449L1821.2,1449L1821.9,1449L1822.6,1449L1823.3,1449L1824,1449L1824.7,1449L1825.4,1449L1826.1,1449L1826.8,1449L1827.5,1449L1828.2,1449L1828.9,1449L1829.6,1449L1830.3,1449L1831,1449L1831.7,1449L1832.4,1449L1833.1,1449L1833.8,1449L1834.5,1449L1835.2,1449L1835.9,1449L1836.6,1449L1837.3,1449L1838,1449L1838.7,1449L1839.4,1449L1840.1,1449L1840.8,1449L1841.5,1449L1842.2,1449L1842.9,1449L1843.6,1449L1844.3,1449L1845,1449L1845.7,1449L1846.4,1449L1847.1,1449L1847.8,1449L1848.5,1449L1849.2,1449L1849.9,1449L1850.6,1449L1851.3,1449L1852,1449L1852.7,1449L1853.4,1449L1854.1,1449L1854.8,1449L1855.5,1449L1856.2,1449L1856.9,1449L1857.6,1449L1858.3,1449L1859,1449L1859.7,1449L1860.4,1449L1861.1,1449L1861.8,1449L1862.5,1449L1863.2,1449L1863.9,1449L1864.6,1449L1865.3,1449L1866,1449L1866.7,1449L1867.4,1449L1868.1,1449L1868.8,1449L1869.5,1449L1870.2,1449L1870.9,1449L1871.6,1449L1872.3,1449L1873,1449L1873.7,1449L1874.4,1449L1875.1,1449L1875.8,1449L1876.5,1449L1877.2,1449L1877.9,1449L1878.6,1449L1879.3,1449L1880,1449L1880.7,1449L1881.4,1449L1882.1,1449L1882.8,1449L1883.5,1449L1884.2,1449L1884.9,1449L1885.6,1449L1886.3,1449L1887,1449L1887.7,1449L1888.4,1449L1889.1,1449L1889.8,1449L1890.5,1449L1891.2,1449L1891.9,1449L1892.6,1449L1893.3,1449L1894,1449L1894.7,1449L1895.4,1449L1896.1,1449L1896.8,1449L1897.5,1449L1898.2,1449L1898.9,1449L1899.6,1449L1900.3,1449L1901,1449L1901.7,1449L1902.4,1449L1903.1,1449L1903.8,1449L1904.5,1449L1905.2,1449L1905.9,1449L1906.6,1449L1907.3,1449L1908,1449L1908.7,1449L1909.4,1449L1910.1,1449L1910.8,1449L1911.5,1449L1912.2,1449L1912.9,1449L1913.6,1449L1914.3,1449L1915,1449L1915.7,1449L1916.4,1449L1917.1,1449L1917.8,1449L1918.5,1449L1919.2,1449L1919.9,1449L1920.6,1449L1921.3,1449L1922,1449L1922.7,1449L1923.4,1449L1924.1,1449L1924.8,1449L1925.5,1449L1926.2,1449L1926.9,1449L1927.6,1449L1928.3,1449L1929,1449L1929.7,1449L1930.4,1449L1931.1,1449L1931.8,1449L1932.5,1449L1933.2,1449L1933.9,1449L1934.6,1449L1935.3,1449L1936,1449L1936.7,1449L1937.4,1449L1938.1,1449L1938.8,1449L1939.5,1449L1940.2,1449L1940.9,1449L1941.6,1449L1942.3,1449L1942.3,1449.4ZM1961.7,1449.4L1961.7,1447.38L1962.4,1446.45L1963.1,1446.62L1963.8,1446.98L1964.5,1446.18L1965.2,1446.31L1965.9,1445.89L1966.6,1446.08L1967.3,1445.81L1968,1445.63L1968.7,1446.23L1969.4,1446.64L1970.1,1445.5L1970.8,1446.67L1971.5,1446.08L1972.2,1445.51L1972.9,1446.45L1973.6,1446.61L1974.3,1446.48L1975,1446.76L1975.7,1446.07L1976.4,1446.7L1977.1,1447.09L1977.8,1446.78L1978.5,1447.45L1979.2,1447.8L1979.9,1447.87L1980.6,1448.18L1981.3,1448.25L1982,1448.32L1982.7,1448.39L1983.4,1448.46L1984.1,1448.53L1984.8,1448.6L1985.5,1448.67L1986.2,1448.77L1986.9,1448.86L1987.6,1448.95L1988.3,1449.05L1989,1449.14L1989.7,1449.15L1990.4,1449.13L1991.1,1449.12L1991.8,1449.11L1992.5,1449.09L1993.2,1449.08L1993.9,1449.07L1994.6,1449.06L1995.3,1449.04L1996,1449.03L1996.7,1449.02L1997.4,1449.01L1998.1,1448.99L1998.8,1448.98L1999.5,1448.97L2000.2,1448.95L2000.9,1448.94L2001.6,1448.93L2002.3,1448.92L2003,1448.73L2003.7,1448.45L2004.4,1448.17L2005.1,1447.89L2005.8,1447.99L2006.5,1447.12L2007.2,1447.44L2007.9,1447.16L2008.6,1447.19L2009.3,1446.72L2010,1447.47L2010.7,1446.79L2011.4,1446.48L2012.1,1447.02L2012.8,1446.77L2013.5,1446.81L2014.2,1446.75L2014.9,1445.91L2015.6,1446.86L2016.3,1446.25L2017,1447.15L2017.7,1446.27L2018.4,1447.16L2019.1,1446.34L2019.8,1447.23L2020.5,1447.09L2021.2,1447.06L2021.9,1447.08L2022.6,1446.55L2023.3,1446.89L2024,1447.43L2024.7,1447.35L2025.4,1447.33L2026.1,1447.31L2026.8,1447.62L2027.5,1447.95L2028.2,1448.18L2028.9,1448.13L2029.6,1448.08L2030.3,1448.04L2031,1447.99L2031.7,1447.94L2032.4,1447.9L2033.1,1447.85L2033.8,1447.8L2034.5,1447.77L2035.2,1447.48L2035.9,1447.07L2036.6,1446.56L2037.3,1446.01L2038,1445.6L2038.7,1444.99L2039.4,1445.06L2040.1,1444.93L2040.8,1444.95L2041.5,1445.16L2042.2,1444.1L2042.9,1444.87L2043.6,1443.58L2044.3,1444.43L2045,1445.24L2045.7,1443.14L2046.4,1443.84L2047.1,1445.09L2047.8,1443.24L2048.5,1443.42L2049.2,1443.36L2049.9,1444.41L2050.6,1445.17L2051.3,1445.16L2052,1444.59L2052.7,1444.42L2053.4,1444.72L2054.1,1445.41L2054.8,1445.64L2055.5,1444.1L2056.2,1444.12L2056.9,1444.3L2057.6,1445.15L2058.3,1446.02L2059,1445.81L2059.7,1445.28L2060.4,1444.78L2061.1,1445.15L2061.8,1446.14L2062.5,1444.7L2063.2,1445.14L2063.9,1445.48L2064.6,1444.84L2065.3,1445.45L2066,1445.18L2066.7,1446.09L2067.4,1445.97L2068.1,1444.34L2068.8,1445.26L2069.5,1444.52L2070.2,1445.29L2070.9,1445.21L2071.6,1445.8L2072.3,1444.36L2073,1445.62L2073.7,1444.73L2074.4,1445.85L2075.1,1445.67L2075.8,1446.1L2076.5,1445.08L2077.2,1444.76L2077.9,1445.31L2078.6,1445.34L2079.3,1446.05L2080,1444.95L2080.7,1446.36L2081.4,1446.11L2082.1,1445.56L2082.8,1445.4L2083.5,1445.95L2084.2,1445.41L2084.9,1446.18L2085.6,1446.27L2086.3,1445.59L2087,1445.29L2087.7,1444.71L2088.4,1445.41L2089.1,1444.53L2089.8,1444.8L2090.5,1444.39L2091.2,1444.89L2091.9,1445.43L2092.6,1445.06L2093.3,1444.98L2094,1445.78L2094.7,1445.94L2095.4,1445.69L2096.1,1445.32L2096.8,1446.2L2097.5,1445.68L2098.2,1446.06L2098.9,1444.71L2099.6,1445.56L2100.3,1445.41L2101,1446.3L2101.7,1445.99L2102.4,1445.44L2103.1,1445.85L2103.8,1445.98L2104.5,1447.1L2105.2,1446.5L2105.9,1446.78L2106.6,1447.32L2107.3,1447.35L2108,1446.8L2108.7,1447.4L2109.4,1447.43L2110.1,1447.06L2110.8,1447.2L2111.5,1447.26L2112.2,1447.28L2112.9,1447L2113.6,1446.99L2114.3,1447.03L2115,1446.23L2115.7,1446.8L2116.4,1446.58L2117.1,1446.21L2117.8,1446.71L2118.5,1445.91L2119.2,1445.92L2119.9,1446.21L2120.6,1445.89L2121.3,1445.82L2122,1445.62L2122.7,1445.64L2123.4,1445.94L2124.1,1445.86L2124.8,1445L2125.5,1446.3L2126.2,1444.87L2126.9,1446.13L2127.6,1446.08L2128.3,1445.67L2129,1444.77L2129.7,1446.09L2130.4,1446.4L2131.1,1445.27L2131.8,1445.72L2132.5,1446.35L2133.2,1445.18L2133.9,1445.7L2134.6,1445.6L2135.3,1446.5L2136,1445.77L2136.7,1446.66L2137.4,1446.28L2138.1,1445.7L2138.8,1444.92L2139.5,1444.91L2140.2,1446.05L2140.9,1444.73L2141.6,1444.64L2142.3,1445.99L2143,1445.99L2143.7,1445.63L2144.4,1444L2145.1,1445.37L2145.8,1444.72L2146.5,1444.38L2147.2,1444.79L2147.9,1444.88L2148.6,1444.31L2149.3,1443.68L2150,1444.9L2150.7,1445.25L2151.4,1444.21L2152.1,1442.93L2152.8,1443.07L2153.5,1444.87L2154.2,1443.35L2154.9,1443.25L2155.6,1443.74L2156.3,1445.71L2157,1445.96L2157.7,1445.34L2158.4,1444.5L2159.1,1444.62L2159.8,1445.75L2160.5,1444.66L2161.2,1444.96L2161.9,1445.67L2162.6,1446.12L2163.3,1446.24L2164,1445.92L2164.7,1446.4L2165.4,1445.77L2166.1,1445.64L2166.8,1445.13L2167.5,1446.56L2168.2,1446.57L2168.9,1445.81L2169.6,1446.47L2170.3,1446.46L2171,1445.77L2171.7,1445.58L2172.4,1445.43L2173.1,1446.04L2173.8,1446.38L2174.5,1446.56L2175.2,1445.29L2175.9,1445.37L2176.6,1446.39L2177.3,1445.57L2178,1446.41L2178.7,1445.71L2179.4,1445.06L2180.1,1444.82L2180.8,1445.43L2181.5,1444.93L2182.2,1445.54L2182.9,1444.71L2183.6,1445.98L2184.3,1446.39L2185,1445.65L2185.7,1444.88L2186.4,1445.51L2187.1,1445.5L2187.8,1445.4L2188.5,1445.58L2189.2,1445.58L2189.9,1446.23L2190.6,1446.28L2191.3,1445.57L2192,1446.5L2192.7,1446.17L2193.4,1446.59L2194.1,1445.98L2194.8,1446.21L2195.5,1445.57L2196.2,1446.38L2196.9,1446.56L2197.6,1446.79L2198.3,1446.75L2199,1446.39L2199.7,1445.5L2200.4,1445.23L2201.1,1446.52L2201.8,1445.29L2202.5,1446.54L2203.2,1445.44L2203.9,1446.02L2204.6,1446.45L2205.3,1446.12L2206,1445.11L2206.7,1445.38L2207.4,1445.58L2208.1,1445.4L2208.8,1445.26L2209.5,1445.92L2210.2,1445.4L2210.9,1445.54L2211.6,1445.84L2212.3,1446.11L2213,1445.69L2213.7,1446.88L2214.4,1446.64L2215.1,1446.07L2215.8,1446.28L2216.5,1446.79L2217.2,1447.32L2217.9,1446.99L2218.6,1447.78L2219.3,1447.52L2220,1447.92L2220.7,1447.85L2221.4,1447.66L2222.1,1448.04L2222.8,1447.79L2223.5,1447.28L2224.2,1447.54L2224.9,1447.17L2225.6,1446.92L2226.3,1446.93L2227,1446.22L2227.7,1445.98L2228.4,1445.22L2229.1,1445.14L2229.8,1445.94L2230.5,1446.18L2231.2,1445.5L2231.9,1446.25L2232.6,1445.06L2233.3,1445.55L2234,1446.13L2234.7,1445.35L2235.4,1446.14L2236.1,1445.46L2236.8,1445.84L2237.5,1445.31L2238.2,1444.81L2238.9,1444.51L2239.6,1445.4L2240.3,1445.72L2241,1445.27L2241.7,1444.79L2242.4,1444.43L2243.1,1444.89L2243.8,1444.58L2244.5,1445.38L2245.2,1445.99L2245.9,1444.89L2246.6,1445.35L2247.3,1445.77L2248,1445.54L2248.7,1445.37L2249.4,1445.74L2250.1,1445.26L2250.8,1444.86L2251.5,1445.31L2252.2,1445.39L2252.9,1445.04L2253.6,1445.26L2254.3,1445.89L2255,1444.96L2255.7,1446.05L2256.4,1444.49L2257.1,1444.73L2257.8,1446.01L2258.5,1445.08L2259.2,1445.41L2259.9,1445.21L2260.6,1445.41L2261.3,1444.94L2262,1445.53L2262.7,1444.95L2263.4,1444.85L2264.1,1446.18L2264.8,1446.28L2265.5,1446.18L2266.2,1446.15L2266.9,1445.13L2267.6,1445.47L2268.3,1446.22L2269,1445.63L2269.7,1445.6L2270.4,1445.13L2271.1,1445.18L2271.8,1446.09L2272.5,1445.93L2273.2,1446.46L2273.9,1445.19L2274.6,1445.92L2275.3,1445.89L2276,1446.87L2276.7,1446.6L2277.4,1446.71L2278.1,1446.68L2278.8,1447.51L2279.5,1447.06L2280.2,1447.15L2280.9,1447.72L2281.6,1447.43L2282.3,1447.35L2283,1446.89L2283.7,1446.91L2284.4,1447.03L2285.1,1447.27L2285.8,1447.06L2286.5,1446.92L2287.2,1447.3L2287.9,1447.13L2288.6,1447.82L2289.3,1447.8L2290,1447.57L2290.7,1447.24L2291.4,1447.79L2292.1,1447.11L2292.8,1447.28L2293.5,1447.89L2294.2,1447.95L2294.9,1447.99L2295.6,1447.34L2296.3,1447.53L2297,1447.91L2297.7,1447.85L2298.4,1448.04L2299.1,1447.92L2299.8,1447.81L2300.5,1447.84L2301.2,1447.87L2301.9,1447.9L2302.6,1447.93L2302.6,1449.4ZM2316.3,1449.4L2316.3,1448.66L2317,1448.8L2317.7,1448.94L2318.4,1448.84L2319.1,1448.56L2319.8,1448.28L2320.5,1447.98L2321.2,1447.66L2321.9,1447.35L2322.6,1447.03L2323.3,1446.72L2324,1446.4L2324.7,1446.29L2325.4,1446.18L2326.1,1446.08L2326.8,1445.97L2327.5,1445.86L2327.5,1449.4Z" fill="#FF8800"/><path d="M402,1449.4 L402,1355.4 L404.4,1353.1 L405.5,1362.2 L406.7,1372 L408.9,1374.2 L410.4,1381 L411.2,1369 L411.7,1369 L412.3,1378 L413.8,1374.2 L415,1369.7 L416.5,1369.3 L417.4,1373.5 L418.4,1369.7 L418.4,1449.4Z" fill="#FF8800" /><path d="M861.9,1449.4 L861.9,1358.4 L863,1356.9 L863.6,1350.1 L865.4,1352.4 L866.2,1355.4 L866.6,1367.4 L868.4,1361 L869.2,1363.7 L870.7,1363.3 L872.2,1365.9 L872.6,1368.2 L873.5,1362.2 L874.2,1378.7 L875.6,1386.3 L877.5,1390 L879,1385.1 L880.1,1387.8 L881.5,1386.3 L881.5,1449.4Z" fill="#FF8800" /><path d="M1423.5,1449.4 L1423.5,1380.3 L1424.7,1379.9 L1426.5,1382.5 L1426.8,1372.7 L1427.4,1365.2 L1428.2,1373.5 L1429.5,1369.7 L1430,1371.2 L1430,1449.4Z" fill="#FF8800" /><path d="M1943,1449.4 L1943,1346 L1943.5,1344.9 L1945.1,1340.6 L1945.7,1338.4 L1947.5,1336.2 L1948.7,1340.6 L1950.3,1330.8 L1951.5,1324.2 L1952.2,1332.9 L1953.5,1331.3 L1954.6,1336.2 L1955.3,1353.6 L1956.4,1349.3 L1957.3,1359.1 L1959,1361.2 L1960.7,1361.2 L1960.7,1449.4Z" fill="#FF8800" /><path d="M2303.2,1449.4 L2303.2,1386.6 L2304.4,1381.7 L2305.6,1373.9 L2307.3,1372.9 L2308.3,1357.3 L2309.8,1351.4 L2311.7,1348.5 L2313.2,1342.6 L2315.6,1342.1 L2315.6,1449.4Z" fill="#FF8800" /><path d="M2327.9,1449.4 L2327.9,1324.1 L2329.8,1324.1 L2330.8,1338.7 L2332.7,1338.2 L2333.5,1353.4 L2334.5,1345.5 L2336.2,1353.4 L2337.6,1365.1 L2338.6,1362.1 L2339.8,1360.2 L2339.8,1449.4Z" fill="#FF8800" /><path d="M418.4,1374.2C418.4,1318.4 2303.2,1330.8 2303.2,1386.6" fill="none" stroke="#FF8800" stroke-width="0.9" opacity="0.55"/><path d="M1961,1360.7C1961,1298.2 2328,1251.4 2328,1313.9" fill="none" stroke="#FF8800" stroke-width="4.2" opacity="1.0"/><rect x="1325.39" y="1292.2" width="70.22" height="88" fill="#fff"/><rect x="2098.69" y="1246" width="91.42" height="88" fill="#fff"/><rect x="2265.39" y="1235.8" width="112.62" height="88" fill="#fff"/><path d="M2310,1341.9 L2320.3,1341.9 L2320.8,1324.1 L2310.5,1324.1Z" fill="#FF8800" /><rect x="2310.5" y="1318" width="10.8" height="1" fill="#FF8800" opacity="0.4"/><rect x="2327.9" y="1318" width="1.6" height="1" fill="#FF8800" opacity="0.4"/><path d="M400,1269.75V1451.55" stroke="#000" stroke-width="4.3" fill="none"/><path d="M380.3,1271.9H400" stroke="#000" stroke-width="4.3" fill="none"/><path d="M380.3,1316.28H400" stroke="#000" stroke-width="4.3" fill="none"/><path d="M380.3,1360.65H400" stroke="#000" stroke-width="4.3" fill="none"/><path d="M380.3,1405.03H400" stroke="#000" stroke-width="4.3" fill="none"/><path d="M380.3,1449.4H400" stroke="#000" stroke-width="4.3" fill="none"/><g transform="translate(360.6,1288.9)" font-family="Liberation Sans, sans-serif" font-size="45.33" fill="#000" stroke="#000" stroke-width="0.8" stroke-linejoin="round" opacity="0.999"><text transform="translate(-83.55,0.43) scale(1.1289,1.0385)">115</text></g><g transform="translate(360.6,1333.28)" font-family="Liberation Sans, sans-serif" font-size="45.33" fill="#000" stroke="#000" stroke-width="0.8" stroke-linejoin="round" opacity="0.999"><text transform="translate(-97.68,0.37) scale(1.0797,1.0510)">86</text><text transform="translate(-40.6,-0.1) scale(0.8439,1.0530)">.</text><text transform="translate(-26.82,-0.1) scale(0.9606,1.0363)">2</text></g><g transform="translate(360.6,1377.65)" font-family="Liberation Sans, sans-serif" font-size="45.33" fill="#000" stroke="#000" stroke-width="0.8" stroke-linejoin="round" opacity="0.999"><text transform="translate(-97.07,0.43) scale(1.0512,1.0385)">57</text><text transform="translate(-40.6,-0.1) scale(0.8439,1.0530)">.</text><text transform="translate(-26.2,0.43) scale(0.9396,1.0385)">5</text></g><g transform="translate(360.6,1422.03)" font-family="Liberation Sans, sans-serif" font-size="45.33" fill="#000" stroke="#000" stroke-width="0.8" stroke-linejoin="round" opacity="0.999"><text transform="translate(-97.69,0.37) scale(1.0688,1.0512)">28</text><text transform="translate(-40.6,-0.1) scale(0.8439,1.0530)">.</text><text transform="translate(-26.89,0.37) scale(1.0082,1.0510)">8</text></g><g transform="translate(230.6,1351.85) rotate(-90)" font-family="Liberation Sans, sans-serif" font-size="45.33" fill="#000" stroke="#000" stroke-width="0.8" stroke-linejoin="round" opacity="0.999"><text transform="translate(-61.25,-0.4) scale(0.9368,1.0063)">RPKM</text></g><g transform="translate(1360.5,1348.35)" font-family="Liberation Sans, sans-serif" font-size="34.0" fill="#000" stroke="#000" stroke-width="0.6" stroke-linejoin="round" opacity="0.999"><text transform="translate(-9.14,0.1) scale(0.9497,1.0522)">1</text></g><g transform="translate(2144.4,1302.15)" font-family="Liberation Sans, sans-serif" font-size="34.0" fill="#000" stroke="#000" stroke-width="0.6" stroke-linejoin="round" opacity="0.999"><text transform="translate(-20.74,0.1) scale(1.0798,1.0520)">90</text></g><g transform="translate(2321.7,1291.95)" font-family="Liberation Sans, sans-serif" font-size="34.0" fill="#000" stroke="#000" stroke-width="0.6" stroke-linejoin="round" opacity="0.999"><text transform="translate(-30.54,0.1) scale(1.0835,1.0522)">358</text></g><g transform="translate(2340.2,1265.9)" font-family="Liberation Sans, sans-serif" font-size="45.55" fill="#FF8800" stroke="#FF8800" stroke-width="0.8" stroke-linejoin="round" opacity="0.999"><text transform="translate(-1244.6,-0.83) scale(0.9394,1.0355)">CRYZ</text><text transform="translate(-1112.88,-0.77) scale(0.9644,1.0375)">AARS</text><text transform="translate(-991.65,3.11) scale(0.8481,0.7320)">_</text><text transform="translate(-968.88,-2.22) scale(1.0323,0.9921)">HepG2</text><text transform="translate(-816.9,3.11) scale(0.8481,0.7320)">_</text><text transform="translate(-793.88,-0.84) scale(1.0951,1.0351)">2014</text><text transform="translate(-681.01,-3.37) scale(1.0028,0.7213)">-</text><text transform="translate(-663.76,-1.3) scale(1.0442,1.0207)">12</text><text transform="translate(-608.07,-3.37) scale(1.0028,0.7213)">-</text><text transform="translate(-590.88,-1.3) scale(1.0605,1.0061)">17</text><text transform="translate(-535.05,3.11) scale(0.8481,0.7320)">_</text><text transform="translate(-512.06,-1.3) scale(0.9713,1.0061)">KD</text><text transform="translate(-449.13,2.23) scale(1.1312,1.0509)">/</text><text transform="translate(-433.07,-0.83) scale(0.8993,1.0355)">KO</text><text transform="translate(-370.85,-3.37) scale(1.0028,0.7213)">-</text><text transform="translate(-353.71,-1.3) scale(0.9601,1.0206)">2</text><text transform="translate(-312.02,-0.77) scale(1.0747,0.9920)">IncLevel</text><text transform="translate(-127,-1.3) scale(0.9333,0.8878)">:</text><text transform="translate(-97.95,-0.84) scale(1.0009,1.0353)">0</text><text transform="translate(-69.16,-1.3) scale(0.8362,0.9522)">.</text><text transform="translate(-55.59,-0.77) scale(1.0814,1.0374)">29</text></g></g><path d="M397.85,1555.8H2341.55" stroke="#000" stroke-width="4.3" fill="none"/><path d="M400,1555.8V1575.4" stroke="#000" stroke-width="4.3" fill="none"/><g transform="translate(400,1620.6)" font-family="Liberation Sans, sans-serif" font-size="36.52" fill="#000" stroke="#000" stroke-width="0.64" stroke-linejoin="round" opacity="0.999"><text transform="translate(-89.94,-0.19) scale(1.1029,1.0188)">75188955</text></g><path d="M787.88,1555.8V1575.4" stroke="#000" stroke-width="4.3" fill="none"/><g transform="translate(787.88,1620.6)" font-family="Liberation Sans, sans-serif" font-size="36.52" fill="#000" stroke="#000" stroke-width="0.64" stroke-linejoin="round" opacity="0.999"><text transform="translate(-89.94,-0.19) scale(1.1030,1.0188)">75185681</text></g><path d="M1175.76,1555.8V1575.4" stroke="#000" stroke-width="4.3" fill="none"/><g transform="translate(1175.76,1620.6)" font-family="Liberation Sans, sans-serif" font-size="36.52" fill="#000" stroke="#000" stroke-width="0.64" stroke-linejoin="round" opacity="0.999"><text transform="translate(-89.95,-0.19) scale(1.1043,1.0188)">75182407</text></g><path d="M1563.64,1555.8V1575.4" stroke="#000" stroke-width="4.3" fill="none"/><g transform="translate(1563.64,1620.6)" font-family="Liberation Sans, sans-serif" font-size="36.52" fill="#000" stroke="#000" stroke-width="0.64" stroke-linejoin="round" opacity="0.999"><text transform="translate(-89.95,-0.19) scale(1.1046,1.0188)">75179133</text></g><path d="M1951.52,1555.8V1575.4" stroke="#000" stroke-width="4.3" fill="none"/><g transform="translate(1951.52,1620.6)" font-family="Liberation Sans, sans-serif" font-size="36.52" fill="#000" stroke="#000" stroke-width="0.64" stroke-linejoin="round" opacity="0.999"><text transform="translate(-89.95,-0.19) scale(1.1088,1.0188)">75175859</text></g><path d="M2339.4,1555.8V1575.4" stroke="#000" stroke-width="4.3" fill="none"/><g transform="translate(2339.4,1620.6)" font-family="Liberation Sans, sans-serif" font-size="36.52" fill="#000" stroke="#000" stroke-width="0.64" stroke-linejoin="round" opacity="0.999"><text transform="translate(-89.94,-0.19) scale(1.1029,1.0188)">75172585</text></g><g transform="translate(1369.2,1682.6)" font-family="Liberation Sans, sans-serif" font-size="45.33" fill="#000" stroke="#000" stroke-width="0.8" stroke-linejoin="round" opacity="0.999"><text transform="translate(-418.18,0.13) scale(1.0726,1.0216)">Genomic</text><text transform="translate(-206.82,0.13) scale(1.1131,1.0216)">coordinate</text><text transform="translate(45.49,-3.9) scale(0.7677,0.9030)">(</text><text transform="translate(61.69,0.13) scale(1.0891,1.0216)">chr1</text><text transform="translate(163.61,-3.9) scale(0.7678,0.9030)">)</text><text transform="translate(176.37,-1.39) scale(1.2262,0.9986)">,</text><text transform="translate(208.15,5.44) scale(0.9277,1.2200)">&quot;</text><text transform="translate(226.36,1.22) scale(1.0059,1.0566)">-</text><text transform="translate(244.64,5.44) scale(0.9277,1.2200)">&quot;</text><text transform="translate(277.69,0.13) scale(1.1120,1.0216)">strand</text></g><g transform="translate(1600,98)" font-family="Liberation Sans, sans-serif" font-size="56.67" fill="#000" stroke="#000" stroke-width="0" stroke-linejoin="round" opacity="0.999"><text transform="translate(-1614.04,0.96) scale(1.1005,1.0514)">chr1</text><text transform="translate(-1489.53,0.2) scale(1.0651,1.0044)">:</text><text transform="translate(-1470.47,0.95) scale(1.1074,1.0533)">75188802</text><text transform="translate(-1188.09,0.2) scale(1.0651,1.0044)">:</text><text transform="translate(-1169.05,1.19) scale(1.1119,1.0591)">75188954</text><text transform="translate(-886.65,0.2) scale(1.0651,1.0044)">:</text><text transform="translate(-868.87,4.04) scale(1.0568,1.2955)">-</text><text transform="translate(-849.69,1.68) scale(0.9974,0.9984)">@</text><text transform="translate(-792.94,0.96) scale(1.1005,1.0514)">chr1</text><text transform="translate(-668.43,0.2) scale(1.0651,1.0044)">:</text><text transform="translate(-649.36,0.96) scale(1.1074,1.0534)">75175782</text><text transform="translate(-366.98,0.2) scale(1.0651,1.0044)">:</text><text transform="translate(-347.93,1.19) scale(1.1087,1.0594)">75175931</text><text transform="translate(-65.54,0.2) scale(1.0651,1.0044)">:</text><text transform="translate(-47.78,4.04) scale(1.0568,1.2955)">-</text><text transform="translate(-28.58,1.68) scale(0.9974,0.9984)">@</text><text transform="translate(28.17,0.96) scale(1.1005,1.0514)">chr1</text><text transform="translate(152.67,0.2) scale(1.0651,1.0044)">:</text><text transform="translate(171.74,0.96) scale(1.1108,1.0534)">75172787</text><text transform="translate(454.11,0.2) scale(1.0651,1.0044)">:</text><text transform="translate(473.17,0.95) scale(1.1129,1.0533)">75172888</text><text transform="translate(755.55,0.2) scale(1.0651,1.0044)">:</text><text transform="translate(773.33,4.04) scale(1.0568,1.2955)">-</text><text transform="translate(792.53,1.68) scale(0.9974,0.9984)">@</text><text transform="translate(849.28,0.96) scale(1.1005,1.0514)">chr1</text><text transform="translate(973.78,0.2) scale(1.0651,1.0044)">:</text><text transform="translate(992.85,1.19) scale(1.1104,1.0592)">75172583</text><text transform="translate(1275.22,0.2) scale(1.0651,1.0044)">:</text><text transform="translate(1294.28,0.95) scale(1.1129,1.0533)">75172678</text><text transform="translate(1576.66,0.2) scale(1.0651,1.0044)">:</text><text transform="translate(1594.44,4.04) scale(1.0568,1.2955)">-</text></g><path d="M418.1,2194.1H2339.7" stroke="#000" stroke-width="3.3" fill="none" stroke-linecap="square"/><path d="M431.03,2182.2L438.79,2194.1L431.03,2206M469.82,2182.2L477.58,2194.1L469.82,2206M508.6,2182.2L516.36,2194.1L508.6,2206M547.39,2182.2L555.15,2194.1L547.39,2206M586.18,2182.2L593.94,2194.1L586.18,2206M624.97,2182.2L632.73,2194.1L624.97,2206M663.76,2182.2L671.52,2194.1L663.76,2206M702.54,2182.2L710.3,2194.1L702.54,2206M741.33,2182.2L749.09,2194.1L741.33,2206M780.12,2182.2L787.88,2194.1L780.12,2206M818.91,2182.2L826.67,2194.1L818.91,2206M857.7,2182.2L865.46,2194.1L857.7,2206M896.48,2182.2L904.24,2194.1L896.48,2206M935.27,2182.2L943.03,2194.1L935.27,2206M974.06,2182.2L981.82,2194.1L974.06,2206M1012.85,2182.2L1020.61,2194.1L1012.85,2206M1051.64,2182.2L1059.4,2194.1L1051.64,2206M1090.42,2182.2L1098.18,2194.1L1090.42,2206M1129.21,2182.2L1136.97,2194.1L1129.21,2206M1168,2182.2L1175.76,2194.1L1168,2206M1206.79,2182.2L1214.55,2194.1L1206.79,2206M1245.58,2182.2L1253.34,2194.1L1245.58,2206M1284.36,2182.2L1292.12,2194.1L1284.36,2206M1323.15,2182.2L1330.91,2194.1L1323.15,2206M1361.94,2182.2L1369.7,2194.1L1361.94,2206M1400.73,2182.2L1408.49,2194.1L1400.73,2206M1439.52,2182.2L1447.28,2194.1L1439.52,2206M1478.3,2182.2L1486.06,2194.1L1478.3,2206M1517.09,2182.2L1524.85,2194.1L1517.09,2206M1555.88,2182.2L1563.64,2194.1L1555.88,2206M1594.67,2182.2L1602.43,2194.1L1594.67,2206M1633.46,2182.2L1641.22,2194.1L1633.46,2206M1672.24,2182.2L1680,2194.1L1672.24,2206M1711.03,2182.2L1718.79,2194.1L1711.03,2206M1749.82,2182.2L1757.58,2194.1L1749.82,2206M1788.61,2182.2L1796.37,2194.1L1788.61,2206M1827.4,2182.2L1835.16,2194.1L1827.4,2206M1866.18,2182.2L1873.94,2194.1L1866.18,2206M1904.97,2182.2L1912.73,2194.1L1904.97,2206M1982.55,2182.2L1990.31,2194.1L1982.55,2206M2021.34,2182.2L2029.1,2194.1L2021.34,2206M2060.12,2182.2L2067.88,2194.1L2060.12,2206M2098.91,2182.2L2106.67,2194.1L2098.91,2206M2137.7,2182.2L2145.46,2194.1L2137.7,2206M2176.49,2182.2L2184.25,2194.1L2176.49,2206M2215.28,2182.2L2223.04,2194.1L2215.28,2206M2254.06,2182.2L2261.82,2194.1L2254.06,2206M2292.85,2182.2L2300.61,2194.1L2292.85,2206" stroke="#000" stroke-width="3.1" fill="none" stroke-linejoin="miter" stroke-linecap="square"/><rect x="400.1" y="2164.3" width="18" height="59.6" fill="#000"/><rect x="1942.7" y="2164.3" width="17.9" height="59.6" fill="#000"/><rect x="2328" y="2164.3" width="11.7" height="59.6" fill="#000"/><path d="M418.1,2392.6H2339.7" stroke="#000" stroke-width="3.3" fill="none" stroke-linecap="square"/><path d="M431.03,2380.7L438.79,2392.6L431.03,2404.5M469.82,2380.7L477.58,2392.6L469.82,2404.5M508.6,2380.7L516.36,2392.6L508.6,2404.5M547.39,2380.7L555.15,2392.6L547.39,2404.5M586.18,2380.7L593.94,2392.6L586.18,2404.5M624.97,2380.7L632.73,2392.6L624.97,2404.5M663.76,2380.7L671.52,2392.6L663.76,2404.5M702.54,2380.7L710.3,2392.6L702.54,2404.5M741.33,2380.7L749.09,2392.6L741.33,2404.5M780.12,2380.7L787.88,2392.6L780.12,2404.5M818.91,2380.7L826.67,2392.6L818.91,2404.5M857.7,2380.7L865.46,2392.6L857.7,2404.5M896.48,2380.7L904.24,2392.6L896.48,2404.5M935.27,2380.7L943.03,2392.6L935.27,2404.5M974.06,2380.7L981.82,2392.6L974.06,2404.5M1012.85,2380.7L1020.61,2392.6L1012.85,2404.5M1051.64,2380.7L1059.4,2392.6L1051.64,2404.5M1090.42,2380.7L1098.18,2392.6L1090.42,2404.5M1129.21,2380.7L1136.97,2392.6L1129.21,2404.5M1168,2380.7L1175.76,2392.6L1168,2404.5M1206.79,2380.7L1214.55,2392.6L1206.79,2404.5M1245.58,2380.7L1253.34,2392.6L1245.58,2404.5M1284.36,2380.7L1292.12,2392.6L1284.36,2404.5M1323.15,2380.7L1330.91,2392.6L1323.15,2404.5M1361.94,2380.7L1369.7,2392.6L1361.94,2404.5M1400.73,2380.7L1408.49,2392.6L1400.73,2404.5M1439.52,2380.7L1447.28,2392.6L1439.52,2404.5M1478.3,2380.7L1486.06,2392.6L1478.3,2404.5M1517.09,2380.7L1524.85,2392.6L1517.09,2404.5M1555.88,2380.7L1563.64,2392.6L1555.88,2404.5M1594.67,2380.7L1602.43,2392.6L1594.67,2404.5M1633.46,2380.7L1641.22,2392.6L1633.46,2404.5M1672.24,2380.7L1680,2392.6L1672.24,2404.5M1711.03,2380.7L1718.79,2392.6L1711.03,2404.5M1749.82,2380.7L1757.58,2392.6L1749.82,2404.5M1788.61,2380.7L1796.37,2392.6L1788.61,2404.5M1827.4,2380.7L1835.16,2392.6L1827.4,2404.5M1866.18,2380.7L1873.94,2392.6L1866.18,2404.5M1904.97,2380.7L1912.73,2392.6L1904.97,2404.5M1943.76,2380.7L1951.52,2392.6L1943.76,2404.5M1982.55,2380.7L1990.31,2392.6L1982.55,2404.5M2021.34,2380.7L2029.1,2392.6L2021.34,2404.5M2060.12,2380.7L2067.88,2392.6L2060.12,2404.5M2098.91,2380.7L2106.67,2392.6L2098.91,2404.5M2137.7,2380.7L2145.46,2392.6L2137.7,2404.5M2176.49,2380.7L2184.25,2392.6L2176.49,2404.5M2215.28,2380.7L2223.04,2392.6L2215.28,2404.5M2254.06,2380.7L2261.82,2392.6L2254.06,2404.5M2292.85,2380.7L2300.61,2392.6L2292.85,2404.5" stroke="#000" stroke-width="3.1" fill="none" stroke-linejoin="miter" stroke-linecap="square"/><rect x="400.1" y="2362.8" width="18" height="59.6" fill="#000"/><rect x="2303.1" y="2362.8" width="12.2" height="59.6" fill="#000"/><rect x="2328" y="2362.8" width="11.7" height="59.6" fill="#000"/></svg></body></html>
